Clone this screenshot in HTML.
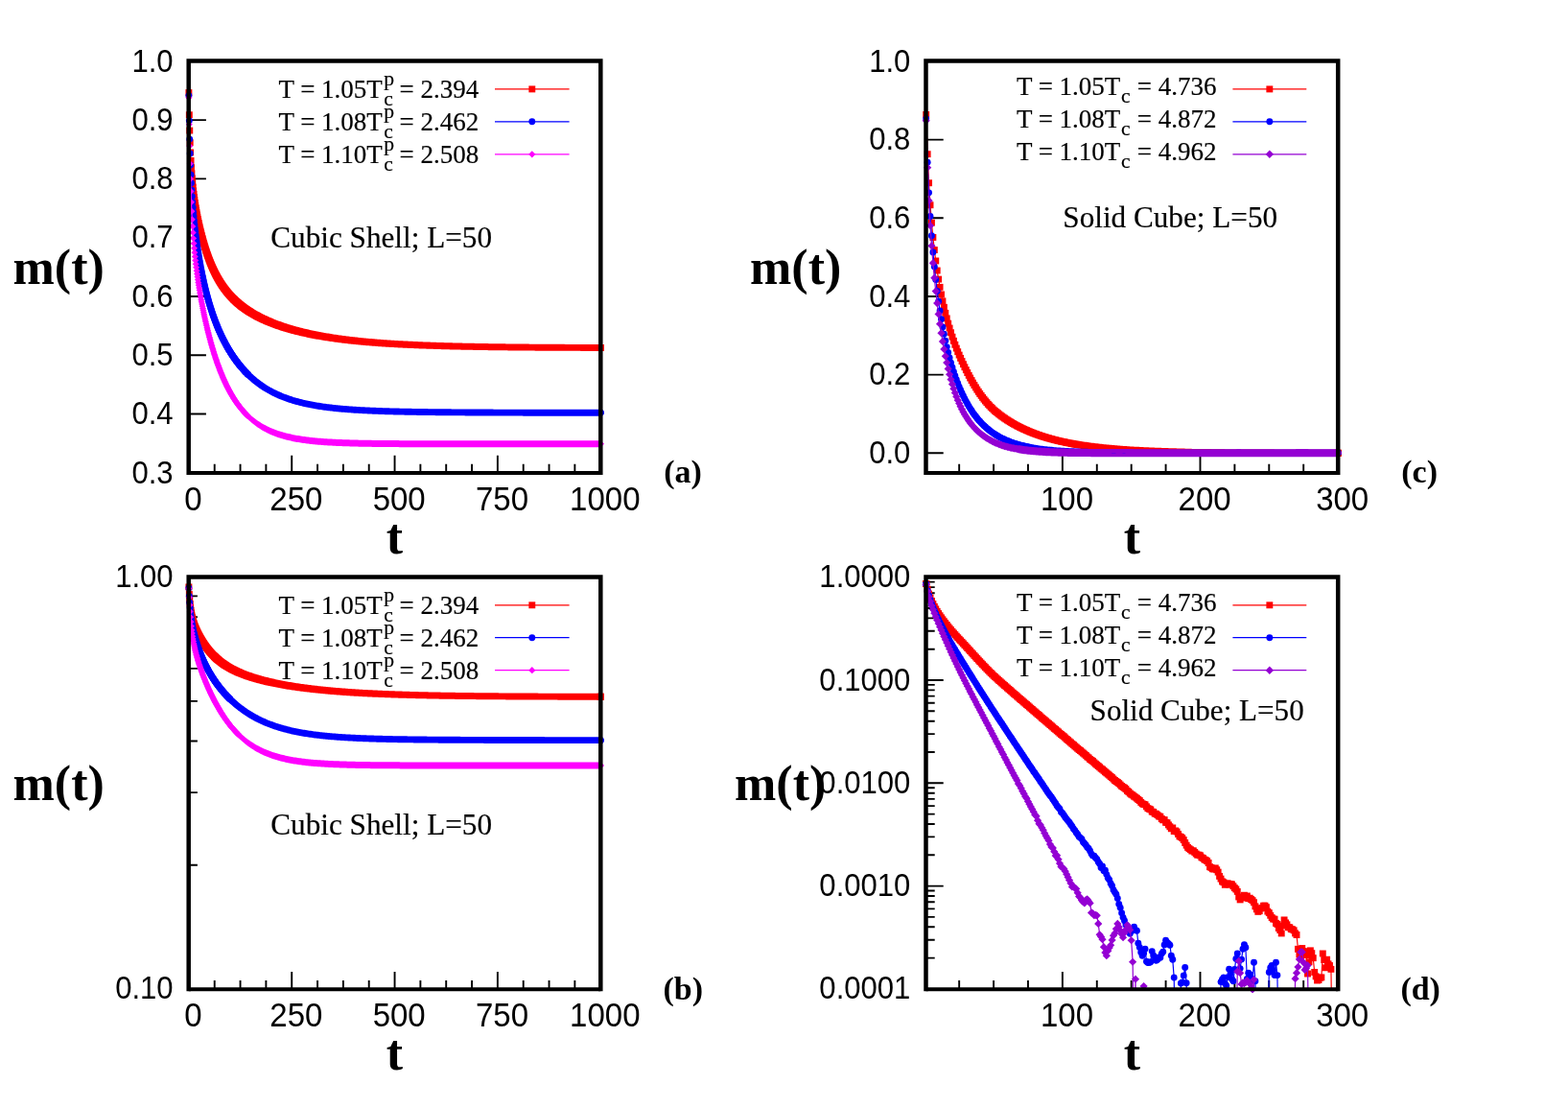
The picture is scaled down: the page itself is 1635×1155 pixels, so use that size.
<!DOCTYPE html>
<html lang="en"><head><meta charset="utf-8"><title>m(t) relaxation: Cubic Shell and Solid Cube, L=50</title>
<style>html,body{margin:0;padding:0;background:#fff}svg{display:block}text{fill:#000}.s{stroke:#000;stroke-width:0.18px}.n{stroke:#000;stroke-width:0.2px}</style></head><body>
<svg width="1635" height="1155" viewBox="0 0 1635 1155" role="img" aria-label="Magnetisation m(t) versus time t for a cubic shell and a solid cube, L=50">
<rect width="1635" height="1155" fill="#fff"/>
<defs>
<clipPath id="clipa"><rect x="192.4" y="59.4" width="438.3" height="437.8"/></clipPath>
<clipPath id="lclipa"><rect x="196.9" y="63.9" width="429.3" height="428.8"/></clipPath>
<clipPath id="clipb"><rect x="192.4" y="597.2" width="438.3" height="438.2"/></clipPath>
<clipPath id="lclipb"><rect x="196.9" y="601.7" width="429.3" height="429.2"/></clipPath>
<clipPath id="clipc"><rect x="961.2" y="59.4" width="438.4" height="437.8"/></clipPath>
<clipPath id="lclipc"><rect x="965.7" y="63.9" width="429.4" height="428.8"/></clipPath>
<clipPath id="clipd"><rect x="961.2" y="597.2" width="438.4" height="438.2"/></clipPath>
<clipPath id="lclipd"><rect x="965.7" y="601.7" width="429.4" height="429.2"/></clipPath>
<marker id="mk_sq_ff0000" markerUnits="userSpaceOnUse" markerWidth="10" markerHeight="10" viewBox="-5 -5 10 10" refX="0" refY="0" orient="0" overflow="visible"><rect x="-3.45" y="-3.45" width="6.9" height="6.9" fill="#ff0000"/></marker>
<marker id="mk_ci_0000ff" markerUnits="userSpaceOnUse" markerWidth="10" markerHeight="10" viewBox="-5 -5 10 10" refX="0" refY="0" orient="0" overflow="visible"><circle r="3.45" fill="#0000ff"/></marker>
<marker id="mk_di_ff00ff" markerUnits="userSpaceOnUse" markerWidth="10" markerHeight="10" viewBox="-5 -5 10 10" refX="0" refY="0" orient="0" overflow="visible"><path d="M-3.5 0L0 -3.5L3.5 0L0 3.5z" fill="#ff00ff"/></marker>
<marker id="mk_di_9400d3" markerUnits="userSpaceOnUse" markerWidth="10" markerHeight="10" viewBox="-5 -5 10 10" refX="0" refY="0" orient="0" overflow="visible"><path d="M-4.1 0L0 -4.1L4.1 0L0 4.1z" fill="#9400d3"/></marker>
</defs>
<path d="M304.23 492.7V474.7M411.55 492.7V474.7M518.88 492.7V474.7M223.73 492.7V483.7M250.56 492.7V483.7M277.39 492.7V483.7M331.06 492.7V483.7M357.89 492.7V483.7M384.72 492.7V483.7M438.38 492.7V483.7M465.21 492.7V483.7M492.04 492.7V483.7M545.71 492.7V483.7M572.54 492.7V483.7M599.37 492.7V483.7M196.9 431.44H214.9M196.9 370.19H214.9M196.9 308.93H214.9M196.9 247.67H214.9M196.9 186.41H214.9M196.9 125.16H214.9" stroke="#000" stroke-width="1.9" fill="none"/>
<g clip-path="url(#clipa)">
<path clip-path="url(#lclipa)" d="M196.9 96.59L197.33 119.73L197.76 136.07L198.19 148.73L198.62 158.95L199.05 167.41L199.48 174.56L199.91 180.69L200.33 186.04L200.76 190.76L201.19 195L201.62 198.84L202.05 202.36L202.48 205.62L202.91 208.67L203.34 211.54L203.77 214.25L204.2 216.84L204.63 219.32L205.06 221.7L205.49 223.99L205.92 226.21L206.34 228.35L206.77 230.44L207.2 232.46L207.63 234.43L208.06 236.35L208.49 238.22L208.92 240.04L209.35 241.82L209.78 243.55L210.21 245.25L210.64 246.9L211.07 248.52L211.5 250.1L211.93 251.65L212.35 253.17L212.78 254.65L213.21 256.09L213.64 257.51L214.07 258.9L214.5 260.26L214.93 261.58L215.36 262.89L215.79 264.16L216.22 265.41L216.65 266.63L217.08 267.83L217.51 269L217.94 270.15L218.37 271.28L218.79 272.38L219.22 273.46L219.65 274.52L220.08 275.56L220.51 276.58L220.94 277.58L221.37 278.56L221.8 279.52L222.23 280.47L222.66 281.39L223.09 282.3L223.52 283.2L223.95 284.07L224.38 284.93L224.8 285.77L225.23 286.6L225.66 287.42L226.09 288.22L226.52 289L226.95 289.77L227.38 290.53L227.81 291.28L228.24 292.01L228.67 292.73L229.1 293.43L229.53 294.13L229.96 294.81L230.39 295.49L230.81 296.15L231.24 296.8L231.67 297.44L232.1 298.07L232.53 298.69L232.96 299.3L233.39 299.9L233.82 300.49L234.25 301.07L234.68 301.64L235.11 302.2L235.54 302.76L235.97 303.31L236.4 303.84L236.82 304.37L237.25 304.9L237.68 305.41L238.11 305.92L238.54 306.42L238.97 306.91L239.4 307.4L239.83 307.88L240.26 308.35L240.69 308.82L241.12 309.28L241.55 309.73L241.98 310.18L242.41 310.62L242.84 311.06L243.26 311.48L243.69 311.91" fill="none" stroke="#ff0000" stroke-width="1.2" stroke-linejoin="round"/>
<path d="M196.9 96.59L197.33 119.73L197.76 136.07L198.19 148.73L198.62 158.95L199.05 167.41L199.48 174.56L199.91 180.69L200.33 186.04L200.76 190.76L201.19 195L201.62 198.84L202.05 202.36L202.48 205.62L202.91 208.67L203.34 211.54L203.77 214.25L204.2 216.84L204.63 219.32L205.06 221.7L205.49 223.99L205.92 226.21L206.34 228.35L206.77 230.44L207.2 232.46L207.63 234.43L208.06 236.35L208.49 238.22L208.92 240.04L209.35 241.82L209.78 243.55L210.21 245.25L210.64 246.9L211.07 248.52L211.5 250.1L211.93 251.65L212.35 253.17L212.78 254.65L213.21 256.09L213.64 257.51L214.07 258.9L214.5 260.26L214.93 261.58L215.36 262.89L215.79 264.16L216.22 265.41L216.65 266.63L217.08 267.83L217.51 269L217.94 270.15L218.37 271.28L218.79 272.38L219.22 273.46L219.65 274.52L220.08 275.56L220.51 276.58L220.94 277.58L221.37 278.56L221.8 279.52L222.23 280.47L222.66 281.39L223.09 282.3L223.52 283.2L223.95 284.07L224.38 284.93L224.8 285.77L225.23 286.6L225.66 287.42L226.09 288.22L226.52 289L226.95 289.77L227.38 290.53L227.81 291.28L228.24 292.01L228.67 292.73L229.1 293.43L229.53 294.13L229.96 294.81L230.39 295.49L230.81 296.15L231.24 296.8L231.67 297.44L232.1 298.07L232.53 298.69L232.96 299.3L233.39 299.9L233.82 300.49L234.25 301.07L234.68 301.64L235.11 302.2L235.54 302.76L235.97 303.31L236.4 303.84L236.82 304.37L237.25 304.9L237.68 305.41L238.11 305.92L238.54 306.42L238.97 306.91L239.4 307.4L239.83 307.88L240.26 308.35L240.69 308.82L241.12 309.28L241.55 309.73L241.98 310.18L242.41 310.62L242.84 311.06L243.26 311.48L243.69 311.91" fill="none" stroke="none" marker-start="url(#mk_sq_ff0000)" marker-mid="url(#mk_sq_ff0000)" marker-end="url(#mk_sq_ff0000)"/>
<path clip-path="url(#lclipa)" d="M626.2 362.48L626.2 362.48" fill="none" stroke="#ff0000" stroke-width="1.2" stroke-linejoin="round"/>
<path d="M626.2 362.48L626.2 362.48" fill="none" stroke="none" marker-start="url(#mk_sq_ff0000)" marker-mid="url(#mk_sq_ff0000)" marker-end="url(#mk_sq_ff0000)"/>
<path d="M247.14 308.46L248.43 309.7L249.72 310.89L251.01 312.04L252.3 313.15L253.58 314.22L254.87 315.25L256.16 316.24L257.45 317.21L258.73 318.14L260.02 319.04L261.31 319.92L262.6 320.77L263.89 321.59L265.17 322.39L266.46 323.16L267.75 323.92L269.04 324.65L270.33 325.36L271.61 326.06L272.9 326.73L274.19 327.39L275.48 328.03L276.77 328.66L278.05 329.27L279.34 329.86L280.63 330.45L281.92 331.01L283.2 331.57L284.49 332.11L285.78 332.63L287.07 333.15L288.36 333.65L289.64 334.15L290.93 334.63L292.22 335.1L293.51 335.56L294.8 336.01L296.08 336.46L297.37 336.89L298.66 337.31L299.95 337.73L301.24 338.13L302.52 338.53L303.81 338.92L305.1 339.3L306.39 339.67L307.68 340.04L308.96 340.4L310.25 340.75L311.54 341.09L312.83 341.43L314.11 341.76L315.4 342.09L316.69 342.4L317.98 342.72L319.27 343.02L320.55 343.32L321.84 343.62L323.13 343.9L324.42 344.19L325.71 344.46L326.99 344.74L328.28 345L329.57 345.26L330.86 345.52L332.15 345.77L333.43 346.02L334.72 346.26L336.01 346.5L337.3 346.73L338.58 346.96L339.87 347.19L341.16 347.41L342.45 347.62L343.74 347.83L345.02 348.04L346.31 348.25L347.6 348.45L348.89 348.64L350.18 348.84L351.46 349.03L352.75 349.21L354.04 349.39L355.33 349.57L356.62 349.75L357.9 349.92L359.19 350.09L360.48 350.26L361.77 350.42L363.05 350.58L364.34 350.74L365.63 350.89L366.92 351.04L368.21 351.19L369.49 351.34L370.78 351.48L372.07 351.62L373.36 351.76L374.65 351.89L375.93 352.03L377.22 352.16L378.51 352.28L379.8 352.41L381.09 352.53L382.37 352.65L383.66 352.77L384.95 352.89L386.24 353L387.52 353.12L388.81 353.23L390.1 353.33L391.39 353.44L392.68 353.55L393.96 353.65L395.25 353.75L396.54 353.85L397.83 353.94L399.12 354.04L400.4 354.13L401.69 354.23L402.98 354.32L404.27 354.4L405.56 354.49L406.84 354.58L408.13 354.66L409.42 354.74L410.71 354.82L411.99 354.9L413.28 354.98L414.57 355.06L415.86 355.13L417.15 355.2L418.43 355.28L419.72 355.35L421.01 355.42L422.3 355.49L423.59 355.55L424.87 355.62L426.16 355.68L427.45 355.75L428.74 355.81L430.03 355.87L431.31 355.93L432.6 355.99L433.89 356.05L435.18 356.11L436.47 356.16L437.75 356.22L439.04 356.27L440.33 356.32L441.62 356.38L442.9 356.43L444.19 356.48L445.48 356.53L446.77 356.57L448.06 356.62L449.34 356.67L450.63 356.71L451.92 356.76L453.21 356.8L454.5 356.85L455.78 356.89L457.07 356.93L458.36 356.97L459.65 357.01L460.94 357.05L462.22 357.09L463.51 357.13L464.8 357.17L466.09 357.2L467.37 357.24L468.66 357.28L469.95 357.31L471.24 357.34L472.53 357.38L473.81 357.41L475.1 357.44L476.39 357.48L477.68 357.51L478.97 357.54L480.25 357.57L481.54 357.6L482.83 357.63L484.12 357.66L485.41 357.68L486.69 357.71L487.98 357.74L489.27 357.77L490.56 357.79L491.84 357.82L493.13 357.84L494.42 357.87L495.71 357.89L497 357.92L498.28 357.94L499.57 357.96L500.86 357.98L502.15 358.01L503.44 358.03L504.72 358.05L506.01 358.07L507.3 358.09L508.59 358.11L509.88 358.13L511.16 358.15L512.45 358.17L513.74 358.19L515.03 358.21L516.31 358.23L517.6 358.24L518.89 358.26L520.18 358.28L521.47 358.3L522.75 358.31L524.04 358.33L525.33 358.35L526.62 358.36L527.91 358.38L529.19 358.39L530.48 358.41L531.77 358.42L533.06 358.44L534.35 358.45L535.63 358.47L536.92 358.48L538.21 358.49L539.5 358.51L540.78 358.52L542.07 358.53L543.36 358.54L544.65 358.56L545.94 358.57L547.22 358.58L548.51 358.59L549.8 358.6L551.09 358.62L552.38 358.63L553.66 358.64L554.95 358.65L556.24 358.66L557.53 358.67L558.82 358.68L560.1 358.69L561.39 358.7L562.68 358.71L563.97 358.72L565.26 358.73L566.54 358.74L567.83 358.75L569.12 358.75L570.41 358.76L571.69 358.77L572.98 358.78L574.27 358.79L575.56 358.8L576.85 358.8L578.13 358.81L579.42 358.82L580.71 358.83L582 358.83L583.29 358.84L584.57 358.85L585.86 358.86L587.15 358.86L588.44 358.87L589.73 358.88L591.01 358.88L592.3 358.89L593.59 358.9L594.88 358.9L596.16 358.91L597.45 358.91L598.74 358.92L600.03 358.93L601.32 358.93L602.6 358.94L603.89 358.94L605.18 358.95L606.47 358.95L607.76 358.96L609.04 358.96L610.33 358.97L611.62 358.97L612.91 358.98L614.2 358.98L615.48 358.99L616.77 358.99L618.06 359L619.35 359L620.63 359.01L621.92 359.01L623.21 359.01L624.5 359.02L625.79 359.02L627.07 359.03L628.36 359.03L629.65 359.03L629.65 365.93L622.75 365.93L621.46 365.93L620.17 365.93L618.89 365.92L617.6 365.92L616.31 365.91L615.02 365.91L613.73 365.91L612.45 365.9L611.16 365.9L609.87 365.89L608.58 365.89L607.3 365.88L606.01 365.88L604.72 365.87L603.43 365.87L602.14 365.86L600.86 365.86L599.57 365.85L598.28 365.85L596.99 365.84L595.7 365.84L594.42 365.83L593.13 365.83L591.84 365.82L590.55 365.81L589.26 365.81L587.98 365.8L586.69 365.8L585.4 365.79L584.11 365.78L582.83 365.78L581.54 365.77L580.25 365.76L578.96 365.76L577.67 365.75L576.39 365.74L575.1 365.73L573.81 365.73L572.52 365.72L571.23 365.71L569.95 365.7L568.66 365.7L567.37 365.69L566.08 365.68L564.79 365.67L563.51 365.66L562.22 365.65L560.93 365.65L559.64 365.64L558.36 365.63L557.07 365.62L555.78 365.61L554.49 365.6L553.2 365.59L551.92 365.58L550.63 365.57L549.34 365.56L548.05 365.55L546.76 365.54L545.48 365.53L544.19 365.52L542.9 365.5L541.61 365.49L540.32 365.48L539.04 365.47L537.75 365.46L536.46 365.44L535.17 365.43L533.88 365.42L532.6 365.41L531.31 365.39L530.02 365.38L528.73 365.37L527.45 365.35L526.16 365.34L524.87 365.32L523.58 365.31L522.29 365.29L521.01 365.28L519.72 365.26L518.43 365.25L517.14 365.23L515.85 365.21L514.57 365.2L513.28 365.18L511.99 365.16L510.7 365.14L509.41 365.13L508.13 365.11L506.84 365.09L505.55 365.07L504.26 365.05L502.98 365.03L501.69 365.01L500.4 364.99L499.11 364.97L497.82 364.95L496.54 364.93L495.25 364.91L493.96 364.88L492.67 364.86L491.38 364.84L490.1 364.82L488.81 364.79L487.52 364.77L486.23 364.74L484.94 364.72L483.66 364.69L482.37 364.67L481.08 364.64L479.79 364.61L478.51 364.58L477.22 364.56L475.93 364.53L474.64 364.5L473.35 364.47L472.07 364.44L470.78 364.41L469.49 364.38L468.2 364.34L466.91 364.31L465.63 364.28L464.34 364.24L463.05 364.21L461.76 364.18L460.47 364.14L459.19 364.1L457.9 364.07L456.61 364.03L455.32 363.99L454.04 363.95L452.75 363.91L451.46 363.87L450.17 363.83L448.88 363.79L447.6 363.75L446.31 363.7L445.02 363.66L443.73 363.61L442.44 363.57L441.16 363.52L439.87 363.47L438.58 363.43L437.29 363.38L436 363.33L434.72 363.28L433.43 363.22L432.14 363.17L430.85 363.12L429.57 363.06L428.28 363.01L426.99 362.95L425.7 362.89L424.41 362.83L423.13 362.77L421.84 362.71L420.55 362.65L419.26 362.58L417.97 362.52L416.69 362.45L415.4 362.39L414.11 362.32L412.82 362.25L411.53 362.18L410.25 362.1L408.96 362.03L407.67 361.96L406.38 361.88L405.09 361.8L403.81 361.72L402.52 361.64L401.23 361.56L399.94 361.48L398.66 361.39L397.37 361.3L396.08 361.22L394.79 361.13L393.5 361.03L392.22 360.94L390.93 360.84L389.64 360.75L388.35 360.65L387.06 360.55L385.78 360.45L384.49 360.34L383.2 360.23L381.91 360.13L380.62 360.02L379.34 359.9L378.05 359.79L376.76 359.67L375.47 359.55L374.19 359.43L372.9 359.31L371.61 359.18L370.32 359.06L369.03 358.93L367.75 358.79L366.46 358.66L365.17 358.52L363.88 358.38L362.59 358.24L361.31 358.09L360.02 357.94L358.73 357.79L357.44 357.64L356.15 357.48L354.87 357.32L353.58 357.16L352.29 356.99L351 356.82L349.72 356.65L348.43 356.47L347.14 356.29L345.85 356.11L344.56 355.93L343.28 355.74L341.99 355.54L340.7 355.35L339.41 355.15L338.12 354.94L336.84 354.73L335.55 354.52L334.26 354.31L332.97 354.09L331.68 353.86L330.4 353.63L329.11 353.4L327.82 353.16L326.53 352.92L325.25 352.67L323.96 352.42L322.67 352.16L321.38 351.9L320.09 351.64L318.81 351.36L317.52 351.09L316.23 350.8L314.94 350.52L313.65 350.22L312.37 349.92L311.08 349.62L309.79 349.3L308.5 348.99L307.21 348.66L305.93 348.33L304.64 347.99L303.35 347.65L302.06 347.3L300.78 346.94L299.49 346.57L298.2 346.2L296.91 345.82L295.62 345.43L294.34 345.03L293.05 344.63L291.76 344.21L290.47 343.79L289.18 343.36L287.9 342.91L286.61 342.46L285.32 342L284.03 341.53L282.74 341.05L281.46 340.55L280.17 340.05L278.88 339.53L277.59 339.01L276.3 338.47L275.02 337.91L273.73 337.35L272.44 336.76L271.15 336.17L269.87 335.56L268.58 334.93L267.29 334.29L266 333.63L264.71 332.96L263.43 332.26L262.14 331.55L260.85 330.82L259.56 330.06L258.27 329.29L256.99 328.49L255.7 327.67L254.41 326.82L253.12 325.94L251.83 325.04L250.55 324.11L249.26 323.14L247.97 322.15L246.68 321.12L245.4 320.05L244.11 318.94L242.82 317.79L241.53 316.6L240.24 315.36L240.24 308.46Z" fill="#ff0000"/>
</g>
<g clip-path="url(#clipa)">
<path clip-path="url(#lclipa)" d="M196.9 99.79L197.33 125.85L197.76 145.12L198.19 160.06L198.62 172.12L199.05 182.15L199.48 190.72L199.91 198.19L200.33 204.81L200.76 210.76L201.19 216.17L201.62 221.15L202.05 225.76L202.48 230.07L202.91 234.13L203.34 237.96L203.77 241.61L204.2 245.09L204.63 248.42L205.06 251.62L205.49 254.71L205.92 257.68L206.34 260.55L206.77 263.33L207.2 266.03L207.63 268.64L208.06 271.18L208.49 273.65L208.92 276.05L209.35 278.39L209.78 280.67L210.21 282.89L210.64 285.05L211.07 287.16L211.5 289.22L211.93 291.23L212.35 293.19L212.78 295.11L213.21 296.99L213.64 298.82L214.07 300.62L214.5 302.37L214.93 304.09L215.36 305.77L215.79 307.42L216.22 309.03L216.65 310.62L217.08 312.17L217.51 313.69L217.94 315.18L218.37 316.64L218.79 318.08L219.22 319.48L219.65 320.87L220.08 322.23L220.51 323.56L220.94 324.87L221.37 326.16L221.8 327.42L222.23 328.67L222.66 329.89L223.09 331.1L223.52 332.28L223.95 333.44L224.38 334.59L224.8 335.72L225.23 336.83L225.66 337.92L226.09 339L226.52 340.06L226.95 341.1L227.38 342.13L227.81 343.14L228.24 344.14L228.67 345.13L229.1 346.1L229.53 347.05L229.96 348L230.39 348.93L230.81 349.84L231.24 350.75L231.67 351.64L232.1 352.52L232.53 353.39L232.96 354.25L233.39 355.09L233.82 355.93L234.25 356.75L234.68 357.56L235.11 358.36L235.54 359.15L235.97 359.94L236.4 360.71L236.82 361.47L237.25 362.22L237.68 362.97L238.11 363.7L238.54 364.43L238.97 365.14L239.4 365.85L239.83 366.55L240.26 367.24L240.69 367.92L241.12 368.59L241.55 369.26L241.98 369.92L242.41 370.57L242.84 371.21L243.26 371.84L243.69 372.47L244.12 373.09L244.55 373.7L244.98 374.31L245.41 374.91L245.84 375.5L246.27 376.08L246.7 376.66L247.13 377.23L247.56 377.8L247.99 378.36L248.42 378.91L248.85 379.45L249.27 379.99L249.7 380.53L250.13 381.05L250.56 381.57L250.99 382.09L251.42 382.6L251.85 383.1L252.28 383.6L252.71 384.1L253.14 384.58L253.57 385.07L254 385.54L254.43 386.01L254.86 386.48L255.28 386.94L255.71 387.4L256.14 387.85L256.57 388.29L257 388.73L257.43 389.17L257.86 389.6L258.29 390.03L258.72 390.45" fill="none" stroke="#0000ff" stroke-width="1.2" stroke-linejoin="round"/>
<path d="M196.9 99.79L197.33 125.85L197.76 145.12L198.19 160.06L198.62 172.12L199.05 182.15L199.48 190.72L199.91 198.19L200.33 204.81L200.76 210.76L201.19 216.17L201.62 221.15L202.05 225.76L202.48 230.07L202.91 234.13L203.34 237.96L203.77 241.61L204.2 245.09L204.63 248.42L205.06 251.62L205.49 254.71L205.92 257.68L206.34 260.55L206.77 263.33L207.2 266.03L207.63 268.64L208.06 271.18L208.49 273.65L208.92 276.05L209.35 278.39L209.78 280.67L210.21 282.89L210.64 285.05L211.07 287.16L211.5 289.22L211.93 291.23L212.35 293.19L212.78 295.11L213.21 296.99L213.64 298.82L214.07 300.62L214.5 302.37L214.93 304.09L215.36 305.77L215.79 307.42L216.22 309.03L216.65 310.62L217.08 312.17L217.51 313.69L217.94 315.18L218.37 316.64L218.79 318.08L219.22 319.48L219.65 320.87L220.08 322.23L220.51 323.56L220.94 324.87L221.37 326.16L221.8 327.42L222.23 328.67L222.66 329.89L223.09 331.1L223.52 332.28L223.95 333.44L224.38 334.59L224.8 335.72L225.23 336.83L225.66 337.92L226.09 339L226.52 340.06L226.95 341.1L227.38 342.13L227.81 343.14L228.24 344.14L228.67 345.13L229.1 346.1L229.53 347.05L229.96 348L230.39 348.93L230.81 349.84L231.24 350.75L231.67 351.64L232.1 352.52L232.53 353.39L232.96 354.25L233.39 355.09L233.82 355.93L234.25 356.75L234.68 357.56L235.11 358.36L235.54 359.15L235.97 359.94L236.4 360.71L236.82 361.47L237.25 362.22L237.68 362.97L238.11 363.7L238.54 364.43L238.97 365.14L239.4 365.85L239.83 366.55L240.26 367.24L240.69 367.92L241.12 368.59L241.55 369.26L241.98 369.92L242.41 370.57L242.84 371.21L243.26 371.84L243.69 372.47L244.12 373.09L244.55 373.7L244.98 374.31L245.41 374.91L245.84 375.5L246.27 376.08L246.7 376.66L247.13 377.23L247.56 377.8L247.99 378.36L248.42 378.91L248.85 379.45L249.27 379.99L249.7 380.53L250.13 381.05L250.56 381.57L250.99 382.09L251.42 382.6L251.85 383.1L252.28 383.6L252.71 384.1L253.14 384.58L253.57 385.07L254 385.54L254.43 386.01L254.86 386.48L255.28 386.94L255.71 387.4L256.14 387.85L256.57 388.29L257 388.73L257.43 389.17L257.86 389.6L258.29 390.03L258.72 390.45" fill="none" stroke="none" marker-start="url(#mk_ci_0000ff)" marker-mid="url(#mk_ci_0000ff)" marker-end="url(#mk_ci_0000ff)"/>
<path clip-path="url(#lclipa)" d="M626.2 430.32L626.2 430.32" fill="none" stroke="#0000ff" stroke-width="1.2" stroke-linejoin="round"/>
<path d="M626.2 430.32L626.2 430.32" fill="none" stroke="none" marker-start="url(#mk_ci_0000ff)" marker-mid="url(#mk_ci_0000ff)" marker-end="url(#mk_ci_0000ff)"/>
<path d="M258.72 390.45L260.01 391.69L261.3 392.89L262.58 394.05L263.87 395.17L265.16 396.25L266.45 397.31L267.73 398.32L269.02 399.31L270.31 400.26L271.6 401.18L272.89 402.08L274.17 402.94L275.46 403.78L276.75 404.59L278.04 405.38L279.33 406.14L280.61 406.88L281.9 407.59L283.19 408.28L284.48 408.95L285.77 409.6L287.05 410.22L288.34 410.83L289.63 411.42L290.92 411.99L292.2 412.54L293.49 413.08L294.78 413.59L296.07 414.1L297.36 414.58L298.64 415.05L299.93 415.51L301.22 415.95L302.51 416.38L303.8 416.79L305.08 417.2L306.37 417.58L307.66 417.96L308.95 418.33L310.24 418.68L311.52 419.02L312.81 419.36L314.1 419.68L315.39 419.99L316.67 420.29L317.96 420.59L319.25 420.87L320.54 421.14L321.83 421.41L323.11 421.67L324.4 421.92L325.69 422.16L326.98 422.4L328.27 422.63L329.55 422.85L330.84 423.06L332.13 423.27L333.42 423.47L334.71 423.66L335.99 423.85L337.28 424.04L338.57 424.21L339.86 424.39L341.14 424.55L342.43 424.72L343.72 424.87L345.01 425.03L346.3 425.17L347.58 425.32L348.87 425.46L350.16 425.59L351.45 425.72L352.74 425.85L354.02 425.97L355.31 426.09L356.6 426.21L357.89 426.32L359.18 426.43L360.46 426.53L361.75 426.63L363.04 426.73L364.33 426.83L365.61 426.92L366.9 427.01L368.19 427.1L369.48 427.19L370.77 427.27L372.05 427.35L373.34 427.43L374.63 427.51L375.92 427.58L377.21 427.65L378.49 427.72L379.78 427.79L381.07 427.85L382.36 427.92L383.65 427.98L384.93 428.04L386.22 428.1L387.51 428.15L388.8 428.21L390.09 428.26L391.37 428.31L392.66 428.36L393.95 428.41L395.24 428.46L396.52 428.51L397.81 428.55L399.1 428.59L400.39 428.64L401.68 428.68L402.96 428.72L404.25 428.76L405.54 428.79L406.83 428.83L408.12 428.87L409.4 428.9L410.69 428.94L411.98 428.97L413.27 429L414.56 429.03L415.84 429.06L417.13 429.09L418.42 429.12L419.71 429.15L420.99 429.17L422.28 429.2L423.57 429.23L424.86 429.25L426.15 429.28L427.43 429.3L428.72 429.32L430.01 429.35L431.3 429.37L432.59 429.39L433.87 429.41L435.16 429.43L436.45 429.45L437.74 429.47L439.03 429.49L440.31 429.51L441.6 429.52L442.89 429.54L444.18 429.56L445.46 429.57L446.75 429.59L448.04 429.61L449.33 429.62L450.62 429.64L451.9 429.65L453.19 429.67L454.48 429.68L455.77 429.69L457.06 429.71L458.34 429.72L459.63 429.73L460.92 429.74L462.21 429.76L463.5 429.77L464.78 429.78L466.07 429.79L467.36 429.8L468.65 429.81L469.93 429.82L471.22 429.83L472.51 429.84L473.8 429.85L475.09 429.86L476.37 429.87L477.66 429.88L478.95 429.89L480.24 429.9L481.53 429.91L482.81 429.91L484.1 429.92L485.39 429.93L486.68 429.94L487.97 429.95L489.25 429.95L490.54 429.96L491.83 429.97L493.12 429.98L494.4 429.98L495.69 429.99L496.98 430L498.27 430L499.56 430.01L500.84 430.02L502.13 430.02L503.42 430.03L504.71 430.03L506 430.04L507.28 430.05L508.57 430.05L509.86 430.06L511.15 430.06L512.44 430.07L513.72 430.07L515.01 430.08L516.3 430.08L517.59 430.09L518.88 430.09L520.16 430.1L521.45 430.1L522.74 430.11L524.03 430.11L525.31 430.12L526.6 430.12L527.89 430.12L529.18 430.13L530.47 430.13L531.75 430.14L533.04 430.14L534.33 430.14L535.62 430.15L536.91 430.15L538.19 430.16L539.48 430.16L540.77 430.16L542.06 430.17L543.35 430.17L544.63 430.17L545.92 430.18L547.21 430.18L548.5 430.18L549.78 430.19L551.07 430.19L552.36 430.19L553.65 430.2L554.94 430.2L556.22 430.2L557.51 430.21L558.8 430.21L560.09 430.21L561.38 430.22L562.66 430.22L563.95 430.22L565.24 430.22L566.53 430.23L567.82 430.23L569.1 430.23L570.39 430.24L571.68 430.24L572.97 430.24L574.25 430.24L575.54 430.25L576.83 430.25L578.12 430.25L579.41 430.25L580.69 430.26L581.98 430.26L583.27 430.26L584.56 430.26L585.85 430.26L587.13 430.27L588.42 430.27L589.71 430.27L591 430.27L592.29 430.28L593.57 430.28L594.86 430.28L596.15 430.28L597.44 430.28L598.72 430.29L600.01 430.29L601.3 430.29L602.59 430.29L603.88 430.29L605.16 430.3L606.45 430.3L607.74 430.3L609.03 430.3L610.32 430.3L611.6 430.31L612.89 430.31L614.18 430.31L615.47 430.31L616.76 430.31L618.04 430.31L619.33 430.32L620.62 430.32L621.91 430.32L623.19 430.32L624.48 430.32L625.77 430.32L626.2 430.32" fill="none" stroke="#0000ff" stroke-width="6.9" stroke-linecap="round" stroke-linejoin="round"/>
</g>
<g clip-path="url(#clipa)">
<path clip-path="url(#lclipa)" d="M196.9 101.63L197.33 129.68L197.76 152.26L198.19 170.87L198.62 186.4L199.05 199.5L199.48 210.66L199.91 220.27L200.33 228.65L200.76 236.02L201.19 242.58L201.62 248.48L202.05 253.84L202.48 258.75L202.91 263.29L203.34 267.52L203.77 271.49L204.2 275.23L204.63 278.79L205.06 282.17L205.49 285.41L205.92 288.52L206.34 291.52L206.77 294.41L207.2 297.21L207.63 299.93L208.06 302.57L208.49 305.13L208.92 307.64L209.35 310.08L209.78 312.46L210.21 314.79L210.64 317.06L211.07 319.29L211.5 321.48L211.93 323.61L212.35 325.71L212.78 327.77L213.21 329.78L213.64 331.76L214.07 333.71L214.5 335.62L214.93 337.5L215.36 339.34L215.79 341.15L216.22 342.94L216.65 344.69L217.08 346.41L217.51 348.11L217.94 349.78L218.37 351.42L218.79 353.03L219.22 354.62L219.65 356.19L220.08 357.73L220.51 359.25L220.94 360.74L221.37 362.21L221.8 363.66L222.23 365.09L222.66 366.49L223.09 367.88L223.52 369.24L223.95 370.59L224.38 371.91L224.8 373.21L225.23 374.5L225.66 375.76L226.09 377.01L226.52 378.23L226.95 379.44L227.38 380.64L227.81 381.81L228.24 382.97L228.67 384.11L229.1 385.23L229.53 386.34L229.96 387.43L230.39 388.51L230.81 389.57L231.24 390.61L231.67 391.64L232.1 392.66L232.53 393.66L232.96 394.64L233.39 395.61L233.82 396.57L234.25 397.51L234.68 398.44L235.11 399.36L235.54 400.26L235.97 401.15L236.4 402.03L236.82 402.89L237.25 403.74L237.68 404.58L238.11 405.41L238.54 406.23L238.97 407.03L239.4 407.82L239.83 408.6L240.26 409.37L240.69 410.13L241.12 410.88L241.55 411.61L241.98 412.34L242.41 413.06L242.84 413.76L243.26 414.46L243.69 415.14L244.12 415.82L244.55 416.49L244.98 417.14L245.41 417.79L245.84 418.43L246.27 419.06L246.7 419.68L247.13 420.29L247.56 420.89L247.99 421.48L248.42 422.07L248.85 422.64L249.27 423.21L249.7 423.77L250.13 424.32L250.56 424.87L250.99 425.41L251.42 425.93L251.85 426.46L252.28 426.97L252.71 427.48L253.14 427.97L253.57 428.47L254 428.95L254.43 429.43L254.86 429.9L255.28 430.37L255.71 430.82L256.14 431.28L256.57 431.72L257 432.16L257.43 432.59L257.86 433.02L258.29 433.44" fill="none" stroke="#ff00ff" stroke-width="1.2" stroke-linejoin="round"/>
<path d="M196.9 101.63L197.33 129.68L197.76 152.26L198.19 170.87L198.62 186.4L199.05 199.5L199.48 210.66L199.91 220.27L200.33 228.65L200.76 236.02L201.19 242.58L201.62 248.48L202.05 253.84L202.48 258.75L202.91 263.29L203.34 267.52L203.77 271.49L204.2 275.23L204.63 278.79L205.06 282.17L205.49 285.41L205.92 288.52L206.34 291.52L206.77 294.41L207.2 297.21L207.63 299.93L208.06 302.57L208.49 305.13L208.92 307.64L209.35 310.08L209.78 312.46L210.21 314.79L210.64 317.06L211.07 319.29L211.5 321.48L211.93 323.61L212.35 325.71L212.78 327.77L213.21 329.78L213.64 331.76L214.07 333.71L214.5 335.62L214.93 337.5L215.36 339.34L215.79 341.15L216.22 342.94L216.65 344.69L217.08 346.41L217.51 348.11L217.94 349.78L218.37 351.42L218.79 353.03L219.22 354.62L219.65 356.19L220.08 357.73L220.51 359.25L220.94 360.74L221.37 362.21L221.8 363.66L222.23 365.09L222.66 366.49L223.09 367.88L223.52 369.24L223.95 370.59L224.38 371.91L224.8 373.21L225.23 374.5L225.66 375.76L226.09 377.01L226.52 378.23L226.95 379.44L227.38 380.64L227.81 381.81L228.24 382.97L228.67 384.11L229.1 385.23L229.53 386.34L229.96 387.43L230.39 388.51L230.81 389.57L231.24 390.61L231.67 391.64L232.1 392.66L232.53 393.66L232.96 394.64L233.39 395.61L233.82 396.57L234.25 397.51L234.68 398.44L235.11 399.36L235.54 400.26L235.97 401.15L236.4 402.03L236.82 402.89L237.25 403.74L237.68 404.58L238.11 405.41L238.54 406.23L238.97 407.03L239.4 407.82L239.83 408.6L240.26 409.37L240.69 410.13L241.12 410.88L241.55 411.61L241.98 412.34L242.41 413.06L242.84 413.76L243.26 414.46L243.69 415.14L244.12 415.82L244.55 416.49L244.98 417.14L245.41 417.79L245.84 418.43L246.27 419.06L246.7 419.68L247.13 420.29L247.56 420.89L247.99 421.48L248.42 422.07L248.85 422.64L249.27 423.21L249.7 423.77L250.13 424.32L250.56 424.87L250.99 425.41L251.42 425.93L251.85 426.46L252.28 426.97L252.71 427.48L253.14 427.97L253.57 428.47L254 428.95L254.43 429.43L254.86 429.9L255.28 430.37L255.71 430.82L256.14 431.28L256.57 431.72L257 432.16L257.43 432.59L257.86 433.02L258.29 433.44" fill="none" stroke="none" marker-start="url(#mk_di_ff00ff)" marker-mid="url(#mk_di_ff00ff)" marker-end="url(#mk_di_ff00ff)"/>
<path clip-path="url(#lclipa)" d="M626.2 462.81L626.2 462.81" fill="none" stroke="#ff00ff" stroke-width="1.2" stroke-linejoin="round"/>
<path d="M626.2 462.81L626.2 462.81" fill="none" stroke="none" marker-start="url(#mk_di_ff00ff)" marker-mid="url(#mk_di_ff00ff)" marker-end="url(#mk_di_ff00ff)"/>
<path d="M258.29 429.94L259.58 431.16L260.87 432.34L262.15 433.46L263.44 434.54L264.73 435.57L266.02 436.56L267.31 437.5L268.59 438.41L269.88 439.28L271.17 440.11L272.46 440.91L273.74 441.67L275.03 442.4L276.32 443.1L277.61 443.78L278.9 444.42L280.18 445.04L281.47 445.63L282.76 446.19L284.05 446.74L285.34 447.26L286.62 447.75L287.91 448.23L289.2 448.69L290.49 449.13L291.78 449.55L293.06 449.95L294.35 450.34L295.64 450.71L296.93 451.06L298.21 451.4L299.5 451.73L300.79 452.04L302.08 452.34L303.37 452.62L304.65 452.9L305.94 453.16L307.23 453.41L308.52 453.66L309.81 453.89L311.09 454.11L312.38 454.32L313.67 454.53L314.96 454.72L316.25 454.91L317.53 455.09L318.82 455.26L320.11 455.43L321.4 455.59L322.68 455.74L323.97 455.89L325.26 456.03L326.55 456.16L327.84 456.29L329.12 456.41L330.41 456.53L331.7 456.64L332.99 456.75L334.28 456.86L335.56 456.96L336.85 457.05L338.14 457.14L339.43 457.23L340.72 457.32L342 457.4L343.29 457.48L344.58 457.55L345.87 457.62L347.16 457.69L348.44 457.76L349.73 457.82L351.02 457.88L352.31 457.94L353.59 457.99L354.88 458.05L356.17 458.1L357.46 458.15L358.75 458.19L360.03 458.24L361.32 458.28L362.61 458.32L363.9 458.36L365.19 458.4L366.47 458.44L367.76 458.47L369.05 458.51L370.34 458.54L371.63 458.57L372.91 458.6L374.2 458.63L375.49 458.66L376.78 458.68L378.06 458.71L379.35 458.73L380.64 458.75L381.93 458.78L383.22 458.8L384.5 458.82L385.79 458.84L387.08 458.86L388.37 458.88L389.66 458.89L390.94 458.91L392.23 458.93L393.52 458.94L394.81 458.96L396.1 458.97L397.38 458.98L398.67 459L399.96 459.01L401.25 459.02L402.53 459.03L403.82 459.04L405.11 459.05L406.4 459.06L407.69 459.07L408.97 459.08L410.26 459.09L411.55 459.1L412.84 459.11L414.13 459.12L415.41 459.12L416.7 459.13L417.99 459.14L419.28 459.15L420.57 459.15L421.85 459.16L423.14 459.16L424.43 459.17L425.72 459.18L427 459.18L428.29 459.19L429.58 459.19L430.87 459.2L432.16 459.2L433.44 459.2L434.73 459.21L436.02 459.21L437.31 459.22L438.6 459.22L439.88 459.22L441.17 459.23L442.46 459.23L443.75 459.23L445.04 459.24L446.32 459.24L447.61 459.24L448.9 459.24L450.19 459.25L451.47 459.25L452.76 459.25L454.05 459.25L455.34 459.26L456.63 459.26L457.91 459.26L459.2 459.26L460.49 459.26L461.78 459.26L463.07 459.27L464.35 459.27L465.64 459.27L466.93 459.27L468.22 459.27L469.51 459.27L470.79 459.27L472.08 459.28L473.37 459.28L474.66 459.28L475.95 459.28L477.23 459.28L478.52 459.28L479.81 459.28L481.1 459.28L482.38 459.28L483.67 459.29L484.96 459.29L486.25 459.29L487.54 459.29L488.82 459.29L490.11 459.29L491.4 459.29L492.69 459.29L493.98 459.29L495.26 459.29L496.55 459.29L497.84 459.29L499.13 459.29L500.42 459.29L501.7 459.29L502.99 459.3L504.28 459.3L505.57 459.3L506.85 459.3L508.14 459.3L509.43 459.3L510.72 459.3L512.01 459.3L513.29 459.3L514.58 459.3L515.87 459.3L517.16 459.3L518.45 459.3L519.73 459.3L521.02 459.3L522.31 459.3L523.6 459.3L524.89 459.3L526.17 459.3L527.46 459.3L528.75 459.3L530.04 459.3L531.32 459.3L532.61 459.3L533.9 459.3L535.19 459.3L536.48 459.3L537.76 459.3L539.05 459.3L540.34 459.3L541.63 459.3L542.92 459.3L544.2 459.3L545.49 459.3L546.78 459.3L548.07 459.3L549.36 459.3L550.64 459.3L551.93 459.3L553.22 459.3L554.51 459.3L555.79 459.3L557.08 459.3L558.37 459.3L559.66 459.3L560.95 459.3L562.23 459.3L563.52 459.3L564.81 459.3L566.1 459.3L567.39 459.3L568.67 459.31L569.96 459.31L571.25 459.31L572.54 459.31L573.83 459.31L575.11 459.31L576.4 459.31L577.69 459.31L578.98 459.31L580.26 459.31L581.55 459.31L582.84 459.31L584.13 459.31L585.42 459.31L586.7 459.31L587.99 459.31L589.28 459.31L590.57 459.31L591.86 459.31L593.14 459.31L594.43 459.31L595.72 459.31L597.01 459.31L598.3 459.31L599.58 459.31L600.87 459.31L602.16 459.31L603.45 459.31L604.74 459.31L606.02 459.31L607.31 459.31L608.6 459.31L609.89 459.31L611.17 459.31L612.46 459.31L613.75 459.31L615.04 459.31L616.33 459.31L617.61 459.31L618.9 459.31L620.19 459.31L621.48 459.31L622.77 459.31L624.05 459.31L625.34 459.31L626.2 459.31L626.2 466.31L625.34 466.31L624.05 466.31L622.77 466.31L621.48 466.31L620.19 466.31L618.9 466.31L617.61 466.31L616.33 466.31L615.04 466.31L613.75 466.31L612.46 466.31L611.17 466.31L609.89 466.31L608.6 466.31L607.31 466.31L606.02 466.31L604.74 466.31L603.45 466.31L602.16 466.31L600.87 466.31L599.58 466.31L598.3 466.31L597.01 466.31L595.72 466.31L594.43 466.31L593.14 466.31L591.86 466.31L590.57 466.31L589.28 466.31L587.99 466.31L586.7 466.31L585.42 466.31L584.13 466.31L582.84 466.31L581.55 466.31L580.26 466.31L578.98 466.31L577.69 466.31L576.4 466.31L575.11 466.31L573.83 466.31L572.54 466.31L571.25 466.31L569.96 466.31L568.67 466.31L567.39 466.3L566.1 466.3L564.81 466.3L563.52 466.3L562.23 466.3L560.95 466.3L559.66 466.3L558.37 466.3L557.08 466.3L555.79 466.3L554.51 466.3L553.22 466.3L551.93 466.3L550.64 466.3L549.36 466.3L548.07 466.3L546.78 466.3L545.49 466.3L544.2 466.3L542.92 466.3L541.63 466.3L540.34 466.3L539.05 466.3L537.76 466.3L536.48 466.3L535.19 466.3L533.9 466.3L532.61 466.3L531.32 466.3L530.04 466.3L528.75 466.3L527.46 466.3L526.17 466.3L524.89 466.3L523.6 466.3L522.31 466.3L521.02 466.3L519.73 466.3L518.45 466.3L517.16 466.3L515.87 466.3L514.58 466.3L513.29 466.3L512.01 466.3L510.72 466.3L509.43 466.3L508.14 466.3L506.85 466.3L505.57 466.3L504.28 466.3L502.99 466.3L501.7 466.29L500.42 466.29L499.13 466.29L497.84 466.29L496.55 466.29L495.26 466.29L493.98 466.29L492.69 466.29L491.4 466.29L490.11 466.29L488.82 466.29L487.54 466.29L486.25 466.29L484.96 466.29L483.67 466.29L482.38 466.28L481.1 466.28L479.81 466.28L478.52 466.28L477.23 466.28L475.95 466.28L474.66 466.28L473.37 466.28L472.08 466.28L470.79 466.27L469.51 466.27L468.22 466.27L466.93 466.27L465.64 466.27L464.35 466.27L463.07 466.27L461.78 466.26L460.49 466.26L459.2 466.26L457.91 466.26L456.63 466.26L455.34 466.26L454.05 466.25L452.76 466.25L451.47 466.25L450.19 466.25L448.9 466.24L447.61 466.24L446.32 466.24L445.04 466.24L443.75 466.23L442.46 466.23L441.17 466.23L439.88 466.22L438.6 466.22L437.31 466.22L436.02 466.21L434.73 466.21L433.44 466.2L432.16 466.2L430.87 466.2L429.58 466.19L428.29 466.19L427 466.18L425.72 466.18L424.43 466.17L423.14 466.16L421.85 466.16L420.57 466.15L419.28 466.15L417.99 466.14L416.7 466.13L415.41 466.12L414.13 466.12L412.84 466.11L411.55 466.1L410.26 466.09L408.97 466.08L407.69 466.07L406.4 466.06L405.11 466.05L403.82 466.04L402.53 466.03L401.25 466.02L399.96 466.01L398.67 466L397.38 465.98L396.1 465.97L394.81 465.96L393.52 465.94L392.23 465.93L390.94 465.91L389.66 465.89L388.37 465.88L387.08 465.86L385.79 465.84L384.5 465.82L383.22 465.8L381.93 465.78L380.64 465.75L379.35 465.73L378.06 465.71L376.78 465.68L375.49 465.66L374.2 465.63L372.91 465.6L371.63 465.57L370.34 465.54L369.05 465.51L367.76 465.47L366.47 465.44L365.19 465.4L363.9 465.36L362.61 465.32L361.32 465.28L360.03 465.24L358.75 465.19L357.46 465.15L356.17 465.1L354.88 465.05L353.59 464.99L352.31 464.94L351.02 464.88L349.73 464.82L348.44 464.76L347.16 464.69L345.87 464.62L344.58 464.55L343.29 464.48L342 464.4L340.72 464.32L339.43 464.23L338.14 464.14L336.85 464.05L335.56 463.96L334.28 463.86L332.99 463.75L331.7 463.64L330.41 463.53L329.12 463.41L327.84 463.29L326.55 463.16L325.26 463.03L323.97 462.89L322.68 462.74L321.4 462.59L320.11 462.43L318.82 462.26L317.53 462.09L316.25 461.91L314.96 461.72L313.67 461.53L312.38 461.32L311.09 461.11L309.81 460.89L308.52 460.66L307.23 460.41L305.94 460.16L304.65 459.9L303.37 459.62L302.08 459.34L300.79 459.04L299.5 458.73L298.21 458.4L296.93 458.06L295.64 457.71L294.35 457.34L293.06 456.95L291.78 456.55L290.49 456.13L289.2 455.69L287.91 455.23L286.62 454.75L285.34 454.26L284.05 453.74L282.76 453.19L281.47 452.63L280.18 452.04L278.9 451.42L277.61 450.78L276.32 450.1L275.03 449.4L273.74 448.67L272.46 447.91L271.17 447.11L269.88 446.28L268.59 445.41L267.31 444.5L266.02 443.56L264.73 442.57L263.44 441.54L262.15 440.46L260.87 439.34L259.58 438.16L258.29 436.94ZM261.79 433.44L263.08 434.66L264.37 435.84L265.65 436.96L266.94 438.04L268.23 439.07L269.52 440.06L270.81 441L272.09 441.91L273.38 442.78L274.67 443.61L275.96 444.41L277.24 445.17L278.53 445.9L279.82 446.6L281.11 447.28L282.4 447.92L283.68 448.54L284.97 449.13L286.26 449.69L287.55 450.24L288.84 450.76L290.12 451.25L291.41 451.73L292.7 452.19L293.99 452.63L295.28 453.05L296.56 453.45L297.85 453.84L299.14 454.21L300.43 454.56L301.71 454.9L303 455.23L304.29 455.54L305.58 455.84L306.87 456.12L308.15 456.4L309.44 456.66L310.73 456.91L312.02 457.16L313.31 457.39L314.59 457.61L315.88 457.82L317.17 458.03L318.46 458.22L319.75 458.41L321.03 458.59L322.32 458.76L323.61 458.93L324.9 459.09L326.18 459.24L327.47 459.39L328.76 459.53L330.05 459.66L331.34 459.79L332.62 459.91L333.91 460.03L335.2 460.14L336.49 460.25L337.78 460.36L339.06 460.46L340.35 460.55L341.64 460.64L342.93 460.73L344.22 460.82L345.5 460.9L346.79 460.98L348.08 461.05L349.37 461.12L350.66 461.19L351.94 461.26L353.23 461.32L354.52 461.38L355.81 461.44L357.09 461.49L358.38 461.55L359.67 461.6L360.96 461.65L362.25 461.69L363.53 461.74L364.82 461.78L366.11 461.82L367.4 461.86L368.69 461.9L369.97 461.94L371.26 461.97L372.55 462.01L373.84 462.04L375.13 462.07L376.41 462.1L377.7 462.13L378.99 462.16L380.28 462.18L381.56 462.21L382.85 462.23L384.14 462.25L385.43 462.28L386.72 462.3L388 462.32L389.29 462.34L390.58 462.36L391.87 462.38L393.16 462.39L394.44 462.41L395.73 462.43L397.02 462.44L398.31 462.46L399.6 462.47L400.88 462.48L402.17 462.5L403.46 462.51L404.75 462.52L406.03 462.53L407.32 462.54L408.61 462.55L409.9 462.56L411.19 462.57L412.47 462.58L413.76 462.59L415.05 462.6L416.34 462.61L417.63 462.62L418.91 462.62L420.2 462.63L421.49 462.64L422.78 462.65L424.07 462.65L425.35 462.66L426.64 462.66L427.93 462.67L429.22 462.68L430.5 462.68L431.79 462.69L433.08 462.69L434.37 462.7L435.66 462.7L436.94 462.7L438.23 462.71L439.52 462.71L440.81 462.72L442.1 462.72L443.38 462.72L444.67 462.73L445.96 462.73L447.25 462.73L448.54 462.74L449.82 462.74L451.11 462.74L452.4 462.74L453.69 462.75L454.97 462.75L456.26 462.75L457.55 462.75L458.84 462.76L460.13 462.76L461.41 462.76L462.7 462.76L463.99 462.76L465.28 462.76L466.57 462.77L467.85 462.77L469.14 462.77L470.43 462.77L471.72 462.77L473.01 462.77L474.29 462.77L475.58 462.78L476.87 462.78L478.16 462.78L479.45 462.78L480.73 462.78L482.02 462.78L483.31 462.78L484.6 462.78L485.88 462.78L487.17 462.79L488.46 462.79L489.75 462.79L491.04 462.79L492.32 462.79L493.61 462.79L494.9 462.79L496.19 462.79L497.48 462.79L498.76 462.79L500.05 462.79L501.34 462.79L502.63 462.79L503.92 462.79L505.2 462.79L506.49 462.8L507.78 462.8L509.07 462.8L510.35 462.8L511.64 462.8L512.93 462.8L514.22 462.8L515.51 462.8L516.79 462.8L518.08 462.8L519.37 462.8L520.66 462.8L521.95 462.8L523.23 462.8L524.52 462.8L525.81 462.8L527.1 462.8L528.39 462.8L529.67 462.8L530.96 462.8L532.25 462.8L533.54 462.8L534.82 462.8L536.11 462.8L537.4 462.8L538.69 462.8L539.98 462.8L541.26 462.8L542.55 462.8L543.84 462.8L545.13 462.8L546.42 462.8L547.7 462.8L548.99 462.8L550.28 462.8L551.57 462.8L552.86 462.8L554.14 462.8L555.43 462.8L556.72 462.8L558.01 462.8L559.29 462.8L560.58 462.8L561.87 462.8L563.16 462.8L564.45 462.8L565.73 462.8L567.02 462.8L568.31 462.8L569.6 462.8L570.89 462.8L572.17 462.81L573.46 462.81L574.75 462.81L576.04 462.81L577.33 462.81L578.61 462.81L579.9 462.81L581.19 462.81L582.48 462.81L583.76 462.81L585.05 462.81L586.34 462.81L587.63 462.81L588.92 462.81L590.2 462.81L591.49 462.81L592.78 462.81L594.07 462.81L595.36 462.81L596.64 462.81L597.93 462.81L599.22 462.81L600.51 462.81L601.8 462.81L603.08 462.81L604.37 462.81L605.66 462.81L606.95 462.81L608.24 462.81L609.52 462.81L610.81 462.81L612.1 462.81L613.39 462.81L614.67 462.81L615.96 462.81L617.25 462.81L618.54 462.81L619.83 462.81L621.11 462.81L622.4 462.81L623.69 462.81L624.98 462.81L626.27 462.81L627.55 462.81L628.84 462.81L629.7 462.81L622.7 462.81L621.84 462.81L620.55 462.81L619.27 462.81L617.98 462.81L616.69 462.81L615.4 462.81L614.11 462.81L612.83 462.81L611.54 462.81L610.25 462.81L608.96 462.81L607.67 462.81L606.39 462.81L605.1 462.81L603.81 462.81L602.52 462.81L601.24 462.81L599.95 462.81L598.66 462.81L597.37 462.81L596.08 462.81L594.8 462.81L593.51 462.81L592.22 462.81L590.93 462.81L589.64 462.81L588.36 462.81L587.07 462.81L585.78 462.81L584.49 462.81L583.2 462.81L581.92 462.81L580.63 462.81L579.34 462.81L578.05 462.81L576.76 462.81L575.48 462.81L574.19 462.81L572.9 462.81L571.61 462.81L570.33 462.81L569.04 462.81L567.75 462.81L566.46 462.81L565.17 462.81L563.89 462.8L562.6 462.8L561.31 462.8L560.02 462.8L558.73 462.8L557.45 462.8L556.16 462.8L554.87 462.8L553.58 462.8L552.29 462.8L551.01 462.8L549.72 462.8L548.43 462.8L547.14 462.8L545.86 462.8L544.57 462.8L543.28 462.8L541.99 462.8L540.7 462.8L539.42 462.8L538.13 462.8L536.84 462.8L535.55 462.8L534.26 462.8L532.98 462.8L531.69 462.8L530.4 462.8L529.11 462.8L527.82 462.8L526.54 462.8L525.25 462.8L523.96 462.8L522.67 462.8L521.39 462.8L520.1 462.8L518.81 462.8L517.52 462.8L516.23 462.8L514.95 462.8L513.66 462.8L512.37 462.8L511.08 462.8L509.79 462.8L508.51 462.8L507.22 462.8L505.93 462.8L504.64 462.8L503.35 462.8L502.07 462.8L500.78 462.8L499.49 462.8L498.2 462.79L496.92 462.79L495.63 462.79L494.34 462.79L493.05 462.79L491.76 462.79L490.48 462.79L489.19 462.79L487.9 462.79L486.61 462.79L485.32 462.79L484.04 462.79L482.75 462.79L481.46 462.79L480.17 462.79L478.88 462.78L477.6 462.78L476.31 462.78L475.02 462.78L473.73 462.78L472.45 462.78L471.16 462.78L469.87 462.78L468.58 462.78L467.29 462.77L466.01 462.77L464.72 462.77L463.43 462.77L462.14 462.77L460.85 462.77L459.57 462.77L458.28 462.76L456.99 462.76L455.7 462.76L454.41 462.76L453.13 462.76L451.84 462.76L450.55 462.75L449.26 462.75L447.97 462.75L446.69 462.75L445.4 462.74L444.11 462.74L442.82 462.74L441.54 462.74L440.25 462.73L438.96 462.73L437.67 462.73L436.38 462.72L435.1 462.72L433.81 462.72L432.52 462.71L431.23 462.71L429.94 462.7L428.66 462.7L427.37 462.7L426.08 462.69L424.79 462.69L423.5 462.68L422.22 462.68L420.93 462.67L419.64 462.66L418.35 462.66L417.07 462.65L415.78 462.65L414.49 462.64L413.2 462.63L411.91 462.62L410.63 462.62L409.34 462.61L408.05 462.6L406.76 462.59L405.47 462.58L404.19 462.57L402.9 462.56L401.61 462.55L400.32 462.54L399.03 462.53L397.75 462.52L396.46 462.51L395.17 462.5L393.88 462.48L392.6 462.47L391.31 462.46L390.02 462.44L388.73 462.43L387.44 462.41L386.16 462.39L384.87 462.38L383.58 462.36L382.29 462.34L381 462.32L379.72 462.3L378.43 462.28L377.14 462.25L375.85 462.23L374.56 462.21L373.28 462.18L371.99 462.16L370.7 462.13L369.41 462.1L368.13 462.07L366.84 462.04L365.55 462.01L364.26 461.97L362.97 461.94L361.69 461.9L360.4 461.86L359.11 461.82L357.82 461.78L356.53 461.74L355.25 461.69L353.96 461.65L352.67 461.6L351.38 461.55L350.09 461.49L348.81 461.44L347.52 461.38L346.23 461.32L344.94 461.26L343.66 461.19L342.37 461.12L341.08 461.05L339.79 460.98L338.5 460.9L337.22 460.82L335.93 460.73L334.64 460.64L333.35 460.55L332.06 460.46L330.78 460.36L329.49 460.25L328.2 460.14L326.91 460.03L325.62 459.91L324.34 459.79L323.05 459.66L321.76 459.53L320.47 459.39L319.18 459.24L317.9 459.09L316.61 458.93L315.32 458.76L314.03 458.59L312.75 458.41L311.46 458.22L310.17 458.03L308.88 457.82L307.59 457.61L306.31 457.39L305.02 457.16L303.73 456.91L302.44 456.66L301.15 456.4L299.87 456.12L298.58 455.84L297.29 455.54L296 455.23L294.71 454.9L293.43 454.56L292.14 454.21L290.85 453.84L289.56 453.45L288.28 453.05L286.99 452.63L285.7 452.19L284.41 451.73L283.12 451.25L281.84 450.76L280.55 450.24L279.26 449.69L277.97 449.13L276.68 448.54L275.4 447.92L274.11 447.28L272.82 446.6L271.53 445.9L270.24 445.17L268.96 444.41L267.67 443.61L266.38 442.78L265.09 441.91L263.81 441L262.52 440.06L261.23 439.07L259.94 438.04L258.65 436.96L257.37 435.84L256.08 434.66L254.79 433.44ZM254.79 433.44L258.29 429.94L261.79 433.44L258.29 436.94ZM622.7 462.81L626.2 459.31L629.7 462.81L626.2 466.31Z" fill="#ff00ff" fill-rule="nonzero"/>
</g>
<path d="M196.7 61.35V494.95M626.3 61.35V494.95M196.7 63.6H626.3" fill="none" stroke="#000" stroke-width="4.5"/>
<path d="M196.7 493H626.3" fill="none" stroke="#000" stroke-width="3.9"/>
<text transform="translate(180.6 503.5) scale(0.928 1)" text-anchor="end" font-family="'Liberation Sans', sans-serif" font-size="33.5">0.3</text>
<text transform="translate(180.6 442.24) scale(0.928 1)" text-anchor="end" font-family="'Liberation Sans', sans-serif" font-size="33.5">0.4</text>
<text transform="translate(180.6 380.99) scale(0.928 1)" text-anchor="end" font-family="'Liberation Sans', sans-serif" font-size="33.5">0.5</text>
<text transform="translate(180.6 319.73) scale(0.928 1)" text-anchor="end" font-family="'Liberation Sans', sans-serif" font-size="33.5">0.6</text>
<text transform="translate(180.6 258.47) scale(0.928 1)" text-anchor="end" font-family="'Liberation Sans', sans-serif" font-size="33.5">0.7</text>
<text transform="translate(180.6 197.21) scale(0.928 1)" text-anchor="end" font-family="'Liberation Sans', sans-serif" font-size="33.5">0.8</text>
<text transform="translate(180.6 135.96) scale(0.928 1)" text-anchor="end" font-family="'Liberation Sans', sans-serif" font-size="33.5">0.9</text>
<text transform="translate(180.6 74.7) scale(0.928 1)" text-anchor="end" font-family="'Liberation Sans', sans-serif" font-size="33.5">1.0</text>
<text transform="translate(201.5 532.4) scale(0.917 1)" text-anchor="middle" font-family="'Liberation Sans', sans-serif" font-size="36.0">0</text>
<text transform="translate(308.83 532.4) scale(0.917 1)" text-anchor="middle" font-family="'Liberation Sans', sans-serif" font-size="36.0">250</text>
<text transform="translate(416.15 532.4) scale(0.917 1)" text-anchor="middle" font-family="'Liberation Sans', sans-serif" font-size="36.0">500</text>
<text transform="translate(523.48 532.4) scale(0.917 1)" text-anchor="middle" font-family="'Liberation Sans', sans-serif" font-size="36.0">750</text>
<text transform="translate(630.8 532.4) scale(0.917 1)" text-anchor="middle" font-family="'Liberation Sans', sans-serif" font-size="36.0">1000</text>
<path d="M304.23 1030.9V1012.9M411.55 1030.9V1012.9M518.88 1030.9V1012.9M223.73 1030.9V1021.9M250.56 1030.9V1021.9M277.39 1030.9V1021.9M331.06 1030.9V1021.9M357.89 1030.9V1021.9M384.72 1030.9V1021.9M438.38 1030.9V1021.9M465.21 1030.9V1021.9M492.04 1030.9V1021.9M545.71 1030.9V1021.9M572.54 1030.9V1021.9M599.37 1030.9V1021.9M196.9 901.7H205.9M196.9 826.12H205.9M196.9 772.5H205.9M196.9 730.9H205.9M196.9 696.92H205.9M196.9 668.18H205.9M196.9 643.29H205.9M196.9 621.34H205.9" stroke="#000" stroke-width="1.9" fill="none"/>
<g clip-path="url(#clipb)">
<path clip-path="url(#lclipb)" d="M196.9 611.92L197.33 619.51L197.76 625.07L198.19 629.48L198.62 633.13L199.05 636.2L199.48 638.84L199.91 641.13L200.33 643.15L200.76 644.96L201.19 646.59L201.62 648.08L202.05 649.46L202.48 650.75L202.91 651.96L203.34 653.1L203.77 654.2L204.2 655.24L204.63 656.25L205.06 657.22L205.49 658.16L205.92 659.08L206.34 659.97L206.77 660.84L207.2 661.69L207.63 662.51L208.06 663.32L208.49 664.12L208.92 664.89L209.35 665.66L209.78 666.4L210.21 667.13L210.64 667.85L211.07 668.55L211.5 669.24L211.93 669.92L212.35 670.59L212.78 671.24L213.21 671.88L213.64 672.51L214.07 673.13L214.5 673.74L214.93 674.33L215.36 674.92L215.79 675.49L216.22 676.06L216.65 676.61L217.08 677.16L217.51 677.69L217.94 678.22L218.37 678.74L218.79 679.25L219.22 679.75L219.65 680.24L220.08 680.72L220.51 681.19L220.94 681.66L221.37 682.12L221.8 682.57L222.23 683.02L222.66 683.45L223.09 683.88L223.52 684.3" fill="none" stroke="#ff0000" stroke-width="1.2" stroke-linejoin="round"/>
<path d="M196.9 611.92L197.33 619.51L197.76 625.07L198.19 629.48L198.62 633.13L199.05 636.2L199.48 638.84L199.91 641.13L200.33 643.15L200.76 644.96L201.19 646.59L201.62 648.08L202.05 649.46L202.48 650.75L202.91 651.96L203.34 653.1L203.77 654.2L204.2 655.24L204.63 656.25L205.06 657.22L205.49 658.16L205.92 659.08L206.34 659.97L206.77 660.84L207.2 661.69L207.63 662.51L208.06 663.32L208.49 664.12L208.92 664.89L209.35 665.66L209.78 666.4L210.21 667.13L210.64 667.85L211.07 668.55L211.5 669.24L211.93 669.92L212.35 670.59L212.78 671.24L213.21 671.88L213.64 672.51L214.07 673.13L214.5 673.74L214.93 674.33L215.36 674.92L215.79 675.49L216.22 676.06L216.65 676.61L217.08 677.16L217.51 677.69L217.94 678.22L218.37 678.74L218.79 679.25L219.22 679.75L219.65 680.24L220.08 680.72L220.51 681.19L220.94 681.66L221.37 682.12L221.8 682.57L222.23 683.02L222.66 683.45L223.09 683.88L223.52 684.3" fill="none" stroke="none" marker-start="url(#mk_sq_ff0000)" marker-mid="url(#mk_sq_ff0000)" marker-end="url(#mk_sq_ff0000)"/>
<path clip-path="url(#lclipb)" d="M626.2 726.27L626.2 726.27" fill="none" stroke="#ff0000" stroke-width="1.2" stroke-linejoin="round"/>
<path d="M626.2 726.27L626.2 726.27" fill="none" stroke="none" marker-start="url(#mk_sq_ff0000)" marker-mid="url(#mk_sq_ff0000)" marker-end="url(#mk_sq_ff0000)"/>
<path d="M226.97 680.85L228.25 682.08L229.54 683.25L230.83 684.36L232.12 685.43L233.41 686.44L234.69 687.41L235.98 688.34L237.27 689.23L238.56 690.09L239.85 690.91L241.13 691.69L242.42 692.45L243.71 693.18L245 693.88L246.29 694.55L247.57 695.2L248.86 695.83L250.15 696.43L251.44 697.02L252.72 697.58L254.01 698.13L255.3 698.66L256.59 699.18L257.88 699.68L259.16 700.16L260.45 700.63L261.74 701.09L263.03 701.53L264.32 701.96L265.6 702.39L266.89 702.79L268.18 703.19L269.47 703.58L270.76 703.96L272.04 704.33L273.33 704.69L274.62 705.04L275.91 705.39L277.19 705.72L278.48 706.05L279.77 706.37L281.06 706.68L282.35 706.99L283.63 707.29L284.92 707.58L286.21 707.87L287.5 708.15L288.79 708.43L290.07 708.69L291.36 708.96L292.65 709.22L293.94 709.47L295.23 709.72L296.51 709.96L297.8 710.2L299.09 710.43L300.38 710.66L301.66 710.88L302.95 711.1L304.24 711.32L305.53 711.53L306.82 711.74L308.1 711.94L309.39 712.14L310.68 712.34L311.97 712.53L313.26 712.72L314.54 712.9L315.83 713.08L317.12 713.26L318.41 713.44L319.7 713.61L320.98 713.78L322.27 713.94L323.56 714.1L324.85 714.26L326.13 714.42L327.42 714.57L328.71 714.72L330 714.87L331.29 715.02L332.57 715.16L333.86 715.3L335.15 715.44L336.44 715.57L337.73 715.7L339.01 715.83L340.3 715.96L341.59 716.09L342.88 716.21L344.17 716.33L345.45 716.45L346.74 716.56L348.03 716.68L349.32 716.79L350.61 716.9L351.89 717.01L353.18 717.12L354.47 717.22L355.76 717.32L357.04 717.42L358.33 717.52L359.62 717.62L360.91 717.72L362.2 717.81L363.48 717.9L364.77 717.99L366.06 718.08L367.35 718.17L368.64 718.25L369.92 718.34L371.21 718.42L372.5 718.5L373.79 718.58L375.08 718.66L376.36 718.73L377.65 718.81L378.94 718.88L380.23 718.96L381.51 719.03L382.8 719.1L384.09 719.17L385.38 719.23L386.67 719.3L387.95 719.36L389.24 719.43L390.53 719.49L391.82 719.55L393.11 719.61L394.39 719.67L395.68 719.73L396.97 719.79L398.26 719.84L399.55 719.9L400.83 719.95L402.12 720.01L403.41 720.06L404.7 720.11L405.98 720.16L407.27 720.21L408.56 720.26L409.85 720.31L411.14 720.35L412.42 720.4L413.71 720.45L415 720.49L416.29 720.53L417.58 720.58L418.86 720.62L420.15 720.66L421.44 720.7L422.73 720.74L424.02 720.78L425.3 720.82L426.59 720.86L427.88 720.89L429.17 720.93L430.45 720.97L431.74 721L433.03 721.04L434.32 721.07L435.61 721.1L436.89 721.14L438.18 721.17L439.47 721.2L440.76 721.23L442.05 721.26L443.33 721.29L444.62 721.32L445.91 721.35L447.2 721.38L448.49 721.41L449.77 721.43L451.06 721.46L452.35 721.49L453.64 721.51L454.92 721.54L456.21 721.56L457.5 721.59L458.79 721.61L460.08 721.63L461.36 721.66L462.65 721.68L463.94 721.7L465.23 721.73L466.52 721.75L467.8 721.77L469.09 721.79L470.38 721.81L471.67 721.83L472.96 721.85L474.24 721.87L475.53 721.89L476.82 721.91L478.11 721.92L479.4 721.94L480.68 721.96L481.97 721.98L483.26 722L484.55 722.01L485.83 722.03L487.12 722.04L488.41 722.06L489.7 722.08L490.99 722.09L492.27 722.11L493.56 722.12L494.85 722.14L496.14 722.15L497.43 722.16L498.71 722.18L500 722.19L501.29 722.21L502.58 722.22L503.87 722.23L505.15 722.24L506.44 722.26L507.73 722.27L509.02 722.28L510.3 722.29L511.59 722.3L512.88 722.32L514.17 722.33L515.46 722.34L516.74 722.35L518.03 722.36L519.32 722.37L520.61 722.38L521.9 722.39L523.18 722.4L524.47 722.41L525.76 722.42L527.05 722.43L528.34 722.44L529.62 722.45L530.91 722.45L532.2 722.46L533.49 722.47L534.77 722.48L536.06 722.49L537.35 722.5L538.64 722.5L539.93 722.51L541.21 722.52L542.5 722.53L543.79 722.53L545.08 722.54L546.37 722.55L547.65 722.56L548.94 722.56L550.23 722.57L551.52 722.58L552.81 722.58L554.09 722.59L555.38 722.6L556.67 722.6L557.96 722.61L559.24 722.61L560.53 722.62L561.82 722.63L563.11 722.63L564.4 722.64L565.68 722.64L566.97 722.65L568.26 722.65L569.55 722.66L570.84 722.66L572.12 722.67L573.41 722.67L574.7 722.68L575.99 722.68L577.28 722.69L578.56 722.69L579.85 722.7L581.14 722.7L582.43 722.71L583.71 722.71L585 722.71L586.29 722.72L587.58 722.72L588.87 722.73L590.15 722.73L591.44 722.73L592.73 722.74L594.02 722.74L595.31 722.75L596.59 722.75L597.88 722.75L599.17 722.76L600.46 722.76L601.75 722.76L603.03 722.77L604.32 722.77L605.61 722.77L606.9 722.78L608.19 722.78L609.47 722.78L610.76 722.79L612.05 722.79L613.34 722.79L614.62 722.79L615.91 722.8L617.2 722.8L618.49 722.8L619.78 722.8L621.06 722.81L622.35 722.81L623.64 722.81L624.93 722.81L626.22 722.82L627.5 722.82L628.79 722.82L629.65 722.82L629.65 729.72L622.75 729.72L621.89 729.72L620.6 729.72L619.32 729.72L618.03 729.71L616.74 729.71L615.45 729.71L614.16 729.71L612.88 729.7L611.59 729.7L610.3 729.7L609.01 729.7L607.72 729.69L606.44 729.69L605.15 729.69L603.86 729.69L602.57 729.68L601.28 729.68L600 729.68L598.71 729.67L597.42 729.67L596.13 729.67L594.85 729.66L593.56 729.66L592.27 729.66L590.98 729.65L589.69 729.65L588.41 729.65L587.12 729.64L585.83 729.64L584.54 729.63L583.25 729.63L581.97 729.63L580.68 729.62L579.39 729.62L578.1 729.61L576.81 729.61L575.53 729.61L574.24 729.6L572.95 729.6L571.66 729.59L570.38 729.59L569.09 729.58L567.8 729.58L566.51 729.57L565.22 729.57L563.94 729.56L562.65 729.56L561.36 729.55L560.07 729.55L558.78 729.54L557.5 729.54L556.21 729.53L554.92 729.53L553.63 729.52L552.34 729.51L551.06 729.51L549.77 729.5L548.48 729.5L547.19 729.49L545.91 729.48L544.62 729.48L543.33 729.47L542.04 729.46L540.75 729.46L539.47 729.45L538.18 729.44L536.89 729.43L535.6 729.43L534.31 729.42L533.03 729.41L531.74 729.4L530.45 729.4L529.16 729.39L527.87 729.38L526.59 729.37L525.3 729.36L524.01 729.35L522.72 729.35L521.44 729.34L520.15 729.33L518.86 729.32L517.57 729.31L516.28 729.3L515 729.29L513.71 729.28L512.42 729.27L511.13 729.26L509.84 729.25L508.56 729.24L507.27 729.23L505.98 729.22L504.69 729.2L503.4 729.19L502.12 729.18L500.83 729.17L499.54 729.16L498.25 729.14L496.97 729.13L495.68 729.12L494.39 729.11L493.1 729.09L491.81 729.08L490.53 729.06L489.24 729.05L487.95 729.04L486.66 729.02L485.37 729.01L484.09 728.99L482.8 728.98L481.51 728.96L480.22 728.94L478.93 728.93L477.65 728.91L476.36 728.9L475.07 728.88L473.78 728.86L472.5 728.84L471.21 728.82L469.92 728.81L468.63 728.79L467.34 728.77L466.06 728.75L464.77 728.73L463.48 728.71L462.19 728.69L460.9 728.67L459.62 728.65L458.33 728.63L457.04 728.6L455.75 728.58L454.46 728.56L453.18 728.53L451.89 728.51L450.6 728.49L449.31 728.46L448.02 728.44L446.74 728.41L445.45 728.39L444.16 728.36L442.87 728.33L441.59 728.31L440.3 728.28L439.01 728.25L437.72 728.22L436.43 728.19L435.15 728.16L433.86 728.13L432.57 728.1L431.28 728.07L429.99 728.04L428.71 728L427.42 727.97L426.13 727.94L424.84 727.9L423.55 727.87L422.27 727.83L420.98 727.79L419.69 727.76L418.4 727.72L417.12 727.68L415.83 727.64L414.54 727.6L413.25 727.56L411.96 727.52L410.68 727.48L409.39 727.43L408.1 727.39L406.81 727.35L405.52 727.3L404.24 727.25L402.95 727.21L401.66 727.16L400.37 727.11L399.08 727.06L397.8 727.01L396.51 726.96L395.22 726.91L393.93 726.85L392.65 726.8L391.36 726.74L390.07 726.69L388.78 726.63L387.49 726.57L386.21 726.51L384.92 726.45L383.63 726.39L382.34 726.33L381.05 726.26L379.77 726.2L378.48 726.13L377.19 726.07L375.9 726L374.61 725.93L373.33 725.86L372.04 725.78L370.75 725.71L369.46 725.63L368.18 725.56L366.89 725.48L365.6 725.4L364.31 725.32L363.02 725.24L361.74 725.15L360.45 725.07L359.16 724.98L357.87 724.89L356.58 724.8L355.3 724.71L354.01 724.62L352.72 724.52L351.43 724.42L350.14 724.32L348.86 724.22L347.57 724.12L346.28 724.02L344.99 723.91L343.71 723.8L342.42 723.69L341.13 723.58L339.84 723.46L338.55 723.35L337.27 723.23L335.98 723.11L334.69 722.99L333.4 722.86L332.11 722.73L330.83 722.6L329.54 722.47L328.25 722.34L326.96 722.2L325.67 722.06L324.39 721.92L323.1 721.77L321.81 721.62L320.52 721.47L319.23 721.32L317.95 721.16L316.66 721L315.37 720.84L314.08 720.68L312.8 720.51L311.51 720.34L310.22 720.16L308.93 719.98L307.64 719.8L306.36 719.62L305.07 719.43L303.78 719.24L302.49 719.04L301.2 718.84L299.92 718.64L298.63 718.43L297.34 718.22L296.05 718L294.76 717.78L293.48 717.56L292.19 717.33L290.9 717.1L289.61 716.86L288.33 716.62L287.04 716.37L285.75 716.12L284.46 715.86L283.17 715.59L281.89 715.33L280.6 715.05L279.31 714.77L278.02 714.48L276.73 714.19L275.45 713.89L274.16 713.58L272.87 713.27L271.58 712.95L270.29 712.62L269.01 712.29L267.72 711.94L266.43 711.59L265.14 711.23L263.86 710.86L262.57 710.48L261.28 710.09L259.99 709.69L258.7 709.29L257.42 708.86L256.13 708.43L254.84 707.99L253.55 707.53L252.26 707.06L250.98 706.58L249.69 706.08L248.4 705.56L247.11 705.03L245.82 704.48L244.54 703.92L243.25 703.33L241.96 702.73L240.67 702.1L239.39 701.45L238.1 700.78L236.81 700.08L235.52 699.35L234.23 698.59L232.95 697.81L231.66 696.99L230.37 696.13L229.08 695.24L227.79 694.31L226.51 693.34L225.22 692.33L223.93 691.26L222.64 690.15L221.35 688.98L220.07 687.75L220.07 680.85Z" fill="#ff0000"/>
</g>
<g clip-path="url(#clipb)">
<path clip-path="url(#lclipb)" d="M196.9 612.96L197.33 621.57L197.76 628.21L198.19 633.53L198.62 637.93L199.05 641.68L199.48 644.94L199.91 647.83L200.33 650.43L200.76 652.79L201.19 654.97L201.62 657L202.05 658.9L202.48 660.69L202.91 662.39L203.34 664.01L203.77 665.57L204.2 667.07L204.63 668.51L205.06 669.91L205.49 671.27L205.92 672.59L206.34 673.87L206.77 675.12L207.2 676.34L207.63 677.53L208.06 678.7L208.49 679.83L208.92 680.95L209.35 682.04L209.78 683.11L210.21 684.16L210.64 685.18L211.07 686.19L211.5 687.18L211.93 688.15L212.35 689.1L212.78 690.04L213.21 690.96L213.64 691.86L214.07 692.75L214.5 693.62L214.93 694.48L215.36 695.32L215.79 696.15L216.22 696.97L216.65 697.77L217.08 698.57L217.51 699.35L217.94 700.11L218.37 700.87L218.79 701.61L219.22 702.35L219.65 703.07L220.08 703.79L220.51 704.49L220.94 705.18L221.37 705.87L221.8 706.54L222.23 707.21L222.66 707.86L223.09 708.51L223.52 709.15L223.95 709.78L224.38 710.41L224.8 711.02L225.23 711.63L225.66 712.23L226.09 712.83L226.52 713.41L226.95 713.99L227.38 714.57L227.81 715.13L228.24 715.69L228.67 716.24L229.1 716.79L229.53 717.33L229.96 717.87L230.39 718.39L230.81 718.92L231.24 719.43L231.67 719.94L232.1 720.45L232.53 720.95L232.96 721.45L233.39 721.93L233.82 722.42L234.25 722.9L234.68 723.37L235.11 723.84L235.54 724.31L235.97 724.77L236.4 725.22L236.82 725.67L237.25 726.12L237.68 726.56L238.11 727L238.54 727.43L238.97 727.86L239.4 728.28L239.83 728.7" fill="none" stroke="#0000ff" stroke-width="1.2" stroke-linejoin="round"/>
<path d="M196.9 612.96L197.33 621.57L197.76 628.21L198.19 633.53L198.62 637.93L199.05 641.68L199.48 644.94L199.91 647.83L200.33 650.43L200.76 652.79L201.19 654.97L201.62 657L202.05 658.9L202.48 660.69L202.91 662.39L203.34 664.01L203.77 665.57L204.2 667.07L204.63 668.51L205.06 669.91L205.49 671.27L205.92 672.59L206.34 673.87L206.77 675.12L207.2 676.34L207.63 677.53L208.06 678.7L208.49 679.83L208.92 680.95L209.35 682.04L209.78 683.11L210.21 684.16L210.64 685.18L211.07 686.19L211.5 687.18L211.93 688.15L212.35 689.1L212.78 690.04L213.21 690.96L213.64 691.86L214.07 692.75L214.5 693.62L214.93 694.48L215.36 695.32L215.79 696.15L216.22 696.97L216.65 697.77L217.08 698.57L217.51 699.35L217.94 700.11L218.37 700.87L218.79 701.61L219.22 702.35L219.65 703.07L220.08 703.79L220.51 704.49L220.94 705.18L221.37 705.87L221.8 706.54L222.23 707.21L222.66 707.86L223.09 708.51L223.52 709.15L223.95 709.78L224.38 710.41L224.8 711.02L225.23 711.63L225.66 712.23L226.09 712.83L226.52 713.41L226.95 713.99L227.38 714.57L227.81 715.13L228.24 715.69L228.67 716.24L229.1 716.79L229.53 717.33L229.96 717.87L230.39 718.39L230.81 718.92L231.24 719.43L231.67 719.94L232.1 720.45L232.53 720.95L232.96 721.45L233.39 721.93L233.82 722.42L234.25 722.9L234.68 723.37L235.11 723.84L235.54 724.31L235.97 724.77L236.4 725.22L236.82 725.67L237.25 726.12L237.68 726.56L238.11 727L238.54 727.43L238.97 727.86L239.4 728.28L239.83 728.7" fill="none" stroke="none" marker-start="url(#mk_ci_0000ff)" marker-mid="url(#mk_ci_0000ff)" marker-end="url(#mk_ci_0000ff)"/>
<path clip-path="url(#lclipb)" d="M626.2 771.65L626.2 771.65" fill="none" stroke="#0000ff" stroke-width="1.2" stroke-linejoin="round"/>
<path d="M626.2 771.65L626.2 771.65" fill="none" stroke="none" marker-start="url(#mk_ci_0000ff)" marker-mid="url(#mk_ci_0000ff)" marker-end="url(#mk_ci_0000ff)"/>
<path d="M239.83 728.7L241.12 729.94L242.41 731.13L243.69 732.3L244.98 733.43L246.27 734.53L247.56 735.59L248.85 736.63L250.13 737.64L251.42 738.61L252.71 739.57L254 740.49L255.28 741.39L256.57 742.26L257.86 743.11L259.15 743.93L260.44 744.73L261.72 745.51L263.01 746.27L264.3 747L265.59 747.72L266.88 748.41L268.16 749.09L269.45 749.74L270.74 750.38L272.03 751L273.32 751.6L274.6 752.18L275.89 752.75L277.18 753.3L278.47 753.83L279.75 754.35L281.04 754.85L282.33 755.34L283.62 755.82L284.91 756.28L286.19 756.72L287.48 757.16L288.77 757.58L290.06 757.99L291.35 758.39L292.63 758.77L293.92 759.15L295.21 759.51L296.5 759.86L297.79 760.2L299.07 760.54L300.36 760.86L301.65 761.17L302.94 761.48L304.23 761.77L305.51 762.06L306.8 762.33L308.09 762.6L309.38 762.86L310.66 763.12L311.95 763.36L313.24 763.6L314.53 763.83L315.82 764.05L317.1 764.27L318.39 764.48L319.68 764.69L320.97 764.89L322.26 765.08L323.54 765.27L324.83 765.45L326.12 765.62L327.41 765.8L328.7 765.96L329.98 766.12L331.27 766.28L332.56 766.43L333.85 766.58L335.13 766.72L336.42 766.86L337.71 766.99L339 767.12L340.29 767.25L341.57 767.37L342.86 767.49L344.15 767.6L345.44 767.71L346.73 767.82L348.01 767.93L349.3 768.03L350.59 768.13L351.88 768.22L353.17 768.32L354.45 768.41L355.74 768.5L357.03 768.58L358.32 768.66L359.6 768.74L360.89 768.82L362.18 768.9L363.47 768.97L364.76 769.04L366.04 769.11L367.33 769.18L368.62 769.24L369.91 769.31L371.2 769.37L372.48 769.43L373.77 769.49L375.06 769.54L376.35 769.6L377.64 769.65L378.92 769.7L380.21 769.75L381.5 769.8L382.79 769.85L384.07 769.89L385.36 769.94L386.65 769.98L387.94 770.02L389.23 770.06L390.51 770.1L391.8 770.14L393.09 770.18L394.38 770.22L395.67 770.25L396.95 770.29L398.24 770.32L399.53 770.35L400.82 770.38L402.11 770.41L403.39 770.44L404.68 770.47L405.97 770.5L407.26 770.53L408.54 770.56L409.83 770.58L411.12 770.61L412.41 770.63L413.7 770.65L414.98 770.68L416.27 770.7L417.56 770.72L418.85 770.74L420.14 770.76L421.42 770.79L422.71 770.8L424 770.82L425.29 770.84L426.58 770.86L427.86 770.88L429.15 770.9L430.44 770.91L431.73 770.93L433.02 770.95L434.3 770.96L435.59 770.98L436.88 770.99L438.17 771L439.45 771.02L440.74 771.03L442.03 771.05L443.32 771.06L444.61 771.07L445.89 771.08L447.18 771.1L448.47 771.11L449.76 771.12L451.05 771.13L452.33 771.14L453.62 771.15L454.91 771.16L456.2 771.17L457.49 771.18L458.77 771.19L460.06 771.2L461.35 771.21L462.64 771.22L463.92 771.23L465.21 771.24L466.5 771.25L467.79 771.25L469.08 771.26L470.36 771.27L471.65 771.28L472.94 771.28L474.23 771.29L475.52 771.3L476.8 771.31L478.09 771.31L479.38 771.32L480.67 771.33L481.96 771.33L483.24 771.34L484.53 771.35L485.82 771.35L487.11 771.36L488.39 771.36L489.68 771.37L490.97 771.37L492.26 771.38L493.55 771.39L494.83 771.39L496.12 771.4L497.41 771.4L498.7 771.41L499.99 771.41L501.27 771.41L502.56 771.42L503.85 771.42L505.14 771.43L506.43 771.43L507.71 771.44L509 771.44L510.29 771.45L511.58 771.45L512.86 771.45L514.15 771.46L515.44 771.46L516.73 771.47L518.02 771.47L519.3 771.47L520.59 771.48L521.88 771.48L523.17 771.48L524.46 771.49L525.74 771.49L527.03 771.49L528.32 771.5L529.61 771.5L530.9 771.5L532.18 771.51L533.47 771.51L534.76 771.51L536.05 771.51L537.33 771.52L538.62 771.52L539.91 771.52L541.2 771.53L542.49 771.53L543.77 771.53L545.06 771.53L546.35 771.54L547.64 771.54L548.93 771.54L550.21 771.54L551.5 771.55L552.79 771.55L554.08 771.55L555.37 771.55L556.65 771.56L557.94 771.56L559.23 771.56L560.52 771.56L561.81 771.57L563.09 771.57L564.38 771.57L565.67 771.57L566.96 771.57L568.24 771.58L569.53 771.58L570.82 771.58L572.11 771.58L573.4 771.58L574.68 771.59L575.97 771.59L577.26 771.59L578.55 771.59L579.84 771.59L581.12 771.6L582.41 771.6L583.7 771.6L584.99 771.6L586.28 771.6L587.56 771.6L588.85 771.61L590.14 771.61L591.43 771.61L592.71 771.61L594 771.61L595.29 771.61L596.58 771.62L597.87 771.62L599.15 771.62L600.44 771.62L601.73 771.62L603.02 771.62L604.31 771.62L605.59 771.63L606.88 771.63L608.17 771.63L609.46 771.63L610.75 771.63L612.03 771.63L613.32 771.63L614.61 771.64L615.9 771.64L617.18 771.64L618.47 771.64L619.76 771.64L621.05 771.64L622.34 771.64L623.62 771.64L624.91 771.65L626.2 771.65" fill="none" stroke="#0000ff" stroke-width="6.9" stroke-linecap="round" stroke-linejoin="round"/>
</g>
<g clip-path="url(#clipb)">
<path clip-path="url(#lclipb)" d="M196.9 613.55L197.33 622.87L197.76 630.74L198.19 637.47L198.62 643.29L199.05 648.34L199.48 652.75L199.91 656.64L200.33 660.09L200.76 663.19L201.19 665.98L201.62 668.54L202.05 670.88L202.48 673.06L202.91 675.1L203.34 677.02L203.77 678.84L204.2 680.57L204.63 682.23L205.06 683.82L205.49 685.36L205.92 686.84L206.34 688.29L206.77 689.7L207.2 691.07L207.63 692.41L208.06 693.72L208.49 695L208.92 696.26L209.35 697.5L209.78 698.72L210.21 699.91L210.64 701.09L211.07 702.25L211.5 703.39L211.93 704.52L212.35 705.63L212.78 706.72L213.21 707.81L213.64 708.87L214.07 709.93L214.5 710.97L214.93 712L215.36 713.02L215.79 714.02L216.22 715.01L216.65 716L217.08 716.97L217.51 717.93L217.94 718.88L218.37 719.82L218.79 720.75L219.22 721.66L219.65 722.57L220.08 723.47L220.51 724.36L220.94 725.24L221.37 726.11L221.8 726.97L222.23 727.83L222.66 728.67L223.09 729.5L223.52 730.33L223.95 731.15L224.38 731.95L224.8 732.75L225.23 733.54L225.66 734.33L226.09 735.1L226.52 735.87L226.95 736.62L227.38 737.37L227.81 738.12L228.24 738.85L228.67 739.57L229.1 740.29L229.53 741L229.96 741.7L230.39 742.4L230.81 743.09L231.24 743.77L231.67 744.44L232.1 745.1L232.53 745.76L232.96 746.41L233.39 747.06L233.82 747.69L234.25 748.32L234.68 748.94L235.11 749.56L235.54 750.17L235.97 750.77L236.4 751.36L236.82 751.95L237.25 752.53L237.68 753.11L238.11 753.67L238.54 754.24L238.97 754.79L239.4 755.34L239.83 755.88L240.26 756.42L240.69 756.95L241.12 757.47L241.55 757.99L241.98 758.5L242.41 759.01L242.84 759.51L243.26 760L243.69 760.49L244.12 760.97L244.55 761.45L244.98 761.92L245.41 762.39L245.84 762.85L246.27 763.3L246.7 763.75L247.13 764.2L247.56 764.64L247.99 765.07L248.42 765.5L248.85 765.92" fill="none" stroke="#ff00ff" stroke-width="1.2" stroke-linejoin="round"/>
<path d="M196.9 613.55L197.33 622.87L197.76 630.74L198.19 637.47L198.62 643.29L199.05 648.34L199.48 652.75L199.91 656.64L200.33 660.09L200.76 663.19L201.19 665.98L201.62 668.54L202.05 670.88L202.48 673.06L202.91 675.1L203.34 677.02L203.77 678.84L204.2 680.57L204.63 682.23L205.06 683.82L205.49 685.36L205.92 686.84L206.34 688.29L206.77 689.7L207.2 691.07L207.63 692.41L208.06 693.72L208.49 695L208.92 696.26L209.35 697.5L209.78 698.72L210.21 699.91L210.64 701.09L211.07 702.25L211.5 703.39L211.93 704.52L212.35 705.63L212.78 706.72L213.21 707.81L213.64 708.87L214.07 709.93L214.5 710.97L214.93 712L215.36 713.02L215.79 714.02L216.22 715.01L216.65 716L217.08 716.97L217.51 717.93L217.94 718.88L218.37 719.82L218.79 720.75L219.22 721.66L219.65 722.57L220.08 723.47L220.51 724.36L220.94 725.24L221.37 726.11L221.8 726.97L222.23 727.83L222.66 728.67L223.09 729.5L223.52 730.33L223.95 731.15L224.38 731.95L224.8 732.75L225.23 733.54L225.66 734.33L226.09 735.1L226.52 735.87L226.95 736.62L227.38 737.37L227.81 738.12L228.24 738.85L228.67 739.57L229.1 740.29L229.53 741L229.96 741.7L230.39 742.4L230.81 743.09L231.24 743.77L231.67 744.44L232.1 745.1L232.53 745.76L232.96 746.41L233.39 747.06L233.82 747.69L234.25 748.32L234.68 748.94L235.11 749.56L235.54 750.17L235.97 750.77L236.4 751.36L236.82 751.95L237.25 752.53L237.68 753.11L238.11 753.67L238.54 754.24L238.97 754.79L239.4 755.34L239.83 755.88L240.26 756.42L240.69 756.95L241.12 757.47L241.55 757.99L241.98 758.5L242.41 759.01L242.84 759.51L243.26 760L243.69 760.49L244.12 760.97L244.55 761.45L244.98 761.92L245.41 762.39L245.84 762.85L246.27 763.3L246.7 763.75L247.13 764.2L247.56 764.64L247.99 765.07L248.42 765.5L248.85 765.92" fill="none" stroke="none" marker-start="url(#mk_di_ff00ff)" marker-mid="url(#mk_di_ff00ff)" marker-end="url(#mk_di_ff00ff)"/>
<path clip-path="url(#lclipb)" d="M626.2 798.03L626.2 798.03" fill="none" stroke="#ff00ff" stroke-width="1.2" stroke-linejoin="round"/>
<path d="M626.2 798.03L626.2 798.03" fill="none" stroke="none" marker-start="url(#mk_di_ff00ff)" marker-mid="url(#mk_di_ff00ff)" marker-end="url(#mk_di_ff00ff)"/>
<path d="M248.85 762.42L250.13 763.66L251.42 764.85L252.71 766L254 767.11L255.28 768.18L256.57 769.21L257.86 770.2L259.15 771.15L260.44 772.07L261.72 772.95L263.01 773.8L264.3 774.62L265.59 775.41L266.88 776.17L268.16 776.9L269.45 777.6L270.74 778.27L272.03 778.92L273.32 779.54L274.6 780.14L275.89 780.71L277.18 781.27L278.47 781.8L279.75 782.31L281.04 782.8L282.33 783.27L283.62 783.72L284.91 784.16L286.19 784.57L287.48 784.98L288.77 785.36L290.06 785.73L291.35 786.09L292.63 786.43L293.92 786.75L295.21 787.07L296.5 787.37L297.79 787.66L299.07 787.94L300.36 788.2L301.65 788.46L302.94 788.71L304.23 788.94L305.51 789.17L306.8 789.38L308.09 789.59L309.38 789.79L310.66 789.98L311.95 790.17L313.24 790.35L314.53 790.52L315.82 790.68L317.1 790.83L318.39 790.98L319.68 791.13L320.97 791.27L322.26 791.4L323.54 791.52L324.83 791.65L326.12 791.76L327.41 791.88L328.7 791.98L329.98 792.09L331.27 792.19L332.56 792.28L333.85 792.37L335.13 792.46L336.42 792.54L337.71 792.62L339 792.7L340.29 792.77L341.57 792.85L342.86 792.91L344.15 792.98L345.44 793.04L346.73 793.1L348.01 793.16L349.3 793.21L350.59 793.27L351.88 793.32L353.17 793.37L354.45 793.41L355.74 793.46L357.03 793.5L358.32 793.54L359.6 793.58L360.89 793.62L362.18 793.66L363.47 793.69L364.76 793.73L366.04 793.76L367.33 793.79L368.62 793.82L369.91 793.85L371.2 793.88L372.48 793.9L373.77 793.93L375.06 793.95L376.35 793.97L377.64 794L378.92 794.02L380.21 794.04L381.5 794.06L382.79 794.08L384.07 794.1L385.36 794.11L386.65 794.13L387.94 794.15L389.23 794.16L390.51 794.18L391.8 794.19L393.09 794.2L394.38 794.22L395.67 794.23L396.95 794.24L398.24 794.25L399.53 794.26L400.82 794.27L402.11 794.28L403.39 794.29L404.68 794.3L405.97 794.31L407.26 794.32L408.54 794.33L409.83 794.34L411.12 794.34L412.41 794.35L413.7 794.36L414.98 794.37L416.27 794.37L417.56 794.38L418.85 794.38L420.14 794.39L421.42 794.4L422.71 794.4L424 794.41L425.29 794.41L426.58 794.41L427.86 794.42L429.15 794.42L430.44 794.43L431.73 794.43L433.02 794.44L434.3 794.44L435.59 794.44L436.88 794.45L438.17 794.45L439.45 794.45L440.74 794.46L442.03 794.46L443.32 794.46L444.61 794.46L445.89 794.47L447.18 794.47L448.47 794.47L449.76 794.47L451.05 794.47L452.33 794.48L453.62 794.48L454.91 794.48L456.2 794.48L457.49 794.48L458.77 794.49L460.06 794.49L461.35 794.49L462.64 794.49L463.92 794.49L465.21 794.49L466.5 794.49L467.79 794.5L469.08 794.5L470.36 794.5L471.65 794.5L472.94 794.5L474.23 794.5L475.52 794.5L476.8 794.5L478.09 794.5L479.38 794.51L480.67 794.51L481.96 794.51L483.24 794.51L484.53 794.51L485.82 794.51L487.11 794.51L488.39 794.51L489.68 794.51L490.97 794.51L492.26 794.51L493.55 794.51L494.83 794.51L496.12 794.51L497.41 794.51L498.7 794.51L499.99 794.52L501.27 794.52L502.56 794.52L503.85 794.52L505.14 794.52L506.43 794.52L507.71 794.52L509 794.52L510.29 794.52L511.58 794.52L512.86 794.52L514.15 794.52L515.44 794.52L516.73 794.52L518.02 794.52L519.3 794.52L520.59 794.52L521.88 794.52L523.17 794.52L524.46 794.52L525.74 794.52L527.03 794.52L528.32 794.52L529.61 794.52L530.9 794.52L532.18 794.52L533.47 794.52L534.76 794.52L536.05 794.52L537.33 794.52L538.62 794.52L539.91 794.52L541.2 794.52L542.49 794.52L543.77 794.52L545.06 794.52L546.35 794.52L547.64 794.52L548.93 794.52L550.21 794.52L551.5 794.52L552.79 794.52L554.08 794.52L555.37 794.52L556.65 794.52L557.94 794.52L559.23 794.52L560.52 794.52L561.81 794.52L563.09 794.52L564.38 794.52L565.67 794.52L566.96 794.52L568.24 794.52L569.53 794.52L570.82 794.52L572.11 794.53L573.4 794.53L574.68 794.53L575.97 794.53L577.26 794.53L578.55 794.53L579.84 794.53L581.12 794.53L582.41 794.53L583.7 794.53L584.99 794.53L586.28 794.53L587.56 794.53L588.85 794.53L590.14 794.53L591.43 794.53L592.71 794.53L594 794.53L595.29 794.53L596.58 794.53L597.87 794.53L599.15 794.53L600.44 794.53L601.73 794.53L603.02 794.53L604.31 794.53L605.59 794.53L606.88 794.53L608.17 794.53L609.46 794.53L610.75 794.53L612.03 794.53L613.32 794.53L614.61 794.53L615.9 794.53L617.18 794.53L618.47 794.53L619.76 794.53L621.05 794.53L622.34 794.53L623.62 794.53L624.91 794.53L626.2 794.53L626.2 801.53L624.91 801.53L623.62 801.53L622.34 801.53L621.05 801.53L619.76 801.53L618.47 801.53L617.18 801.53L615.9 801.53L614.61 801.53L613.32 801.53L612.03 801.53L610.75 801.53L609.46 801.53L608.17 801.53L606.88 801.53L605.59 801.53L604.31 801.53L603.02 801.53L601.73 801.53L600.44 801.53L599.15 801.53L597.87 801.53L596.58 801.53L595.29 801.53L594 801.53L592.71 801.53L591.43 801.53L590.14 801.53L588.85 801.53L587.56 801.53L586.28 801.53L584.99 801.53L583.7 801.53L582.41 801.53L581.12 801.53L579.84 801.53L578.55 801.53L577.26 801.53L575.97 801.53L574.68 801.53L573.4 801.53L572.11 801.53L570.82 801.52L569.53 801.52L568.24 801.52L566.96 801.52L565.67 801.52L564.38 801.52L563.09 801.52L561.81 801.52L560.52 801.52L559.23 801.52L557.94 801.52L556.65 801.52L555.37 801.52L554.08 801.52L552.79 801.52L551.5 801.52L550.21 801.52L548.93 801.52L547.64 801.52L546.35 801.52L545.06 801.52L543.77 801.52L542.49 801.52L541.2 801.52L539.91 801.52L538.62 801.52L537.33 801.52L536.05 801.52L534.76 801.52L533.47 801.52L532.18 801.52L530.9 801.52L529.61 801.52L528.32 801.52L527.03 801.52L525.74 801.52L524.46 801.52L523.17 801.52L521.88 801.52L520.59 801.52L519.3 801.52L518.02 801.52L516.73 801.52L515.44 801.52L514.15 801.52L512.86 801.52L511.58 801.52L510.29 801.52L509 801.52L507.71 801.52L506.43 801.52L505.14 801.52L503.85 801.52L502.56 801.52L501.27 801.52L499.99 801.52L498.7 801.51L497.41 801.51L496.12 801.51L494.83 801.51L493.55 801.51L492.26 801.51L490.97 801.51L489.68 801.51L488.39 801.51L487.11 801.51L485.82 801.51L484.53 801.51L483.24 801.51L481.96 801.51L480.67 801.51L479.38 801.51L478.09 801.5L476.8 801.5L475.52 801.5L474.23 801.5L472.94 801.5L471.65 801.5L470.36 801.5L469.08 801.5L467.79 801.5L466.5 801.49L465.21 801.49L463.92 801.49L462.64 801.49L461.35 801.49L460.06 801.49L458.77 801.49L457.49 801.48L456.2 801.48L454.91 801.48L453.62 801.48L452.33 801.48L451.05 801.47L449.76 801.47L448.47 801.47L447.18 801.47L445.89 801.47L444.61 801.46L443.32 801.46L442.03 801.46L440.74 801.46L439.45 801.45L438.17 801.45L436.88 801.45L435.59 801.44L434.3 801.44L433.02 801.44L431.73 801.43L430.44 801.43L429.15 801.42L427.86 801.42L426.58 801.41L425.29 801.41L424 801.41L422.71 801.4L421.42 801.4L420.14 801.39L418.85 801.38L417.56 801.38L416.27 801.37L414.98 801.37L413.7 801.36L412.41 801.35L411.12 801.34L409.83 801.34L408.54 801.33L407.26 801.32L405.97 801.31L404.68 801.3L403.39 801.29L402.11 801.28L400.82 801.27L399.53 801.26L398.24 801.25L396.95 801.24L395.67 801.23L394.38 801.22L393.09 801.2L391.8 801.19L390.51 801.18L389.23 801.16L387.94 801.15L386.65 801.13L385.36 801.11L384.07 801.1L382.79 801.08L381.5 801.06L380.21 801.04L378.92 801.02L377.64 801L376.35 800.97L375.06 800.95L373.77 800.93L372.48 800.9L371.2 800.88L369.91 800.85L368.62 800.82L367.33 800.79L366.04 800.76L364.76 800.73L363.47 800.69L362.18 800.66L360.89 800.62L359.6 800.58L358.32 800.54L357.03 800.5L355.74 800.46L354.45 800.41L353.17 800.37L351.88 800.32L350.59 800.27L349.3 800.21L348.01 800.16L346.73 800.1L345.44 800.04L344.15 799.98L342.86 799.91L341.57 799.85L340.29 799.77L339 799.7L337.71 799.62L336.42 799.54L335.13 799.46L333.85 799.37L332.56 799.28L331.27 799.19L329.98 799.09L328.7 798.98L327.41 798.88L326.12 798.76L324.83 798.65L323.54 798.52L322.26 798.4L320.97 798.27L319.68 798.13L318.39 797.98L317.1 797.83L315.82 797.68L314.53 797.52L313.24 797.35L311.95 797.17L310.66 796.98L309.38 796.79L308.09 796.59L306.8 796.38L305.51 796.17L304.23 795.94L302.94 795.71L301.65 795.46L300.36 795.2L299.07 794.94L297.79 794.66L296.5 794.37L295.21 794.07L293.92 793.75L292.63 793.43L291.35 793.09L290.06 792.73L288.77 792.36L287.48 791.98L286.19 791.57L284.91 791.16L283.62 790.72L282.33 790.27L281.04 789.8L279.75 789.31L278.47 788.8L277.18 788.27L275.89 787.71L274.6 787.14L273.32 786.54L272.03 785.92L270.74 785.27L269.45 784.6L268.16 783.9L266.88 783.17L265.59 782.41L264.3 781.62L263.01 780.8L261.72 779.95L260.44 779.07L259.15 778.15L257.86 777.2L256.57 776.21L255.28 775.18L254 774.11L252.71 773L251.42 771.85L250.13 770.66L248.85 769.42ZM252.35 765.92L253.63 767.16L254.92 768.35L256.21 769.5L257.5 770.61L258.78 771.68L260.07 772.71L261.36 773.7L262.65 774.65L263.94 775.57L265.22 776.45L266.51 777.3L267.8 778.12L269.09 778.91L270.38 779.67L271.66 780.4L272.95 781.1L274.24 781.77L275.53 782.42L276.82 783.04L278.1 783.64L279.39 784.21L280.68 784.77L281.97 785.3L283.25 785.81L284.54 786.3L285.83 786.77L287.12 787.22L288.41 787.66L289.69 788.07L290.98 788.48L292.27 788.86L293.56 789.23L294.85 789.59L296.13 789.93L297.42 790.25L298.71 790.57L300 790.87L301.29 791.16L302.57 791.44L303.86 791.7L305.15 791.96L306.44 792.21L307.73 792.44L309.01 792.67L310.3 792.88L311.59 793.09L312.88 793.29L314.16 793.48L315.45 793.67L316.74 793.85L318.03 794.02L319.32 794.18L320.6 794.33L321.89 794.48L323.18 794.63L324.47 794.77L325.76 794.9L327.04 795.02L328.33 795.15L329.62 795.26L330.91 795.38L332.2 795.48L333.48 795.59L334.77 795.69L336.06 795.78L337.35 795.87L338.63 795.96L339.92 796.04L341.21 796.12L342.5 796.2L343.79 796.27L345.07 796.35L346.36 796.41L347.65 796.48L348.94 796.54L350.23 796.6L351.51 796.66L352.8 796.71L354.09 796.77L355.38 796.82L356.67 796.87L357.95 796.91L359.24 796.96L360.53 797L361.82 797.04L363.1 797.08L364.39 797.12L365.68 797.16L366.97 797.19L368.26 797.23L369.54 797.26L370.83 797.29L372.12 797.32L373.41 797.35L374.7 797.38L375.98 797.4L377.27 797.43L378.56 797.45L379.85 797.47L381.14 797.5L382.42 797.52L383.71 797.54L385 797.56L386.29 797.58L387.57 797.6L388.86 797.61L390.15 797.63L391.44 797.65L392.73 797.66L394.01 797.68L395.3 797.69L396.59 797.7L397.88 797.72L399.17 797.73L400.45 797.74L401.74 797.75L403.03 797.76L404.32 797.77L405.61 797.78L406.89 797.79L408.18 797.8L409.47 797.81L410.76 797.82L412.04 797.83L413.33 797.84L414.62 797.84L415.91 797.85L417.2 797.86L418.48 797.87L419.77 797.87L421.06 797.88L422.35 797.88L423.64 797.89L424.92 797.9L426.21 797.9L427.5 797.91L428.79 797.91L430.08 797.91L431.36 797.92L432.65 797.92L433.94 797.93L435.23 797.93L436.52 797.94L437.8 797.94L439.09 797.94L440.38 797.95L441.67 797.95L442.95 797.95L444.24 797.96L445.53 797.96L446.82 797.96L448.11 797.96L449.39 797.97L450.68 797.97L451.97 797.97L453.26 797.97L454.55 797.97L455.83 797.98L457.12 797.98L458.41 797.98L459.7 797.98L460.99 797.98L462.27 797.99L463.56 797.99L464.85 797.99L466.14 797.99L467.42 797.99L468.71 797.99L470 797.99L471.29 798L472.58 798L473.86 798L475.15 798L476.44 798L477.73 798L479.02 798L480.3 798L481.59 798L482.88 798.01L484.17 798.01L485.46 798.01L486.74 798.01L488.03 798.01L489.32 798.01L490.61 798.01L491.89 798.01L493.18 798.01L494.47 798.01L495.76 798.01L497.05 798.01L498.33 798.01L499.62 798.01L500.91 798.01L502.2 798.01L503.49 798.02L504.77 798.02L506.06 798.02L507.35 798.02L508.64 798.02L509.93 798.02L511.21 798.02L512.5 798.02L513.79 798.02L515.08 798.02L516.36 798.02L517.65 798.02L518.94 798.02L520.23 798.02L521.52 798.02L522.8 798.02L524.09 798.02L525.38 798.02L526.67 798.02L527.96 798.02L529.24 798.02L530.53 798.02L531.82 798.02L533.11 798.02L534.4 798.02L535.68 798.02L536.97 798.02L538.26 798.02L539.55 798.02L540.83 798.02L542.12 798.02L543.41 798.02L544.7 798.02L545.99 798.02L547.27 798.02L548.56 798.02L549.85 798.02L551.14 798.02L552.43 798.02L553.71 798.02L555 798.02L556.29 798.02L557.58 798.02L558.87 798.02L560.15 798.02L561.44 798.02L562.73 798.02L564.02 798.02L565.31 798.02L566.59 798.02L567.88 798.02L569.17 798.02L570.46 798.02L571.74 798.02L573.03 798.02L574.32 798.02L575.61 798.03L576.9 798.03L578.18 798.03L579.47 798.03L580.76 798.03L582.05 798.03L583.34 798.03L584.62 798.03L585.91 798.03L587.2 798.03L588.49 798.03L589.78 798.03L591.06 798.03L592.35 798.03L593.64 798.03L594.93 798.03L596.21 798.03L597.5 798.03L598.79 798.03L600.08 798.03L601.37 798.03L602.65 798.03L603.94 798.03L605.23 798.03L606.52 798.03L607.81 798.03L609.09 798.03L610.38 798.03L611.67 798.03L612.96 798.03L614.25 798.03L615.53 798.03L616.82 798.03L618.11 798.03L619.4 798.03L620.68 798.03L621.97 798.03L623.26 798.03L624.55 798.03L625.84 798.03L627.12 798.03L628.41 798.03L629.7 798.03L622.7 798.03L621.41 798.03L620.12 798.03L618.84 798.03L617.55 798.03L616.26 798.03L614.97 798.03L613.68 798.03L612.4 798.03L611.11 798.03L609.82 798.03L608.53 798.03L607.25 798.03L605.96 798.03L604.67 798.03L603.38 798.03L602.09 798.03L600.81 798.03L599.52 798.03L598.23 798.03L596.94 798.03L595.65 798.03L594.37 798.03L593.08 798.03L591.79 798.03L590.5 798.03L589.21 798.03L587.93 798.03L586.64 798.03L585.35 798.03L584.06 798.03L582.78 798.03L581.49 798.03L580.2 798.03L578.91 798.03L577.62 798.03L576.34 798.03L575.05 798.03L573.76 798.03L572.47 798.03L571.18 798.03L569.9 798.03L568.61 798.03L567.32 798.02L566.03 798.02L564.74 798.02L563.46 798.02L562.17 798.02L560.88 798.02L559.59 798.02L558.31 798.02L557.02 798.02L555.73 798.02L554.44 798.02L553.15 798.02L551.87 798.02L550.58 798.02L549.29 798.02L548 798.02L546.71 798.02L545.43 798.02L544.14 798.02L542.85 798.02L541.56 798.02L540.27 798.02L538.99 798.02L537.7 798.02L536.41 798.02L535.12 798.02L533.83 798.02L532.55 798.02L531.26 798.02L529.97 798.02L528.68 798.02L527.4 798.02L526.11 798.02L524.82 798.02L523.53 798.02L522.24 798.02L520.96 798.02L519.67 798.02L518.38 798.02L517.09 798.02L515.8 798.02L514.52 798.02L513.23 798.02L511.94 798.02L510.65 798.02L509.36 798.02L508.08 798.02L506.79 798.02L505.5 798.02L504.21 798.02L502.93 798.02L501.64 798.02L500.35 798.02L499.06 798.02L497.77 798.02L496.49 798.02L495.2 798.01L493.91 798.01L492.62 798.01L491.33 798.01L490.05 798.01L488.76 798.01L487.47 798.01L486.18 798.01L484.89 798.01L483.61 798.01L482.32 798.01L481.03 798.01L479.74 798.01L478.46 798.01L477.17 798.01L475.88 798.01L474.59 798L473.3 798L472.02 798L470.73 798L469.44 798L468.15 798L466.86 798L465.58 798L464.29 798L463 797.99L461.71 797.99L460.42 797.99L459.14 797.99L457.85 797.99L456.56 797.99L455.27 797.99L453.99 797.98L452.7 797.98L451.41 797.98L450.12 797.98L448.83 797.98L447.55 797.97L446.26 797.97L444.97 797.97L443.68 797.97L442.39 797.97L441.11 797.96L439.82 797.96L438.53 797.96L437.24 797.96L435.95 797.95L434.67 797.95L433.38 797.95L432.09 797.94L430.8 797.94L429.52 797.94L428.23 797.93L426.94 797.93L425.65 797.92L424.36 797.92L423.08 797.91L421.79 797.91L420.5 797.91L419.21 797.9L417.92 797.9L416.64 797.89L415.35 797.88L414.06 797.88L412.77 797.87L411.48 797.87L410.2 797.86L408.91 797.85L407.62 797.84L406.33 797.84L405.04 797.83L403.76 797.82L402.47 797.81L401.18 797.8L399.89 797.79L398.61 797.78L397.32 797.77L396.03 797.76L394.74 797.75L393.45 797.74L392.17 797.73L390.88 797.72L389.59 797.7L388.3 797.69L387.01 797.68L385.73 797.66L384.44 797.65L383.15 797.63L381.86 797.61L380.57 797.6L379.29 797.58L378 797.56L376.71 797.54L375.42 797.52L374.14 797.5L372.85 797.47L371.56 797.45L370.27 797.43L368.98 797.4L367.7 797.38L366.41 797.35L365.12 797.32L363.83 797.29L362.54 797.26L361.26 797.23L359.97 797.19L358.68 797.16L357.39 797.12L356.1 797.08L354.82 797.04L353.53 797L352.24 796.96L350.95 796.91L349.67 796.87L348.38 796.82L347.09 796.77L345.8 796.71L344.51 796.66L343.23 796.6L341.94 796.54L340.65 796.48L339.36 796.41L338.07 796.35L336.79 796.27L335.5 796.2L334.21 796.12L332.92 796.04L331.63 795.96L330.35 795.87L329.06 795.78L327.77 795.69L326.48 795.59L325.2 795.48L323.91 795.38L322.62 795.26L321.33 795.15L320.04 795.02L318.76 794.9L317.47 794.77L316.18 794.63L314.89 794.48L313.6 794.33L312.32 794.18L311.03 794.02L309.74 793.85L308.45 793.67L307.16 793.48L305.88 793.29L304.59 793.09L303.3 792.88L302.01 792.67L300.73 792.44L299.44 792.21L298.15 791.96L296.86 791.7L295.57 791.44L294.29 791.16L293 790.87L291.71 790.57L290.42 790.25L289.13 789.93L287.85 789.59L286.56 789.23L285.27 788.86L283.98 788.48L282.69 788.07L281.41 787.66L280.12 787.22L278.83 786.77L277.54 786.3L276.25 785.81L274.97 785.3L273.68 784.77L272.39 784.21L271.1 783.64L269.82 783.04L268.53 782.42L267.24 781.77L265.95 781.1L264.66 780.4L263.38 779.67L262.09 778.91L260.8 778.12L259.51 777.3L258.22 776.45L256.94 775.57L255.65 774.65L254.36 773.7L253.07 772.71L251.78 771.68L250.5 770.61L249.21 769.5L247.92 768.35L246.63 767.16L245.35 765.92ZM245.35 765.92L248.85 762.42L252.35 765.92L248.85 769.42ZM622.7 798.03L626.2 794.53L629.7 798.03L626.2 801.53Z" fill="#ff00ff" fill-rule="nonzero"/>
</g>
<path d="M196.7 599.15V1033.15M626.3 599.15V1033.15M196.7 601.4H626.3" fill="none" stroke="#000" stroke-width="4.5"/>
<path d="M196.7 1031.2H626.3" fill="none" stroke="#000" stroke-width="3.9"/>
<text transform="translate(180.6 611.5) scale(0.928 1)" text-anchor="end" font-family="'Liberation Sans', sans-serif" font-size="33.5">1.00</text>
<text transform="translate(180.6 1040.7) scale(0.928 1)" text-anchor="end" font-family="'Liberation Sans', sans-serif" font-size="33.5">0.10</text>
<text transform="translate(201.5 1070.1) scale(0.917 1)" text-anchor="middle" font-family="'Liberation Sans', sans-serif" font-size="36.0">0</text>
<text transform="translate(308.83 1070.1) scale(0.917 1)" text-anchor="middle" font-family="'Liberation Sans', sans-serif" font-size="36.0">250</text>
<text transform="translate(416.15 1070.1) scale(0.917 1)" text-anchor="middle" font-family="'Liberation Sans', sans-serif" font-size="36.0">500</text>
<text transform="translate(523.48 1070.1) scale(0.917 1)" text-anchor="middle" font-family="'Liberation Sans', sans-serif" font-size="36.0">750</text>
<text transform="translate(630.8 1070.1) scale(0.917 1)" text-anchor="middle" font-family="'Liberation Sans', sans-serif" font-size="36.0">1000</text>
<path d="M1107.88 492.7V474.7M1251.49 492.7V474.7M1000.17 492.7V483.7M1036.07 492.7V483.7M1071.97 492.7V483.7M1143.78 492.7V483.7M1179.68 492.7V483.7M1215.58 492.7V483.7M1287.39 492.7V483.7M1323.29 492.7V483.7M1359.2 492.7V483.7M965.7 472.28H983.7M965.7 390.6H983.7M965.7 308.93H983.7M965.7 227.25H983.7M965.7 145.58H983.7" stroke="#000" stroke-width="1.9" fill="none"/>
<g clip-path="url(#clipc)">
<path clip-path="url(#lclipc)" d="M965.7 119.41L967.14 160.68L968.57 190.73L970.01 213.75L971.44 232.19L972.88 247.46L974.32 260.55L975.75 271.95L977.19 282.02L978.63 291.1L980.06 299.33L981.5 306.91L982.93 313.84L984.37 320.29L985.81 326.31L987.24 331.88L988.68 337.14L990.11 342.04L991.55 346.75L992.99 351.16L994.42 355.31L995.86 359.3L997.29 363.05L998.73 366.66L1000.17 370.07L1001.6 373.36L1003.04 376.57L1004.48 379.71L1005.91 382.77L1007.35 385.68L1008.78 388.55L1010.22 391.31L1011.66 394L1013.09 396.58L1014.53 399.12L1015.96 401.54L1017.4 403.87L1018.84 406.16L1020.27 408.31L1021.71 410.41L1023.14 412.36L1024.58 414.34L1026.02 416.17L1027.45 417.95L1028.89 419.66L1030.33 421.31L1031.76 422.81L1033.2 424.32L1034.63 425.71L1036.07 427.1L1037.51 428.36L1038.94 429.54L1040.38 430.7L1041.81 431.88L1043.25 432.97L1044.69 434.01L1046.12 435.02L1047.56 436.03L1048.99 437L1050.43 437.96L1051.87 438.85L1053.3 439.72L1054.74 440.62L1056.18 441.48L1057.61 442.28L1059.05 443.04L1060.48 443.86L1061.92 444.57L1063.36 445.32L1064.79 446.01L1066.23 446.7L1067.66 447.37L1069.1 447.99L1070.54 448.65L1071.97 449.25L1073.41 449.88L1074.85 450.47L1076.28 451.03L1077.72 451.65L1079.15 452.14L1080.59 452.66L1082.03 453.2L1083.46 453.67L1084.9 454.18L1086.33 454.69L1087.77 455.11L1089.21 455.57L1090.64 456L1092.08 456.42L1093.51 456.81L1094.95 457.24L1096.39 457.63L1097.82 458.01L1099.26 458.42L1100.7 458.73L1102.13 459.13L1103.57 459.44L1105 459.81L1106.44 460.13L1107.88 460.44L1109.31 460.7L1110.75 461.02L1112.18 461.34" fill="none" stroke="#ff0000" stroke-width="1.2" stroke-linejoin="round"/>
<path d="M965.7 119.41L967.14 160.68L968.57 190.73L970.01 213.75L971.44 232.19L972.88 247.46L974.32 260.55L975.75 271.95L977.19 282.02L978.63 291.1L980.06 299.33L981.5 306.91L982.93 313.84L984.37 320.29L985.81 326.31L987.24 331.88L988.68 337.14L990.11 342.04L991.55 346.75L992.99 351.16L994.42 355.31L995.86 359.3L997.29 363.05L998.73 366.66L1000.17 370.07L1001.6 373.36L1003.04 376.57L1004.48 379.71L1005.91 382.77L1007.35 385.68L1008.78 388.55L1010.22 391.31L1011.66 394L1013.09 396.58L1014.53 399.12L1015.96 401.54L1017.4 403.87L1018.84 406.16L1020.27 408.31L1021.71 410.41L1023.14 412.36L1024.58 414.34L1026.02 416.17L1027.45 417.95L1028.89 419.66L1030.33 421.31L1031.76 422.81L1033.2 424.32L1034.63 425.71L1036.07 427.1L1037.51 428.36L1038.94 429.54L1040.38 430.7L1041.81 431.88L1043.25 432.97L1044.69 434.01L1046.12 435.02L1047.56 436.03L1048.99 437L1050.43 437.96L1051.87 438.85L1053.3 439.72L1054.74 440.62L1056.18 441.48L1057.61 442.28L1059.05 443.04L1060.48 443.86L1061.92 444.57L1063.36 445.32L1064.79 446.01L1066.23 446.7L1067.66 447.37L1069.1 447.99L1070.54 448.65L1071.97 449.25L1073.41 449.88L1074.85 450.47L1076.28 451.03L1077.72 451.65L1079.15 452.14L1080.59 452.66L1082.03 453.2L1083.46 453.67L1084.9 454.18L1086.33 454.69L1087.77 455.11L1089.21 455.57L1090.64 456L1092.08 456.42L1093.51 456.81L1094.95 457.24L1096.39 457.63L1097.82 458.01L1099.26 458.42L1100.7 458.73L1102.13 459.13L1103.57 459.44L1105 459.81L1106.44 460.13L1107.88 460.44L1109.31 460.7L1110.75 461.02L1112.18 461.34" fill="none" stroke="none" marker-start="url(#mk_sq_ff0000)" marker-mid="url(#mk_sq_ff0000)" marker-end="url(#mk_sq_ff0000)"/>
<path clip-path="url(#lclipc)" d="M1395.1 472.27L1395.1 472.27" fill="none" stroke="#ff0000" stroke-width="1.2" stroke-linejoin="round"/>
<path d="M1395.1 472.27L1395.1 472.27" fill="none" stroke="none" marker-start="url(#mk_sq_ff0000)" marker-mid="url(#mk_sq_ff0000)" marker-end="url(#mk_sq_ff0000)"/>
<path d="M1115.63 457.89L1117.07 458.17L1118.51 458.47L1119.94 458.72L1121.38 458.99L1122.81 459.22L1124.25 459.51L1125.69 459.73L1127.12 459.98L1128.56 460.21L1130 460.4L1131.43 460.63L1132.87 460.84L1134.3 461.03L1135.74 461.24L1137.18 461.48L1138.61 461.64L1140.05 461.87L1141.48 462.02L1142.92 462.15L1144.36 462.37L1145.79 462.54L1147.23 462.69L1148.67 462.86L1150.1 463.01L1151.54 463.18L1152.97 463.29L1154.41 463.43L1155.85 463.6L1157.28 463.72L1158.72 463.85L1160.15 463.97L1161.59 464.1L1163.03 464.22L1164.46 464.36L1165.9 464.49L1167.33 464.59L1168.77 464.67L1170.21 464.78L1171.64 464.9L1173.08 465.01L1174.52 465.09L1175.95 465.16L1177.39 465.26L1178.82 465.39L1180.26 465.47L1181.7 465.58L1183.13 465.66L1184.57 465.72L1186 465.8L1187.44 465.86L1188.88 465.93L1190.31 466.01L1191.75 466.07L1193.18 466.18L1194.62 466.26L1196.06 466.29L1197.49 466.31L1198.93 466.42L1200.37 466.51L1201.8 466.54L1203.24 466.57L1204.67 466.68L1206.11 466.69L1207.55 466.77L1208.98 466.78L1210.42 466.83L1211.85 466.89L1213.29 466.9L1214.73 466.99L1216.16 467.04L1217.6 467.04L1219.03 467.14L1220.47 467.15L1221.91 467.23L1223.34 467.29L1224.78 467.36L1226.22 467.33L1227.65 467.44L1229.09 467.42L1230.52 467.46L1231.96 467.53L1233.4 467.59L1234.83 467.61L1236.27 467.64L1237.7 467.69L1239.14 467.76L1240.58 467.82L1242.01 467.86L1243.45 467.89L1244.89 467.91L1246.32 467.94L1247.76 467.93L1249.19 467.96L1250.63 467.99L1252.07 468.01L1253.5 468.01L1254.94 468.02L1256.37 468.06L1257.81 468.07L1259.25 468.09L1260.68 468.1L1262.12 468.12L1263.55 468.15L1264.99 468.2L1266.43 468.21L1267.86 468.23L1269.3 468.24L1270.74 468.22L1272.17 468.24L1273.61 468.27L1275.04 468.32L1276.48 468.35L1277.92 468.38L1279.35 468.39L1280.79 468.41L1282.22 468.4L1283.66 468.4L1285.1 468.41L1286.53 468.4L1287.97 468.41L1289.4 468.42L1290.84 468.44L1292.28 468.45L1293.71 468.47L1295.15 468.51L1296.59 468.53L1298.02 468.52L1299.46 468.52L1300.89 468.5L1302.33 468.51L1303.77 468.5L1305.2 468.52L1306.64 468.52L1308.07 468.53L1309.51 468.54L1310.95 468.55L1312.38 468.57L1313.82 468.59L1315.26 468.6L1316.69 468.6L1318.13 468.58L1319.56 468.58L1321 468.57L1322.44 468.57L1323.87 468.58L1325.31 468.6L1326.74 468.61L1328.18 468.62L1329.62 468.63L1331.05 468.64L1332.49 468.64L1333.92 468.65L1335.36 468.66L1336.8 468.67L1338.23 468.68L1339.67 468.69L1341.11 468.66L1342.54 468.64L1343.98 468.65L1345.41 468.66L1346.85 468.67L1348.29 468.67L1349.72 468.68L1351.16 468.68L1352.59 468.68L1354.03 468.69L1355.47 468.69L1356.9 468.73L1358.34 468.74L1359.77 468.75L1361.21 468.73L1362.65 468.74L1364.08 468.74L1365.52 468.74L1366.96 468.77L1368.39 468.76L1369.83 468.73L1371.26 468.74L1372.7 468.75L1374.14 468.77L1375.57 468.78L1377.01 468.78L1378.44 468.78L1379.88 468.78L1381.32 468.78L1382.75 468.74L1384.19 468.75L1385.62 468.77L1387.06 468.75L1388.5 468.76L1389.93 468.76L1391.37 468.77L1392.81 468.82L1394.24 468.82L1395.68 468.82L1397.11 468.82L1398.55 468.82L1398.55 475.72L1391.65 475.72L1390.21 475.72L1388.78 475.72L1387.34 475.72L1385.91 475.72L1384.47 475.67L1383.03 475.66L1381.6 475.66L1380.16 475.65L1378.72 475.67L1377.29 475.65L1375.85 475.64L1374.42 475.68L1372.98 475.68L1371.54 475.68L1370.11 475.68L1368.67 475.68L1367.24 475.67L1365.8 475.65L1364.36 475.64L1362.93 475.63L1361.49 475.66L1360.06 475.67L1358.62 475.64L1357.18 475.64L1355.75 475.64L1354.31 475.63L1352.87 475.65L1351.44 475.64L1350 475.63L1348.57 475.59L1347.13 475.59L1345.69 475.58L1344.26 475.58L1342.82 475.58L1341.39 475.57L1339.95 475.57L1338.51 475.56L1337.08 475.55L1335.64 475.54L1334.21 475.56L1332.77 475.59L1331.33 475.58L1329.9 475.57L1328.46 475.56L1327.02 475.55L1325.59 475.54L1324.15 475.54L1322.72 475.53L1321.28 475.52L1319.84 475.51L1318.41 475.5L1316.97 475.48L1315.54 475.47L1314.1 475.47L1312.66 475.48L1311.23 475.48L1309.79 475.5L1308.36 475.5L1306.92 475.49L1305.48 475.47L1304.05 475.45L1302.61 475.44L1301.17 475.43L1299.74 475.42L1298.3 475.42L1296.87 475.4L1295.43 475.41L1293.99 475.4L1292.56 475.42L1291.12 475.42L1289.69 475.43L1288.25 475.41L1286.81 475.37L1285.38 475.35L1283.94 475.34L1282.5 475.32L1281.07 475.31L1279.63 475.3L1278.2 475.31L1276.76 475.3L1275.32 475.3L1273.89 475.31L1272.45 475.29L1271.02 475.28L1269.58 475.25L1268.14 475.22L1266.71 475.17L1265.27 475.14L1263.84 475.12L1262.4 475.14L1260.96 475.13L1259.53 475.11L1258.09 475.1L1256.65 475.05L1255.22 475.02L1253.78 475L1252.35 474.99L1250.91 474.97L1249.47 474.96L1248.04 474.92L1246.6 474.91L1245.17 474.91L1243.73 474.89L1242.29 474.86L1240.86 474.83L1239.42 474.84L1237.99 474.81L1236.55 474.79L1235.11 474.76L1233.68 474.72L1232.24 474.66L1230.8 474.59L1229.37 474.54L1227.93 474.51L1226.5 474.49L1225.06 474.43L1223.62 474.36L1222.19 474.32L1220.75 474.34L1219.32 474.23L1217.88 474.26L1216.44 474.19L1215.01 474.13L1213.57 474.05L1212.13 474.04L1210.7 473.94L1209.26 473.94L1207.83 473.89L1206.39 473.8L1204.95 473.79L1203.52 473.73L1202.08 473.68L1200.65 473.67L1199.21 473.59L1197.77 473.58L1196.34 473.47L1194.9 473.44L1193.47 473.41L1192.03 473.32L1190.59 473.21L1189.16 473.19L1187.72 473.16L1186.28 473.08L1184.85 472.97L1183.41 472.91L1181.98 472.83L1180.54 472.76L1179.1 472.7L1177.67 472.62L1176.23 472.56L1174.8 472.48L1173.36 472.37L1171.92 472.29L1170.49 472.16L1169.05 472.06L1167.62 471.99L1166.18 471.91L1164.74 471.8L1163.31 471.68L1161.87 471.57L1160.43 471.49L1159 471.39L1157.56 471.26L1156.13 471.12L1154.69 471L1153.25 470.87L1151.82 470.75L1150.38 470.62L1148.95 470.5L1147.51 470.33L1146.07 470.19L1144.64 470.08L1143.2 469.91L1141.77 469.76L1140.33 469.59L1138.89 469.44L1137.46 469.27L1136.02 469.05L1134.58 468.92L1133.15 468.77L1131.71 468.54L1130.28 468.38L1128.84 468.14L1127.4 467.93L1125.97 467.74L1124.53 467.53L1123.1 467.3L1121.66 467.11L1120.22 466.88L1118.79 466.63L1117.35 466.41L1115.91 466.12L1114.48 465.89L1113.04 465.62L1111.61 465.37L1110.17 465.07L1108.73 464.79L1108.73 457.89Z" fill="#ff0000"/>
</g>
<g clip-path="url(#clipc)">
<path clip-path="url(#lclipc)" d="M965.7 123.63L967.14 169.22L968.57 200.87L970.01 225.42L971.44 245.66L972.88 263.01L974.32 278.09L975.75 291.46L977.19 303.41L978.63 314.15L980.06 323.89L981.5 332.75L982.93 340.88L984.37 348.32L985.81 355.21L987.24 361.62L988.68 367.46L990.11 372.99L991.55 378.13L992.99 382.92L994.42 387.43L995.86 391.69L997.29 395.72L998.73 399.49L1000.17 403.11L1001.6 406.45L1003.04 409.71L1004.48 412.74L1005.91 415.63L1007.35 418.37L1008.78 420.98L1010.22 423.44L1011.66 425.86L1013.09 428.03L1014.53 430.15L1015.96 432.17L1017.4 434.06L1018.84 435.92L1020.27 437.63L1021.71 439.31L1023.14 440.83L1024.58 442.35L1026.02 443.76L1027.45 445.04L1028.89 446.34L1030.33 447.57L1031.76 448.72L1033.2 449.84L1034.63 450.87L1036.07 451.84L1037.51 452.82L1038.94 453.68L1040.38 454.56L1041.81 455.34L1043.25 456.14L1044.69 456.83L1046.12 457.54L1047.56 458.24L1048.99 458.9L1050.43 459.49L1051.87 460.06L1053.3 460.63L1054.74 461.14L1056.18 461.64L1057.61 462.13L1059.05 462.6L1060.48 463.02L1061.92 463.45L1063.36 463.83L1064.79 464.23L1066.23 464.56L1067.66 464.94L1069.1 465.28L1070.54 465.58L1071.97 465.89" fill="none" stroke="#0000ff" stroke-width="1.2" stroke-linejoin="round"/>
<path d="M965.7 123.63L967.14 169.22L968.57 200.87L970.01 225.42L971.44 245.66L972.88 263.01L974.32 278.09L975.75 291.46L977.19 303.41L978.63 314.15L980.06 323.89L981.5 332.75L982.93 340.88L984.37 348.32L985.81 355.21L987.24 361.62L988.68 367.46L990.11 372.99L991.55 378.13L992.99 382.92L994.42 387.43L995.86 391.69L997.29 395.72L998.73 399.49L1000.17 403.11L1001.6 406.45L1003.04 409.71L1004.48 412.74L1005.91 415.63L1007.35 418.37L1008.78 420.98L1010.22 423.44L1011.66 425.86L1013.09 428.03L1014.53 430.15L1015.96 432.17L1017.4 434.06L1018.84 435.92L1020.27 437.63L1021.71 439.31L1023.14 440.83L1024.58 442.35L1026.02 443.76L1027.45 445.04L1028.89 446.34L1030.33 447.57L1031.76 448.72L1033.2 449.84L1034.63 450.87L1036.07 451.84L1037.51 452.82L1038.94 453.68L1040.38 454.56L1041.81 455.34L1043.25 456.14L1044.69 456.83L1046.12 457.54L1047.56 458.24L1048.99 458.9L1050.43 459.49L1051.87 460.06L1053.3 460.63L1054.74 461.14L1056.18 461.64L1057.61 462.13L1059.05 462.6L1060.48 463.02L1061.92 463.45L1063.36 463.83L1064.79 464.23L1066.23 464.56L1067.66 464.94L1069.1 465.28L1070.54 465.58L1071.97 465.89" fill="none" stroke="none" marker-start="url(#mk_ci_0000ff)" marker-mid="url(#mk_ci_0000ff)" marker-end="url(#mk_ci_0000ff)"/>
<path clip-path="url(#lclipc)" d="M1395.1 472.27L1395.1 472.27" fill="none" stroke="#0000ff" stroke-width="1.2" stroke-linejoin="round"/>
<path d="M1395.1 472.27L1395.1 472.27" fill="none" stroke="none" marker-start="url(#mk_ci_0000ff)" marker-mid="url(#mk_ci_0000ff)" marker-end="url(#mk_ci_0000ff)"/>
<path d="M1071.97 465.89L1073.41 466.18L1074.85 466.45L1076.28 466.69L1077.72 466.99L1079.15 467.19L1080.59 467.42L1082.03 467.64L1083.46 467.83L1084.9 468.06L1086.33 468.22L1087.77 468.41L1089.21 468.58L1090.64 468.75L1092.08 468.9L1093.51 469.06L1094.95 469.18L1096.39 469.29L1097.82 469.44L1099.26 469.57L1100.7 469.69L1102.13 469.82L1103.57 469.91L1105 469.99L1106.44 470.14L1107.88 470.2L1109.31 470.29L1110.75 470.39L1112.18 470.46L1113.62 470.52L1115.06 470.58L1116.49 470.67L1117.93 470.73L1119.36 470.81L1120.8 470.86L1122.24 470.93L1123.67 470.98L1125.11 471.05L1126.55 471.08L1127.98 471.12L1129.42 471.19L1130.85 471.22L1132.29 471.26L1133.73 471.31L1135.16 471.33L1136.6 471.38L1138.03 471.44L1139.47 471.47L1140.91 471.48L1142.34 471.51L1143.78 471.54L1145.22 471.58L1146.65 471.61L1148.09 471.67L1149.52 471.64L1150.96 471.71L1152.4 471.7L1153.83 471.75L1155.27 471.79L1156.7 471.81L1158.14 471.85L1159.58 471.87L1161.01 471.91L1162.45 471.93L1163.88 471.94L1165.32 471.97L1166.76 472.01L1168.19 472.03L1169.63 472.06L1171.07 472.08L1172.5 472.09L1173.94 472.11L1175.37 472.11L1176.81 472.13L1178.25 472.14L1179.68 472.13L1181.12 472.13L1182.55 472.12L1183.99 472.13L1185.43 472.13L1186.86 472.17L1188.3 472.18L1189.73 472.19L1191.17 472.19L1192.61 472.19L1194.04 472.18L1195.48 472.21L1196.92 472.21L1198.35 472.21L1199.79 472.21L1201.22 472.19L1202.66 472.19L1204.1 472.2L1205.53 472.2L1206.97 472.2L1208.4 472.2L1209.84 472.2L1211.28 472.19L1212.71 472.19L1214.15 472.17L1215.58 472.16L1217.02 472.17L1218.46 472.17L1219.89 472.17L1221.33 472.19L1222.77 472.2L1224.2 472.23L1225.64 472.27L1227.07 472.27L1228.51 472.27L1229.95 472.27L1231.38 472.23L1232.82 472.23L1234.25 472.23L1235.69 472.21L1237.13 472.23L1238.56 472.27L1240 472.27L1241.44 472.27L1242.87 472.27L1244.31 472.27L1245.74 472.27L1247.18 472.27L1248.62 472.27L1250.05 472.27L1251.49 472.27L1252.92 472.27L1254.36 472.27L1255.8 472.27L1257.23 472.27L1258.67 472.27L1260.1 472.27L1261.54 472.27L1262.98 472.27L1264.41 472.27L1265.85 472.27L1267.29 472.27L1268.72 472.27L1270.16 472.27L1271.59 472.27L1273.03 472.23L1274.47 472.23L1275.9 472.23L1277.34 472.23L1278.77 472.24L1280.21 472.23L1281.65 472.22L1283.08 472.22L1284.52 472.23L1285.95 472.23L1287.39 472.22L1288.83 472.2L1290.26 472.19L1291.7 472.2L1293.14 472.22L1294.57 472.2L1296.01 472.18L1297.44 472.17L1298.88 472.18L1300.32 472.23L1301.75 472.22L1303.19 472.22L1304.62 472.23L1306.06 472.23L1307.5 472.21L1308.93 472.23L1310.37 472.27L1311.81 472.27L1313.24 472.27L1314.68 472.27L1316.11 472.27L1317.55 472.27L1318.99 472.27L1320.42 472.27L1321.86 472.27L1323.29 472.22L1324.73 472.22L1326.17 472.21L1327.6 472.22L1329.04 472.23L1330.47 472.21L1331.91 472.23L1333.35 472.27L1334.78 472.27L1336.22 472.27L1337.66 472.27L1339.09 472.27L1340.53 472.27L1341.96 472.27L1343.4 472.27L1344.84 472.27L1346.27 472.27L1347.71 472.27L1349.14 472.27L1350.58 472.27L1352.02 472.27L1353.45 472.27L1354.89 472.27L1356.32 472.27L1357.76 472.27L1359.2 472.27L1360.63 472.27L1362.07 472.27L1363.51 472.27L1364.94 472.27L1366.38 472.27L1367.81 472.27L1369.25 472.27L1370.69 472.27L1372.12 472.27L1373.56 472.27L1374.99 472.27L1376.43 472.27L1377.87 472.27L1379.3 472.27L1380.74 472.27L1382.17 472.27L1383.61 472.27L1385.05 472.27L1386.48 472.27L1387.92 472.27L1389.36 472.27L1390.79 472.27L1392.23 472.27L1393.66 472.27L1395.1 472.27" fill="none" stroke="#0000ff" stroke-width="6.9" stroke-linecap="round" stroke-linejoin="round"/>
</g>
<g clip-path="url(#clipc)">
<path clip-path="url(#lclipc)" d="M965.7 125.87L967.14 174.7L968.57 209.13L970.01 235.21L971.44 256.33L972.88 274.17L974.32 289.71L975.75 303.59L977.19 316.07L978.63 327.39L980.06 337.72L981.5 347.22L982.93 355.91L984.37 363.93L985.81 371.3L987.24 378.11L988.68 384.41L990.11 390.23L991.55 395.62L992.99 400.6L994.42 405.22L995.86 409.5L997.29 413.45L998.73 417.14L1000.17 420.53L1001.6 423.69L1003.04 426.63L1004.48 429.4L1005.91 431.95L1007.35 434.36L1008.78 436.57L1010.22 438.69L1011.66 440.63L1013.09 442.42L1014.53 444.2L1015.96 445.76L1017.4 447.28L1018.84 448.72L1020.27 450.05L1021.71 451.31L1023.14 452.49L1024.58 453.63L1026.02 454.69L1027.45 455.68L1028.89 456.63L1030.33 457.5L1031.76 458.35L1033.2 459.12L1034.63 459.91L1036.07 460.61L1037.51 461.28L1038.94 461.93L1040.38 462.46L1041.81 463.09L1043.25 463.59L1044.69 464.09L1046.12 464.53L1047.56 465.03L1048.99 465.39L1050.43 465.81L1051.87 466.17L1053.3 466.53L1054.74 466.84L1056.18 467.17L1057.61 467.45L1059.05 467.71L1060.48 467.95L1061.92 468.26" fill="none" stroke="#9400d3" stroke-width="1.2" stroke-linejoin="round"/>
<path d="M965.7 125.87L967.14 174.7L968.57 209.13L970.01 235.21L971.44 256.33L972.88 274.17L974.32 289.71L975.75 303.59L977.19 316.07L978.63 327.39L980.06 337.72L981.5 347.22L982.93 355.91L984.37 363.93L985.81 371.3L987.24 378.11L988.68 384.41L990.11 390.23L991.55 395.62L992.99 400.6L994.42 405.22L995.86 409.5L997.29 413.45L998.73 417.14L1000.17 420.53L1001.6 423.69L1003.04 426.63L1004.48 429.4L1005.91 431.95L1007.35 434.36L1008.78 436.57L1010.22 438.69L1011.66 440.63L1013.09 442.42L1014.53 444.2L1015.96 445.76L1017.4 447.28L1018.84 448.72L1020.27 450.05L1021.71 451.31L1023.14 452.49L1024.58 453.63L1026.02 454.69L1027.45 455.68L1028.89 456.63L1030.33 457.5L1031.76 458.35L1033.2 459.12L1034.63 459.91L1036.07 460.61L1037.51 461.28L1038.94 461.93L1040.38 462.46L1041.81 463.09L1043.25 463.59L1044.69 464.09L1046.12 464.53L1047.56 465.03L1048.99 465.39L1050.43 465.81L1051.87 466.17L1053.3 466.53L1054.74 466.84L1056.18 467.17L1057.61 467.45L1059.05 467.71L1060.48 467.95L1061.92 468.26" fill="none" stroke="none" marker-start="url(#mk_di_9400d3)" marker-mid="url(#mk_di_9400d3)" marker-end="url(#mk_di_9400d3)"/>
<path clip-path="url(#lclipc)" d="M1395.1 472.27L1395.1 472.27" fill="none" stroke="#9400d3" stroke-width="1.2" stroke-linejoin="round"/>
<path d="M1395.1 472.27L1395.1 472.27" fill="none" stroke="none" marker-start="url(#mk_di_9400d3)" marker-mid="url(#mk_di_9400d3)" marker-end="url(#mk_di_9400d3)"/>
<path d="M1061.92 464.16L1063.36 464.32L1064.79 464.55L1066.23 464.78L1067.66 464.96L1069.1 465.15L1070.54 465.29L1071.97 465.47L1073.41 465.63L1074.85 465.77L1076.28 465.91L1077.72 466.03L1079.15 466.17L1080.59 466.23L1082.03 466.41L1083.46 466.54L1084.9 466.58L1086.33 466.67L1087.77 466.75L1089.21 466.85L1090.64 466.93L1092.08 466.99L1093.51 467.05L1094.95 467.14L1096.39 467.2L1097.82 467.22L1099.26 467.3L1100.7 467.38L1102.13 467.37L1103.57 467.44L1105 467.5L1106.44 467.55L1107.88 467.56L1109.31 467.58L1110.75 467.61L1112.18 467.65L1113.62 467.68L1115.06 467.72L1116.49 467.75L1117.93 467.78L1119.36 467.78L1120.8 467.79L1122.24 467.8L1123.67 467.83L1125.11 467.86L1126.55 467.87L1127.98 467.89L1129.42 467.89L1130.85 467.9L1132.29 467.88L1133.73 467.88L1135.16 467.89L1136.6 467.9L1138.03 467.96L1139.47 467.96L1140.91 467.97L1142.34 467.97L1143.78 467.97L1145.22 468.01L1146.65 468.04L1148.09 468.05L1149.52 468.06L1150.96 468.08L1152.4 468.09L1153.83 468.09L1155.27 468.09L1156.7 468.08L1158.14 468.07L1159.58 468.06L1161.01 468.05L1162.45 468.04L1163.88 468.02L1165.32 468.01L1166.76 468.02L1168.19 468.03L1169.63 468.04L1171.07 468.05L1172.5 468.04L1173.94 468.03L1175.37 468.01L1176.81 468.02L1178.25 468.03L1179.68 468.06L1181.12 468.11L1182.55 468.17L1183.99 468.13L1185.43 468.17L1186.86 468.17L1188.3 468.17L1189.73 468.17L1191.17 468.17L1192.61 468.14L1194.04 468.17L1195.48 468.17L1196.92 468.17L1198.35 468.17L1199.79 468.17L1201.22 468.17L1202.66 468.17L1204.1 468.17L1205.53 468.17L1206.97 468.17L1208.4 468.17L1209.84 468.17L1211.28 468.17L1212.71 468.17L1214.15 468.17L1215.58 468.17L1217.02 468.17L1218.46 468.17L1219.89 468.17L1221.33 468.17L1222.77 468.17L1224.2 468.17L1225.64 468.17L1227.07 468.17L1228.51 468.17L1229.95 468.17L1231.38 468.17L1232.82 468.17L1234.25 468.17L1235.69 468.17L1237.13 468.17L1238.56 468.17L1240 468.17L1241.44 468.17L1242.87 468.17L1244.31 468.17L1245.74 468.17L1247.18 468.17L1248.62 468.17L1250.05 468.17L1251.49 468.17L1252.92 468.17L1254.36 468.17L1255.8 468.17L1257.23 468.17L1258.67 468.17L1260.1 468.17L1261.54 468.17L1262.98 468.17L1264.41 468.17L1265.85 468.17L1267.29 468.17L1268.72 468.17L1270.16 468.17L1271.59 468.17L1273.03 468.17L1274.47 468.17L1275.9 468.17L1277.34 468.17L1278.77 468.17L1280.21 468.17L1281.65 468.17L1283.08 468.17L1284.52 468.17L1285.95 468.17L1287.39 468.17L1288.83 468.17L1290.26 468.12L1291.7 468.1L1293.14 468.12L1294.57 468.14L1296.01 468.13L1297.44 468.13L1298.88 468.13L1300.32 468.13L1301.75 468.13L1303.19 468.14L1304.62 468.14L1306.06 468.14L1307.5 468.13L1308.93 468.17L1310.37 468.17L1311.81 468.17L1313.24 468.17L1314.68 468.17L1316.11 468.17L1317.55 468.17L1318.99 468.17L1320.42 468.17L1321.86 468.17L1323.29 468.17L1324.73 468.17L1326.17 468.17L1327.6 468.17L1329.04 468.17L1330.47 468.17L1331.91 468.17L1333.35 468.17L1334.78 468.17L1336.22 468.17L1337.66 468.17L1339.09 468.17L1340.53 468.17L1341.96 468.17L1343.4 468.17L1344.84 468.17L1346.27 468.17L1347.71 468.17L1349.14 468.17L1350.58 468.13L1352.02 468.12L1353.45 468.11L1354.89 468.1L1356.32 468.09L1357.76 468.09L1359.2 468.11L1360.63 468.12L1362.07 468.12L1363.51 468.11L1364.94 468.17L1366.38 468.17L1367.81 468.17L1369.25 468.17L1370.69 468.17L1372.12 468.17L1373.56 468.17L1374.99 468.17L1376.43 468.17L1377.87 468.17L1379.3 468.17L1380.74 468.17L1382.17 468.17L1383.61 468.17L1385.05 468.17L1386.48 468.17L1387.92 468.17L1389.36 468.17L1390.79 468.17L1392.23 468.17L1393.66 468.17L1395.1 468.17L1395.1 476.37L1393.66 476.37L1392.23 476.37L1390.79 476.37L1389.36 476.37L1387.92 476.37L1386.48 476.37L1385.05 476.37L1383.61 476.37L1382.17 476.37L1380.74 476.37L1379.3 476.37L1377.87 476.37L1376.43 476.37L1374.99 476.37L1373.56 476.37L1372.12 476.37L1370.69 476.37L1369.25 476.37L1367.81 476.37L1366.38 476.37L1364.94 476.37L1363.51 476.31L1362.07 476.32L1360.63 476.32L1359.2 476.31L1357.76 476.29L1356.32 476.29L1354.89 476.3L1353.45 476.31L1352.02 476.32L1350.58 476.33L1349.14 476.37L1347.71 476.37L1346.27 476.37L1344.84 476.37L1343.4 476.37L1341.96 476.37L1340.53 476.37L1339.09 476.37L1337.66 476.37L1336.22 476.37L1334.78 476.37L1333.35 476.37L1331.91 476.37L1330.47 476.37L1329.04 476.37L1327.6 476.37L1326.17 476.37L1324.73 476.37L1323.29 476.37L1321.86 476.37L1320.42 476.37L1318.99 476.37L1317.55 476.37L1316.11 476.37L1314.68 476.37L1313.24 476.37L1311.81 476.37L1310.37 476.37L1308.93 476.37L1307.5 476.33L1306.06 476.34L1304.62 476.34L1303.19 476.34L1301.75 476.33L1300.32 476.33L1298.88 476.33L1297.44 476.33L1296.01 476.33L1294.57 476.34L1293.14 476.32L1291.7 476.3L1290.26 476.32L1288.83 476.37L1287.39 476.37L1285.95 476.37L1284.52 476.37L1283.08 476.37L1281.65 476.37L1280.21 476.37L1278.77 476.37L1277.34 476.37L1275.9 476.37L1274.47 476.37L1273.03 476.37L1271.59 476.37L1270.16 476.37L1268.72 476.37L1267.29 476.37L1265.85 476.37L1264.41 476.37L1262.98 476.37L1261.54 476.37L1260.1 476.37L1258.67 476.37L1257.23 476.37L1255.8 476.37L1254.36 476.37L1252.92 476.37L1251.49 476.37L1250.05 476.37L1248.62 476.37L1247.18 476.37L1245.74 476.37L1244.31 476.37L1242.87 476.37L1241.44 476.37L1240 476.37L1238.56 476.37L1237.13 476.37L1235.69 476.37L1234.25 476.37L1232.82 476.37L1231.38 476.37L1229.95 476.37L1228.51 476.37L1227.07 476.37L1225.64 476.37L1224.2 476.37L1222.77 476.37L1221.33 476.37L1219.89 476.37L1218.46 476.37L1217.02 476.37L1215.58 476.37L1214.15 476.37L1212.71 476.37L1211.28 476.37L1209.84 476.37L1208.4 476.37L1206.97 476.37L1205.53 476.37L1204.1 476.37L1202.66 476.37L1201.22 476.37L1199.79 476.37L1198.35 476.37L1196.92 476.37L1195.48 476.37L1194.04 476.37L1192.61 476.34L1191.17 476.37L1189.73 476.37L1188.3 476.37L1186.86 476.37L1185.43 476.37L1183.99 476.33L1182.55 476.37L1181.12 476.31L1179.68 476.26L1178.25 476.23L1176.81 476.22L1175.37 476.21L1173.94 476.23L1172.5 476.24L1171.07 476.25L1169.63 476.24L1168.19 476.23L1166.76 476.22L1165.32 476.21L1163.88 476.22L1162.45 476.24L1161.01 476.25L1159.58 476.26L1158.14 476.27L1156.7 476.28L1155.27 476.29L1153.83 476.29L1152.4 476.29L1150.96 476.28L1149.52 476.26L1148.09 476.25L1146.65 476.24L1145.22 476.21L1143.78 476.17L1142.34 476.17L1140.91 476.17L1139.47 476.16L1138.03 476.16L1136.6 476.1L1135.16 476.09L1133.73 476.08L1132.29 476.08L1130.85 476.1L1129.42 476.09L1127.98 476.09L1126.55 476.07L1125.11 476.06L1123.67 476.03L1122.24 476L1120.8 475.99L1119.36 475.98L1117.93 475.98L1116.49 475.95L1115.06 475.92L1113.62 475.88L1112.18 475.85L1110.75 475.81L1109.31 475.78L1107.88 475.76L1106.44 475.75L1105 475.7L1103.57 475.64L1102.13 475.57L1100.7 475.58L1099.26 475.5L1097.82 475.42L1096.39 475.4L1094.95 475.34L1093.51 475.25L1092.08 475.19L1090.64 475.13L1089.21 475.05L1087.77 474.95L1086.33 474.87L1084.9 474.78L1083.46 474.74L1082.03 474.61L1080.59 474.43L1079.15 474.37L1077.72 474.23L1076.28 474.11L1074.85 473.97L1073.41 473.83L1071.97 473.67L1070.54 473.49L1069.1 473.35L1067.66 473.16L1066.23 472.98L1064.79 472.75L1063.36 472.52L1061.92 472.36ZM1066.02 468.26L1067.46 468.42L1068.89 468.65L1070.33 468.88L1071.76 469.06L1073.2 469.25L1074.64 469.39L1076.07 469.57L1077.51 469.73L1078.95 469.87L1080.38 470.01L1081.82 470.13L1083.25 470.27L1084.69 470.33L1086.13 470.51L1087.56 470.64L1089 470.68L1090.43 470.77L1091.87 470.85L1093.31 470.95L1094.74 471.03L1096.18 471.09L1097.61 471.15L1099.05 471.24L1100.49 471.3L1101.92 471.32L1103.36 471.4L1104.8 471.48L1106.23 471.47L1107.67 471.54L1109.1 471.6L1110.54 471.65L1111.98 471.66L1113.41 471.68L1114.85 471.71L1116.28 471.75L1117.72 471.78L1119.16 471.82L1120.59 471.85L1122.03 471.88L1123.46 471.88L1124.9 471.89L1126.34 471.9L1127.77 471.93L1129.21 471.96L1130.65 471.97L1132.08 471.99L1133.52 471.99L1134.95 472L1136.39 471.98L1137.83 471.98L1139.26 471.99L1140.7 472L1142.13 472.06L1143.57 472.06L1145.01 472.07L1146.44 472.07L1147.88 472.07L1149.32 472.11L1150.75 472.14L1152.19 472.15L1153.62 472.16L1155.06 472.18L1156.5 472.19L1157.93 472.19L1159.37 472.19L1160.8 472.18L1162.24 472.17L1163.68 472.16L1165.11 472.15L1166.55 472.14L1167.98 472.12L1169.42 472.11L1170.86 472.12L1172.29 472.13L1173.73 472.14L1175.17 472.15L1176.6 472.14L1178.04 472.13L1179.47 472.11L1180.91 472.12L1182.35 472.13L1183.78 472.16L1185.22 472.21L1186.65 472.27L1188.09 472.23L1189.53 472.27L1190.96 472.27L1192.4 472.27L1193.83 472.27L1195.27 472.27L1196.71 472.24L1198.14 472.27L1199.58 472.27L1201.02 472.27L1202.45 472.27L1203.89 472.27L1205.32 472.27L1206.76 472.27L1208.2 472.27L1209.63 472.27L1211.07 472.27L1212.5 472.27L1213.94 472.27L1215.38 472.27L1216.81 472.27L1218.25 472.27L1219.68 472.27L1221.12 472.27L1222.56 472.27L1223.99 472.27L1225.43 472.27L1226.87 472.27L1228.3 472.27L1229.74 472.27L1231.17 472.27L1232.61 472.27L1234.05 472.27L1235.48 472.27L1236.92 472.27L1238.35 472.27L1239.79 472.27L1241.23 472.27L1242.66 472.27L1244.1 472.27L1245.54 472.27L1246.97 472.27L1248.41 472.27L1249.84 472.27L1251.28 472.27L1252.72 472.27L1254.15 472.27L1255.59 472.27L1257.02 472.27L1258.46 472.27L1259.9 472.27L1261.33 472.27L1262.77 472.27L1264.2 472.27L1265.64 472.27L1267.08 472.27L1268.51 472.27L1269.95 472.27L1271.39 472.27L1272.82 472.27L1274.26 472.27L1275.69 472.27L1277.13 472.27L1278.57 472.27L1280 472.27L1281.44 472.27L1282.87 472.27L1284.31 472.27L1285.75 472.27L1287.18 472.27L1288.62 472.27L1290.05 472.27L1291.49 472.27L1292.93 472.27L1294.36 472.22L1295.8 472.2L1297.24 472.22L1298.67 472.24L1300.11 472.23L1301.54 472.23L1302.98 472.23L1304.42 472.23L1305.85 472.23L1307.29 472.24L1308.72 472.24L1310.16 472.24L1311.6 472.23L1313.03 472.27L1314.47 472.27L1315.91 472.27L1317.34 472.27L1318.78 472.27L1320.21 472.27L1321.65 472.27L1323.09 472.27L1324.52 472.27L1325.96 472.27L1327.39 472.27L1328.83 472.27L1330.27 472.27L1331.7 472.27L1333.14 472.27L1334.57 472.27L1336.01 472.27L1337.45 472.27L1338.88 472.27L1340.32 472.27L1341.76 472.27L1343.19 472.27L1344.63 472.27L1346.06 472.27L1347.5 472.27L1348.94 472.27L1350.37 472.27L1351.81 472.27L1353.24 472.27L1354.68 472.23L1356.12 472.22L1357.55 472.21L1358.99 472.2L1360.42 472.19L1361.86 472.19L1363.3 472.21L1364.73 472.22L1366.17 472.22L1367.61 472.21L1369.04 472.27L1370.48 472.27L1371.91 472.27L1373.35 472.27L1374.79 472.27L1376.22 472.27L1377.66 472.27L1379.09 472.27L1380.53 472.27L1381.97 472.27L1383.4 472.27L1384.84 472.27L1386.27 472.27L1387.71 472.27L1389.15 472.27L1390.58 472.27L1392.02 472.27L1393.46 472.27L1394.89 472.27L1396.33 472.27L1397.76 472.27L1399.2 472.27L1391 472.27L1389.56 472.27L1388.13 472.27L1386.69 472.27L1385.26 472.27L1383.82 472.27L1382.38 472.27L1380.95 472.27L1379.51 472.27L1378.07 472.27L1376.64 472.27L1375.2 472.27L1373.77 472.27L1372.33 472.27L1370.89 472.27L1369.46 472.27L1368.02 472.27L1366.59 472.27L1365.15 472.27L1363.71 472.27L1362.28 472.27L1360.84 472.27L1359.41 472.21L1357.97 472.22L1356.53 472.22L1355.1 472.21L1353.66 472.19L1352.22 472.19L1350.79 472.2L1349.35 472.21L1347.92 472.22L1346.48 472.23L1345.04 472.27L1343.61 472.27L1342.17 472.27L1340.74 472.27L1339.3 472.27L1337.86 472.27L1336.43 472.27L1334.99 472.27L1333.56 472.27L1332.12 472.27L1330.68 472.27L1329.25 472.27L1327.81 472.27L1326.37 472.27L1324.94 472.27L1323.5 472.27L1322.07 472.27L1320.63 472.27L1319.19 472.27L1317.76 472.27L1316.32 472.27L1314.89 472.27L1313.45 472.27L1312.01 472.27L1310.58 472.27L1309.14 472.27L1307.71 472.27L1306.27 472.27L1304.83 472.27L1303.4 472.23L1301.96 472.24L1300.52 472.24L1299.09 472.24L1297.65 472.23L1296.22 472.23L1294.78 472.23L1293.34 472.23L1291.91 472.23L1290.47 472.24L1289.04 472.22L1287.6 472.2L1286.16 472.22L1284.73 472.27L1283.29 472.27L1281.85 472.27L1280.42 472.27L1278.98 472.27L1277.55 472.27L1276.11 472.27L1274.67 472.27L1273.24 472.27L1271.8 472.27L1270.37 472.27L1268.93 472.27L1267.49 472.27L1266.06 472.27L1264.62 472.27L1263.19 472.27L1261.75 472.27L1260.31 472.27L1258.88 472.27L1257.44 472.27L1256 472.27L1254.57 472.27L1253.13 472.27L1251.7 472.27L1250.26 472.27L1248.82 472.27L1247.39 472.27L1245.95 472.27L1244.52 472.27L1243.08 472.27L1241.64 472.27L1240.21 472.27L1238.77 472.27L1237.34 472.27L1235.9 472.27L1234.46 472.27L1233.03 472.27L1231.59 472.27L1230.15 472.27L1228.72 472.27L1227.28 472.27L1225.85 472.27L1224.41 472.27L1222.97 472.27L1221.54 472.27L1220.1 472.27L1218.67 472.27L1217.23 472.27L1215.79 472.27L1214.36 472.27L1212.92 472.27L1211.48 472.27L1210.05 472.27L1208.61 472.27L1207.18 472.27L1205.74 472.27L1204.3 472.27L1202.87 472.27L1201.43 472.27L1200 472.27L1198.56 472.27L1197.12 472.27L1195.69 472.27L1194.25 472.27L1192.82 472.27L1191.38 472.27L1189.94 472.27L1188.51 472.24L1187.07 472.27L1185.63 472.27L1184.2 472.27L1182.76 472.27L1181.33 472.27L1179.89 472.23L1178.45 472.27L1177.02 472.21L1175.58 472.16L1174.15 472.13L1172.71 472.12L1171.27 472.11L1169.84 472.13L1168.4 472.14L1166.97 472.15L1165.53 472.14L1164.09 472.13L1162.66 472.12L1161.22 472.11L1159.78 472.12L1158.35 472.14L1156.91 472.15L1155.48 472.16L1154.04 472.17L1152.6 472.18L1151.17 472.19L1149.73 472.19L1148.3 472.19L1146.86 472.18L1145.42 472.16L1143.99 472.15L1142.55 472.14L1141.12 472.11L1139.68 472.07L1138.24 472.07L1136.81 472.07L1135.37 472.06L1133.93 472.06L1132.5 472L1131.06 471.99L1129.63 471.98L1128.19 471.98L1126.75 472L1125.32 471.99L1123.88 471.99L1122.45 471.97L1121.01 471.96L1119.57 471.93L1118.14 471.9L1116.7 471.89L1115.26 471.88L1113.83 471.88L1112.39 471.85L1110.96 471.82L1109.52 471.78L1108.08 471.75L1106.65 471.71L1105.21 471.68L1103.78 471.66L1102.34 471.65L1100.9 471.6L1099.47 471.54L1098.03 471.47L1096.6 471.48L1095.16 471.4L1093.72 471.32L1092.29 471.3L1090.85 471.24L1089.41 471.15L1087.98 471.09L1086.54 471.03L1085.11 470.95L1083.67 470.85L1082.23 470.77L1080.8 470.68L1079.36 470.64L1077.93 470.51L1076.49 470.33L1075.05 470.27L1073.62 470.13L1072.18 470.01L1070.75 469.87L1069.31 469.73L1067.87 469.57L1066.44 469.39L1065 469.25L1063.56 469.06L1062.13 468.88L1060.69 468.65L1059.26 468.42L1057.82 468.26ZM1057.82 468.26L1061.92 464.16L1066.02 468.26L1061.92 472.36ZM1391 472.27L1395.1 468.17L1399.2 472.27L1395.1 476.37Z" fill="#9400d3" fill-rule="nonzero"/>
</g>
<path d="M965.5 61.35V494.95M1395.2 61.35V494.95M965.5 63.6H1395.2" fill="none" stroke="#000" stroke-width="4.5"/>
<path d="M965.5 493H1395.2" fill="none" stroke="#000" stroke-width="3.9"/>
<text transform="translate(949.4 483.08) scale(0.928 1)" text-anchor="end" font-family="'Liberation Sans', sans-serif" font-size="33.5">0.0</text>
<text transform="translate(949.4 401.4) scale(0.928 1)" text-anchor="end" font-family="'Liberation Sans', sans-serif" font-size="33.5">0.2</text>
<text transform="translate(949.4 319.73) scale(0.928 1)" text-anchor="end" font-family="'Liberation Sans', sans-serif" font-size="33.5">0.4</text>
<text transform="translate(949.4 238.05) scale(0.928 1)" text-anchor="end" font-family="'Liberation Sans', sans-serif" font-size="33.5">0.6</text>
<text transform="translate(949.4 156.38) scale(0.928 1)" text-anchor="end" font-family="'Liberation Sans', sans-serif" font-size="33.5">0.8</text>
<text transform="translate(949.4 74.7) scale(0.928 1)" text-anchor="end" font-family="'Liberation Sans', sans-serif" font-size="33.5">1.0</text>
<text transform="translate(1112.48 532.4) scale(0.917 1)" text-anchor="middle" font-family="'Liberation Sans', sans-serif" font-size="36.0">100</text>
<text transform="translate(1256.09 532.4) scale(0.917 1)" text-anchor="middle" font-family="'Liberation Sans', sans-serif" font-size="36.0">200</text>
<text transform="translate(1399.7 532.4) scale(0.917 1)" text-anchor="middle" font-family="'Liberation Sans', sans-serif" font-size="36.0">300</text>
<path d="M1107.88 1030.9V1012.9M1251.49 1030.9V1012.9M1000.17 1030.9V1021.9M1036.07 1030.9V1021.9M1071.97 1030.9V1021.9M1143.78 1030.9V1021.9M1179.68 1030.9V1021.9M1215.58 1030.9V1021.9M1287.39 1030.9V1021.9M1323.29 1030.9V1021.9M1359.2 1030.9V1021.9M965.7 709H983.7M965.7 816.3H983.7M965.7 923.6H983.7M965.7 676.7H974.7M965.7 657.8H974.7M965.7 644.4H974.7M965.7 634H974.7M965.7 625.5H974.7M965.7 618.32H974.7M965.7 612.1H974.7M965.7 606.61H974.7M965.7 784H974.7M965.7 765.1H974.7M965.7 751.7H974.7M965.7 741.3H974.7M965.7 732.8H974.7M965.7 725.62H974.7M965.7 719.4H974.7M965.7 713.91H974.7M965.7 891.3H974.7M965.7 872.4H974.7M965.7 859H974.7M965.7 848.6H974.7M965.7 840.1H974.7M965.7 832.92H974.7M965.7 826.7H974.7M965.7 821.21H974.7M965.7 998.6H974.7M965.7 979.7H974.7M965.7 966.3H974.7M965.7 955.9H974.7M965.7 947.4H974.7M965.7 940.22H974.7M965.7 934H974.7M965.7 928.51H974.7" stroke="#000" stroke-width="1.9" fill="none"/>
<g clip-path="url(#clipd)">
<path clip-path="url(#lclipd)" d="M965.7 608.51L965.7 608.51" fill="none" stroke="#ff0000" stroke-width="1.2" stroke-linejoin="round"/>
<path d="M965.7 608.51L965.7 608.51" fill="none" stroke="none" marker-start="url(#mk_sq_ff0000)" marker-mid="url(#mk_sq_ff0000)" marker-end="url(#mk_sq_ff0000)"/>
<path clip-path="url(#lclipd)" d="M965.7 608.51L967.14 614.3L968.57 619.03L970.01 623.01L971.44 626.45L972.88 629.52L974.32 632.31L975.75 634.89L977.19 637.29L978.63 639.57L980.06 641.74L981.5 643.83L982.93 645.82L984.37 647.76L985.81 649.64L987.24 651.45L988.68 653.23L990.11 654.96L991.55 656.67L992.99 658.34L994.42 659.96L995.86 661.58L997.29 663.15L998.73 664.72L1000.17 666.25L1001.6 667.77L1003.04 669.31L1004.48 670.86L1005.91 672.43L1007.35 673.97L1008.78 675.54L1010.22 677.1L1011.66 678.68L1013.09 680.24L1014.53 681.83L1015.96 683.4L1017.4 684.96L1018.84 686.54L1020.27 688.09L1021.71 689.64L1023.14 691.14L1024.58 692.7L1026.02 694.2L1027.45 695.69L1028.89 697.19L1030.33 698.67L1031.76 700.07L1033.2 701.51L1034.63 702.88L1036.07 704.29L1037.51 705.6L1038.94 706.87L1040.38 708.16L1041.81 709.5L1043.25 710.78L1044.69 712.02L1046.12 713.27L1047.56 714.55L1048.99 715.81L1050.43 717.11L1051.87 718.32L1053.3 719.56L1054.74 720.86L1056.18 722.14L1057.61 723.36L1059.05 724.56L1060.48 725.89L1061.92 727.08L1063.36 728.35L1064.79 729.56L1066.23 730.8L1067.66 732.03L1069.1 733.21L1070.54 734.49L1071.97 735.69L1073.41 736.99L1074.85 738.24L1076.28 739.44L1077.72 740.82L1079.15 741.93L1080.59 743.16L1082.03 744.47L1083.46 745.62L1084.9 746.91L1086.33 748.25L1087.77 749.37L1089.21 750.65L1090.64 751.86L1092.08 753.08L1093.51 754.23L1094.95 755.53L1096.39 756.78L1097.82 757.98L1099.26 759.37L1100.7 760.39L1102.13 761.79L1103.57 762.91L1105 764.27L1106.44 765.49L1107.88 766.68L1109.31 767.72L1110.75 769.05L1112.18 770.39L1113.62 771.6L1115.06 772.91L1116.49 774.03L1117.93 775.32L1119.36 776.42L1120.8 777.86L1122.24 778.98L1123.67 780.26L1125.11 781.48L1126.55 782.54L1127.98 783.84L1129.42 785.01L1130.85 786.16L1132.29 787.39L1133.73 788.94L1135.16 789.91L1136.6 791.45L1138.03 792.45L1139.47 793.39L1140.91 794.92L1142.34 796.17L1143.78 797.31L1145.22 798.56L1146.65 799.78L1148.09 801.14L1149.52 802.05L1150.96 803.3L1152.4 804.72L1153.83 805.84L1155.27 807L1156.7 808.14L1158.14 809.49L1159.58 810.64L1161.01 812.06L1162.45 813.46L1163.88 814.55L1165.32 815.42L1166.76 816.64L1168.19 818.05L1169.63 819.44L1171.07 820.44L1172.5 821.29L1173.94 822.58L1175.37 824.34L1176.81 825.37L1178.25 826.99L1179.68 828.11L1181.12 828.92L1182.55 830.18L1183.99 831.08L1185.43 832.18L1186.86 833.51L1188.3 834.54L1189.73 836.39L1191.17 837.81L1192.61 838.4L1194.04 838.76L1195.48 840.83L1196.92 842.64L1198.35 843.26L1199.79 843.92L1201.22 846.12L1202.66 846.41L1204.1 848.14L1205.53 848.35L1206.97 849.64L1208.4 850.95L1209.84 851.19L1211.28 853.51L1212.71 854.8L1214.15 854.61L1215.58 857.31L1217.02 857.62L1218.46 859.88L1219.89 861.73L1221.33 863.78L1222.77 862.96L1224.2 866.54L1225.64 865.95L1227.07 867.01L1228.51 869.44L1229.95 871.89L1231.38 872.46L1232.82 873.7L1234.25 875.6L1235.69 878.48L1237.13 881.16L1238.56 883.37L1240 884.66L1241.44 885.71L1242.87 887.05L1244.31 886.81L1245.74 888.41L1247.18 890L1248.62 891.2L1250.05 891.16L1251.49 891.82L1252.92 893.86L1254.36 894.43L1255.8 895.97L1257.23 896.61L1258.67 897.6L1260.1 899.48L1261.54 903.69L1262.98 904.4L1264.41 905.75L1265.85 906.01L1267.29 904.9L1268.72 906.74L1270.16 909.12L1271.59 913.38L1273.03 916.08L1274.47 918.9L1275.9 919.79L1277.34 922.32L1278.77 921.25L1280.21 920.81L1281.65 922.13L1283.08 921.54L1284.52 921.91L1285.95 923.78L1287.39 925.67L1288.83 926.99L1290.26 929.37L1291.7 934.94L1293.14 937.89L1294.57 935.76L1296.01 935.85L1297.44 933.22L1298.88 934.98L1300.32 933.98L1301.75 936.69L1303.19 936.19L1304.62 937.51L1306.06 938.67L1307.5 940.72L1308.93 944.85L1310.37 947.85L1311.81 950.36L1313.24 949.65L1314.68 946.92L1316.11 946.35L1317.55 944.2L1318.99 944.13L1320.42 945.66L1321.86 950.13L1323.29 951.59L1324.73 954.25L1326.17 956.57L1327.6 958.03L1329.04 958.15L1330.47 962.36L1331.91 963.43L1333.35 967.49L1334.78 969.48L1336.22 972.95L1337.66 965.09L1339.09 958.93L1340.53 961.93L1341.96 963.82L1343.4 966.71L1344.84 966.77L1346.27 968.59L1347.71 968.87L1349.14 969.83L1350.58 972.88L1352.02 974.5L1353.45 989.3L1354.89 995.05L1356.32 998.65L1357.76 988.52L1359.2 991.46L1360.63 992.19L1362.07 995.54L1363.51 1015.01L1364.94 1002.77L1366.38 990.86L1367.81 993.66L1369.25 998.65L1370.69 1013.45L1372.12 1017.84L1373.56 1022.02L1374.99 1021.55L1376.43 1019.2L1377.87 1018.9L1379.3 993.98L1380.74 1000.53L1382.17 1008.78L1383.61 1000.21L1385.05 1004.84L1386.48 1006.52L1387.92 1010.33L1389.36 1106.01L1390.79 1106.01L1392.23 1106.01L1393.66 1106.01L1395.1 1106.01" fill="none" stroke="#ff0000" stroke-width="1.2" stroke-linejoin="round"/>
<path d="M965.7 608.51L967.14 614.3L968.57 619.03L970.01 623.01L971.44 626.45L972.88 629.52L974.32 632.31L975.75 634.89L977.19 637.29L978.63 639.57L980.06 641.74L981.5 643.83L982.93 645.82L984.37 647.76L985.81 649.64L987.24 651.45L988.68 653.23L990.11 654.96L991.55 656.67L992.99 658.34L994.42 659.96L995.86 661.58L997.29 663.15L998.73 664.72L1000.17 666.25L1001.6 667.77L1003.04 669.31L1004.48 670.86L1005.91 672.43L1007.35 673.97L1008.78 675.54L1010.22 677.1L1011.66 678.68L1013.09 680.24L1014.53 681.83L1015.96 683.4L1017.4 684.96L1018.84 686.54L1020.27 688.09L1021.71 689.64L1023.14 691.14L1024.58 692.7L1026.02 694.2L1027.45 695.69L1028.89 697.19L1030.33 698.67L1031.76 700.07L1033.2 701.51L1034.63 702.88L1036.07 704.29L1037.51 705.6L1038.94 706.87L1040.38 708.16L1041.81 709.5L1043.25 710.78L1044.69 712.02L1046.12 713.27L1047.56 714.55L1048.99 715.81L1050.43 717.11L1051.87 718.32L1053.3 719.56L1054.74 720.86L1056.18 722.14L1057.61 723.36L1059.05 724.56L1060.48 725.89L1061.92 727.08L1063.36 728.35L1064.79 729.56L1066.23 730.8L1067.66 732.03L1069.1 733.21L1070.54 734.49L1071.97 735.69L1073.41 736.99L1074.85 738.24L1076.28 739.44L1077.72 740.82L1079.15 741.93L1080.59 743.16L1082.03 744.47L1083.46 745.62L1084.9 746.91L1086.33 748.25L1087.77 749.37L1089.21 750.65L1090.64 751.86L1092.08 753.08L1093.51 754.23L1094.95 755.53L1096.39 756.78L1097.82 757.98L1099.26 759.37L1100.7 760.39L1102.13 761.79L1103.57 762.91L1105 764.27L1106.44 765.49L1107.88 766.68L1109.31 767.72L1110.75 769.05L1112.18 770.39L1113.62 771.6L1115.06 772.91L1116.49 774.03L1117.93 775.32L1119.36 776.42L1120.8 777.86L1122.24 778.98L1123.67 780.26L1125.11 781.48L1126.55 782.54L1127.98 783.84L1129.42 785.01L1130.85 786.16L1132.29 787.39L1133.73 788.94L1135.16 789.91L1136.6 791.45L1138.03 792.45L1139.47 793.39L1140.91 794.92L1142.34 796.17L1143.78 797.31L1145.22 798.56L1146.65 799.78L1148.09 801.14L1149.52 802.05L1150.96 803.3L1152.4 804.72L1153.83 805.84L1155.27 807L1156.7 808.14L1158.14 809.49L1159.58 810.64L1161.01 812.06L1162.45 813.46L1163.88 814.55L1165.32 815.42L1166.76 816.64L1168.19 818.05L1169.63 819.44L1171.07 820.44L1172.5 821.29L1173.94 822.58L1175.37 824.34L1176.81 825.37L1178.25 826.99L1179.68 828.11L1181.12 828.92L1182.55 830.18L1183.99 831.08L1185.43 832.18L1186.86 833.51L1188.3 834.54L1189.73 836.39L1191.17 837.81L1192.61 838.4L1194.04 838.76L1195.48 840.83L1196.92 842.64L1198.35 843.26L1199.79 843.92L1201.22 846.12L1202.66 846.41L1204.1 848.14L1205.53 848.35L1206.97 849.64L1208.4 850.95L1209.84 851.19L1211.28 853.51L1212.71 854.8L1214.15 854.61L1215.58 857.31L1217.02 857.62L1218.46 859.88L1219.89 861.73L1221.33 863.78L1222.77 862.96L1224.2 866.54L1225.64 865.95L1227.07 867.01L1228.51 869.44L1229.95 871.89L1231.38 872.46L1232.82 873.7L1234.25 875.6L1235.69 878.48L1237.13 881.16L1238.56 883.37L1240 884.66L1241.44 885.71L1242.87 887.05L1244.31 886.81L1245.74 888.41L1247.18 890L1248.62 891.2L1250.05 891.16L1251.49 891.82L1252.92 893.86L1254.36 894.43L1255.8 895.97L1257.23 896.61L1258.67 897.6L1260.1 899.48L1261.54 903.69L1262.98 904.4L1264.41 905.75L1265.85 906.01L1267.29 904.9L1268.72 906.74L1270.16 909.12L1271.59 913.38L1273.03 916.08L1274.47 918.9L1275.9 919.79L1277.34 922.32L1278.77 921.25L1280.21 920.81L1281.65 922.13L1283.08 921.54L1284.52 921.91L1285.95 923.78L1287.39 925.67L1288.83 926.99L1290.26 929.37L1291.7 934.94L1293.14 937.89L1294.57 935.76L1296.01 935.85L1297.44 933.22L1298.88 934.98L1300.32 933.98L1301.75 936.69L1303.19 936.19L1304.62 937.51L1306.06 938.67L1307.5 940.72L1308.93 944.85L1310.37 947.85L1311.81 950.36L1313.24 949.65L1314.68 946.92L1316.11 946.35L1317.55 944.2L1318.99 944.13L1320.42 945.66L1321.86 950.13L1323.29 951.59L1324.73 954.25L1326.17 956.57L1327.6 958.03L1329.04 958.15L1330.47 962.36L1331.91 963.43L1333.35 967.49L1334.78 969.48L1336.22 972.95L1337.66 965.09L1339.09 958.93L1340.53 961.93L1341.96 963.82L1343.4 966.71L1344.84 966.77L1346.27 968.59L1347.71 968.87L1349.14 969.83L1350.58 972.88L1352.02 974.5L1353.45 989.3L1354.89 995.05L1356.32 998.65L1357.76 988.52L1359.2 991.46L1360.63 992.19L1362.07 995.54L1363.51 1015.01L1364.94 1002.77L1366.38 990.86L1367.81 993.66L1369.25 998.65L1370.69 1013.45L1372.12 1017.84L1373.56 1022.02L1374.99 1021.55L1376.43 1019.2L1377.87 1018.9L1379.3 993.98L1380.74 1000.53L1382.17 1008.78L1383.61 1000.21L1385.05 1004.84L1386.48 1006.52L1387.92 1010.33L1389.36 1106.01L1390.79 1106.01L1392.23 1106.01L1393.66 1106.01L1395.1 1106.01" fill="none" stroke="none" marker-start="url(#mk_sq_ff0000)" marker-mid="url(#mk_sq_ff0000)" marker-end="url(#mk_sq_ff0000)"/>
</g>
<g clip-path="url(#clipd)">
<path clip-path="url(#lclipd)" d="M965.7 609.07L965.7 609.07" fill="none" stroke="#0000ff" stroke-width="1.2" stroke-linejoin="round"/>
<path d="M965.7 609.07L965.7 609.07" fill="none" stroke="none" marker-start="url(#mk_ci_0000ff)" marker-mid="url(#mk_ci_0000ff)" marker-end="url(#mk_ci_0000ff)"/>
<path clip-path="url(#lclipd)" d="M965.7 609.07L967.14 615.6L968.57 620.74L970.01 625.16L971.44 629.14L972.88 632.85L974.32 636.34L975.75 639.66L977.19 642.85L978.63 645.91L980.06 648.87L981.5 651.75L982.93 654.54L984.37 657.26L985.81 659.92L987.24 662.55L988.68 665.07L990.11 667.6L991.55 670.08L992.99 672.51L994.42 674.92L995.86 677.32L997.29 679.71L998.73 682.07L1000.17 684.44L1001.6 686.75L1003.04 689.12L1004.48 691.43L1005.91 693.75L1007.35 696.06L1008.78 698.37L1010.22 700.66L1011.66 703.03L1013.09 705.26L1014.53 707.55L1015.96 709.84L1017.4 712.08L1018.84 714.41L1020.27 716.66L1021.71 718.97L1023.14 721.17L1024.58 723.48L1026.02 725.73L1027.45 727.86L1028.89 730.15L1030.33 732.4L1031.76 734.62L1033.2 736.9L1034.63 739.1L1036.07 741.25L1037.51 743.55L1038.94 745.64L1040.38 747.91L1041.81 750.01L1043.25 752.25L1044.69 754.29L1046.12 756.5L1047.56 758.75L1048.99 761L1050.43 763.11L1051.87 765.24L1053.3 767.46L1054.74 769.54L1056.18 771.65L1057.61 773.89L1059.05 776.08L1060.48 778.13L1061.92 780.38L1063.36 782.43L1064.79 784.69L1066.23 786.64L1067.66 788.98L1069.1 791.21L1070.54 793.22L1071.97 795.45L1073.41 797.63L1074.85 799.66L1076.28 801.68L1077.72 804.23L1079.15 806.05L1080.59 808.19L1082.03 810.31L1083.46 812.27L1084.9 814.77L1086.33 816.52L1087.77 818.81L1089.21 820.85L1090.64 823.03L1092.08 825.16L1093.51 827.32L1094.95 829.19L1096.39 830.84L1097.82 833.2L1099.26 835.33L1100.7 837.5L1102.13 839.9L1103.57 841.64L1105 843.21L1106.44 846.46L1107.88 847.76L1109.31 849.74L1110.75 852.06L1112.18 853.87L1113.62 855.6L1115.06 857.19L1116.49 859.57L1117.93 861.33L1119.36 863.94L1120.8 865.61L1122.24 867.9L1123.67 869.76L1125.11 872.14L1126.55 873.33L1127.98 874.71L1129.42 877.7L1130.85 879.31L1132.29 880.93L1133.73 883.29L1135.16 884.44L1136.6 886.9L1138.03 890.09L1139.47 891.92L1140.91 892.16L1142.34 894.16L1143.78 895.58L1145.22 898.4L1146.65 900.4L1148.09 904.53L1149.52 902.87L1150.96 907.8L1152.4 907.18L1153.83 911.6L1155.27 915.23L1156.7 917.1L1158.14 920.98L1159.58 923.5L1161.01 927.76L1162.45 930.11L1163.88 932.24L1165.32 936.44L1166.76 942.38L1168.19 946.18L1169.63 951.65L1171.07 956.36L1172.5 959.7L1173.94 964.04L1175.37 965.33L1176.81 970.52L1178.25 973.28L1179.68 970.69L1181.12 968.84L1182.55 966.31L1183.99 969.54L1185.43 970.29L1186.86 983.24L1188.3 987.4L1189.73 992.79L1191.17 996.18L1192.61 993.84L1194.04 989.21L1195.48 1002.15L1196.92 1003.54L1198.35 1003.39L1199.79 1002.7L1201.22 991.6L1202.66 995.84L1204.1 997.65L1205.53 1001.2L1206.97 1000.18L1208.4 997.95L1209.84 998.2L1211.28 994.08L1212.71 992.2L1214.15 984.93L1215.58 980.2L1217.02 982.56L1218.46 983.68L1219.89 985.2L1221.33 996.2L1222.77 1000.2L1224.2 1019L1225.64 1106.01L1227.07 1106.01L1228.51 1106.01L1229.95 1106.01L1231.38 1025L1232.82 1024L1234.25 1016.89L1235.69 1008.5L1237.13 1024.7L1238.56 1106.01L1240 1106.01L1241.44 1106.01L1242.87 1106.01L1244.31 1106.01L1245.74 1106.01L1247.18 1106.01L1248.62 1106.01L1250.05 1106.01L1251.49 1106.01L1252.92 1106.01L1254.36 1106.01L1255.8 1106.01L1257.23 1106.01L1258.67 1106.01L1260.1 1106.01L1261.54 1106.01L1262.98 1106.01L1264.41 1106.01L1265.85 1106.01L1267.29 1106.01L1268.72 1106.01L1270.16 1106.01L1271.59 1106.01L1273.03 1023.6L1274.47 1021.02L1275.9 1018.9L1277.34 1025.1L1278.77 1027.5L1280.21 1018.58L1281.65 1010.3L1283.08 1014.63L1284.52 1020.5L1285.95 1022.8L1287.39 1010.56L1288.83 999.4L1290.26 994L1291.7 1001L1293.14 1009.6L1294.57 1000.08L1296.01 989.3L1297.44 984.6L1298.88 987.7L1300.32 1020.5L1301.75 1014.2L1303.19 1015.8L1304.62 1019.1L1306.06 1022L1307.5 1003.3L1308.93 1022.8L1310.37 1106.01L1311.81 1106.01L1313.24 1106.01L1314.68 1106.01L1316.11 1106.01L1317.55 1106.01L1318.99 1106.01L1320.42 1106.01L1321.86 1106.01L1323.29 1013.4L1324.73 1008.8L1326.17 1006.4L1327.6 1011.43L1329.04 1016.6L1330.47 1003.3L1331.91 1016.6L1333.35 1106.01L1334.78 1106.01L1336.22 1106.01L1337.66 1106.01L1339.09 1106.01L1340.53 1106.01L1341.96 1106.01L1343.4 1106.01L1344.84 1106.01L1346.27 1106.01L1347.71 1106.01L1349.14 1106.01L1350.58 1106.01L1352.02 1106.01L1353.45 1106.01L1354.89 1106.01L1356.32 1106.01L1357.76 1106.01L1359.2 1106.01L1360.63 1106.01L1362.07 1106.01L1363.51 1106.01L1364.94 1106.01L1366.38 1106.01L1367.81 1106.01L1369.25 1106.01L1370.69 1106.01L1372.12 1106.01L1373.56 1106.01L1374.99 1106.01L1376.43 1106.01L1377.87 1106.01L1379.3 1106.01L1380.74 1106.01L1382.17 1106.01L1383.61 1106.01L1385.05 1106.01L1386.48 1106.01L1387.92 1106.01L1389.36 1106.01L1390.79 1106.01L1392.23 1106.01L1393.66 1106.01L1395.1 1106.01" fill="none" stroke="#0000ff" stroke-width="1.2" stroke-linejoin="round"/>
<path d="M965.7 609.07L967.14 615.6L968.57 620.74L970.01 625.16L971.44 629.14L972.88 632.85L974.32 636.34L975.75 639.66L977.19 642.85L978.63 645.91L980.06 648.87L981.5 651.75L982.93 654.54L984.37 657.26L985.81 659.92L987.24 662.55L988.68 665.07L990.11 667.6L991.55 670.08L992.99 672.51L994.42 674.92L995.86 677.32L997.29 679.71L998.73 682.07L1000.17 684.44L1001.6 686.75L1003.04 689.12L1004.48 691.43L1005.91 693.75L1007.35 696.06L1008.78 698.37L1010.22 700.66L1011.66 703.03L1013.09 705.26L1014.53 707.55L1015.96 709.84L1017.4 712.08L1018.84 714.41L1020.27 716.66L1021.71 718.97L1023.14 721.17L1024.58 723.48L1026.02 725.73L1027.45 727.86L1028.89 730.15L1030.33 732.4L1031.76 734.62L1033.2 736.9L1034.63 739.1L1036.07 741.25L1037.51 743.55L1038.94 745.64L1040.38 747.91L1041.81 750.01L1043.25 752.25L1044.69 754.29L1046.12 756.5L1047.56 758.75L1048.99 761L1050.43 763.11L1051.87 765.24L1053.3 767.46L1054.74 769.54L1056.18 771.65L1057.61 773.89L1059.05 776.08L1060.48 778.13L1061.92 780.38L1063.36 782.43L1064.79 784.69L1066.23 786.64L1067.66 788.98L1069.1 791.21L1070.54 793.22L1071.97 795.45L1073.41 797.63L1074.85 799.66L1076.28 801.68L1077.72 804.23L1079.15 806.05L1080.59 808.19L1082.03 810.31L1083.46 812.27L1084.9 814.77L1086.33 816.52L1087.77 818.81L1089.21 820.85L1090.64 823.03L1092.08 825.16L1093.51 827.32L1094.95 829.19L1096.39 830.84L1097.82 833.2L1099.26 835.33L1100.7 837.5L1102.13 839.9L1103.57 841.64L1105 843.21L1106.44 846.46L1107.88 847.76L1109.31 849.74L1110.75 852.06L1112.18 853.87L1113.62 855.6L1115.06 857.19L1116.49 859.57L1117.93 861.33L1119.36 863.94L1120.8 865.61L1122.24 867.9L1123.67 869.76L1125.11 872.14L1126.55 873.33L1127.98 874.71L1129.42 877.7L1130.85 879.31L1132.29 880.93L1133.73 883.29L1135.16 884.44L1136.6 886.9L1138.03 890.09L1139.47 891.92L1140.91 892.16L1142.34 894.16L1143.78 895.58L1145.22 898.4L1146.65 900.4L1148.09 904.53L1149.52 902.87L1150.96 907.8L1152.4 907.18L1153.83 911.6L1155.27 915.23L1156.7 917.1L1158.14 920.98L1159.58 923.5L1161.01 927.76L1162.45 930.11L1163.88 932.24L1165.32 936.44L1166.76 942.38L1168.19 946.18L1169.63 951.65L1171.07 956.36L1172.5 959.7L1173.94 964.04L1175.37 965.33L1176.81 970.52L1178.25 973.28L1179.68 970.69L1181.12 968.84L1182.55 966.31L1183.99 969.54L1185.43 970.29L1186.86 983.24L1188.3 987.4L1189.73 992.79L1191.17 996.18L1192.61 993.84L1194.04 989.21L1195.48 1002.15L1196.92 1003.54L1198.35 1003.39L1199.79 1002.7L1201.22 991.6L1202.66 995.84L1204.1 997.65L1205.53 1001.2L1206.97 1000.18L1208.4 997.95L1209.84 998.2L1211.28 994.08L1212.71 992.2L1214.15 984.93L1215.58 980.2L1217.02 982.56L1218.46 983.68L1219.89 985.2L1221.33 996.2L1222.77 1000.2L1224.2 1019L1225.64 1106.01L1227.07 1106.01L1228.51 1106.01L1229.95 1106.01L1231.38 1025L1232.82 1024L1234.25 1016.89L1235.69 1008.5L1237.13 1024.7L1238.56 1106.01L1240 1106.01L1241.44 1106.01L1242.87 1106.01L1244.31 1106.01L1245.74 1106.01L1247.18 1106.01L1248.62 1106.01L1250.05 1106.01L1251.49 1106.01L1252.92 1106.01L1254.36 1106.01L1255.8 1106.01L1257.23 1106.01L1258.67 1106.01L1260.1 1106.01L1261.54 1106.01L1262.98 1106.01L1264.41 1106.01L1265.85 1106.01L1267.29 1106.01L1268.72 1106.01L1270.16 1106.01L1271.59 1106.01L1273.03 1023.6L1274.47 1021.02L1275.9 1018.9L1277.34 1025.1L1278.77 1027.5L1280.21 1018.58L1281.65 1010.3L1283.08 1014.63L1284.52 1020.5L1285.95 1022.8L1287.39 1010.56L1288.83 999.4L1290.26 994L1291.7 1001L1293.14 1009.6L1294.57 1000.08L1296.01 989.3L1297.44 984.6L1298.88 987.7L1300.32 1020.5L1301.75 1014.2L1303.19 1015.8L1304.62 1019.1L1306.06 1022L1307.5 1003.3L1308.93 1022.8L1310.37 1106.01L1311.81 1106.01L1313.24 1106.01L1314.68 1106.01L1316.11 1106.01L1317.55 1106.01L1318.99 1106.01L1320.42 1106.01L1321.86 1106.01L1323.29 1013.4L1324.73 1008.8L1326.17 1006.4L1327.6 1011.43L1329.04 1016.6L1330.47 1003.3L1331.91 1016.6L1333.35 1106.01L1334.78 1106.01L1336.22 1106.01L1337.66 1106.01L1339.09 1106.01L1340.53 1106.01L1341.96 1106.01L1343.4 1106.01L1344.84 1106.01L1346.27 1106.01L1347.71 1106.01L1349.14 1106.01L1350.58 1106.01L1352.02 1106.01L1353.45 1106.01L1354.89 1106.01L1356.32 1106.01L1357.76 1106.01L1359.2 1106.01L1360.63 1106.01L1362.07 1106.01L1363.51 1106.01L1364.94 1106.01L1366.38 1106.01L1367.81 1106.01L1369.25 1106.01L1370.69 1106.01L1372.12 1106.01L1373.56 1106.01L1374.99 1106.01L1376.43 1106.01L1377.87 1106.01L1379.3 1106.01L1380.74 1106.01L1382.17 1106.01L1383.61 1106.01L1385.05 1106.01L1386.48 1106.01L1387.92 1106.01L1389.36 1106.01L1390.79 1106.01L1392.23 1106.01L1393.66 1106.01L1395.1 1106.01" fill="none" stroke="none" marker-start="url(#mk_ci_0000ff)" marker-mid="url(#mk_ci_0000ff)" marker-end="url(#mk_ci_0000ff)"/>
</g>
<g clip-path="url(#clipd)">
<path clip-path="url(#lclipd)" d="M965.7 609.37L965.7 609.37" fill="none" stroke="#9400d3" stroke-width="1.2" stroke-linejoin="round"/>
<path d="M965.7 609.37L965.7 609.37" fill="none" stroke="none" marker-start="url(#mk_di_9400d3)" marker-mid="url(#mk_di_9400d3)" marker-end="url(#mk_di_9400d3)"/>
<path clip-path="url(#lclipd)" d="M965.7 609.37L967.14 616.45L968.57 622.18L970.01 627.04L971.44 631.39L972.88 635.41L974.32 639.21L975.75 642.9L977.19 646.48L978.63 649.99L980.06 653.44L981.5 656.84L982.93 660.2L984.37 663.53L985.81 666.81L987.24 670.07L988.68 673.29L990.11 676.49L991.55 679.66L992.99 682.78L994.42 685.89L995.86 688.96L997.29 691.99L998.73 695.01L1000.17 697.96L1001.6 700.9L1003.04 703.8L1004.48 706.72L1005.91 709.58L1007.35 712.46L1008.78 715.26L1010.22 718.1L1011.66 720.88L1013.09 723.59L1014.53 726.45L1015.96 729.12L1017.4 731.87L1018.84 734.63L1020.27 737.33L1021.71 740.05L1023.14 742.75L1024.58 745.51L1026.02 748.24L1027.45 750.96L1028.89 753.69L1030.33 756.37L1031.76 759.13L1033.2 761.75L1034.63 764.66L1036.07 767.36L1037.51 770.11L1038.94 772.95L1040.38 775.42L1041.81 778.52L1043.25 781.1L1044.69 783.88L1046.12 786.41L1047.56 789.52L1048.99 791.94L1050.43 794.88L1051.87 797.54L1053.3 800.34L1054.74 802.89L1056.18 805.87L1057.61 808.43L1059.05 811.08L1060.48 813.53L1061.92 817.01L1063.36 818.97L1064.79 821.77L1066.23 824.78L1067.66 827.3L1069.1 830.19L1070.54 832.33L1071.97 835.4L1073.41 838.22L1074.85 840.91L1076.28 843.59L1077.72 846.27L1079.15 849.22L1080.59 850.78L1082.03 855.13L1083.46 858.72L1084.9 859.93L1086.33 862.75L1087.77 865.31L1089.21 868.47L1090.64 871.29L1092.08 873.85L1093.51 876.26L1094.95 880.11L1096.39 882.92L1097.82 883.9L1099.26 887.84L1100.7 892.04L1102.13 891.66L1103.57 895.86L1105 900.05L1106.44 903.49L1107.88 904.38L1109.31 905.58L1110.75 908.2L1112.18 911.31L1113.62 914.39L1115.06 917.53L1116.49 920.7L1117.93 924.5L1119.36 924.03L1120.8 925.81L1122.24 926.49L1123.67 930.65L1125.11 934.45L1126.55 935.63L1127.98 938.61L1129.42 940.19L1130.85 941.42L1132.29 938.2L1133.73 937.44L1135.16 939.38L1136.6 941.42L1138.03 951.38L1139.47 952L1140.91 954.13L1142.34 953.84L1143.78 954.36L1145.22 962.93L1146.65 974.28L1148.09 976.56L1149.52 979.26L1150.96 987.22L1152.4 992.94L1153.83 996.18L1155.27 991.2L1156.7 987.92L1158.14 985.23L1159.58 979.91L1161.01 975.27L1162.45 972.92L1163.88 968.3L1165.32 962.93L1166.76 966.28L1168.19 970.29L1169.63 973.87L1171.07 977.26L1172.5 972.49L1173.94 969.01L1175.37 964.32L1176.81 966.28L1178.25 969.3L1179.68 980.25L1181.12 1002.75L1182.55 1106.01L1183.99 1020.67L1185.43 1106.01L1186.86 1106.01L1188.3 1106.01L1189.73 1106.01L1191.17 1106.01L1192.61 1028.04L1194.04 1106.01L1195.48 1106.01L1196.92 1106.01L1198.35 1106.01L1199.79 1106.01L1201.22 1106.01L1202.66 1106.01L1204.1 1106.01L1205.53 1106.01L1206.97 1106.01L1208.4 1106.01L1209.84 1106.01L1211.28 1106.01L1212.71 1106.01L1214.15 1106.01L1215.58 1106.01L1217.02 1106.01L1218.46 1106.01L1219.89 1106.01L1221.33 1106.01L1222.77 1106.01L1224.2 1106.01L1225.64 1106.01L1227.07 1106.01L1228.51 1106.01L1229.95 1106.01L1231.38 1106.01L1232.82 1106.01L1234.25 1106.01L1235.69 1106.01L1237.13 1106.01L1238.56 1106.01L1240 1106.01L1241.44 1106.01L1242.87 1106.01L1244.31 1106.01L1245.74 1106.01L1247.18 1106.01L1248.62 1106.01L1250.05 1106.01L1251.49 1106.01L1252.92 1106.01L1254.36 1106.01L1255.8 1106.01L1257.23 1106.01L1258.67 1106.01L1260.1 1106.01L1261.54 1106.01L1262.98 1106.01L1264.41 1106.01L1265.85 1106.01L1267.29 1106.01L1268.72 1106.01L1270.16 1106.01L1271.59 1106.01L1273.03 1106.01L1274.47 1106.01L1275.9 1106.01L1277.34 1106.01L1278.77 1106.01L1280.21 1106.01L1281.65 1106.01L1283.08 1106.01L1284.52 1106.01L1285.95 1106.01L1287.39 1106.01L1288.83 1106.01L1290.26 1012.67L1291.7 1001.77L1293.14 1014.23L1294.57 1025.91L1296.01 1024.33L1297.44 1025.2L1298.88 1024.12L1300.32 1022.02L1301.75 1023.9L1303.19 1025.5L1304.62 1029.67L1306.06 1031.37L1307.5 1021.24L1308.93 1106.01L1310.37 1106.01L1311.81 1106.01L1313.24 1106.01L1314.68 1106.01L1316.11 1106.01L1317.55 1106.01L1318.99 1106.01L1320.42 1106.01L1321.86 1106.01L1323.29 1106.01L1324.73 1106.01L1326.17 1106.01L1327.6 1106.01L1329.04 1106.01L1330.47 1106.01L1331.91 1106.01L1333.35 1106.01L1334.78 1106.01L1336.22 1106.01L1337.66 1106.01L1339.09 1106.01L1340.53 1106.01L1341.96 1106.01L1343.4 1106.01L1344.84 1106.01L1346.27 1106.01L1347.71 1106.01L1349.14 1106.01L1350.58 1020.15L1352.02 1014.19L1353.45 1008L1354.89 999.97L1356.32 992.42L1357.76 992.42L1359.2 1003.32L1360.63 1011.11L1362.07 1009.24L1363.51 1006.44L1364.94 1106.01L1366.38 1106.01L1367.81 1106.01L1369.25 1106.01L1370.69 1106.01L1372.12 1106.01L1373.56 1106.01L1374.99 1106.01L1376.43 1106.01L1377.87 1106.01L1379.3 1106.01L1380.74 1106.01L1382.17 1106.01L1383.61 1106.01L1385.05 1106.01L1386.48 1106.01L1387.92 1106.01L1389.36 1106.01L1390.79 1106.01L1392.23 1106.01L1393.66 1106.01L1395.1 1106.01" fill="none" stroke="#9400d3" stroke-width="1.2" stroke-linejoin="round"/>
<path d="M965.7 609.37L967.14 616.45L968.57 622.18L970.01 627.04L971.44 631.39L972.88 635.41L974.32 639.21L975.75 642.9L977.19 646.48L978.63 649.99L980.06 653.44L981.5 656.84L982.93 660.2L984.37 663.53L985.81 666.81L987.24 670.07L988.68 673.29L990.11 676.49L991.55 679.66L992.99 682.78L994.42 685.89L995.86 688.96L997.29 691.99L998.73 695.01L1000.17 697.96L1001.6 700.9L1003.04 703.8L1004.48 706.72L1005.91 709.58L1007.35 712.46L1008.78 715.26L1010.22 718.1L1011.66 720.88L1013.09 723.59L1014.53 726.45L1015.96 729.12L1017.4 731.87L1018.84 734.63L1020.27 737.33L1021.71 740.05L1023.14 742.75L1024.58 745.51L1026.02 748.24L1027.45 750.96L1028.89 753.69L1030.33 756.37L1031.76 759.13L1033.2 761.75L1034.63 764.66L1036.07 767.36L1037.51 770.11L1038.94 772.95L1040.38 775.42L1041.81 778.52L1043.25 781.1L1044.69 783.88L1046.12 786.41L1047.56 789.52L1048.99 791.94L1050.43 794.88L1051.87 797.54L1053.3 800.34L1054.74 802.89L1056.18 805.87L1057.61 808.43L1059.05 811.08L1060.48 813.53L1061.92 817.01L1063.36 818.97L1064.79 821.77L1066.23 824.78L1067.66 827.3L1069.1 830.19L1070.54 832.33L1071.97 835.4L1073.41 838.22L1074.85 840.91L1076.28 843.59L1077.72 846.27L1079.15 849.22L1080.59 850.78L1082.03 855.13L1083.46 858.72L1084.9 859.93L1086.33 862.75L1087.77 865.31L1089.21 868.47L1090.64 871.29L1092.08 873.85L1093.51 876.26L1094.95 880.11L1096.39 882.92L1097.82 883.9L1099.26 887.84L1100.7 892.04L1102.13 891.66L1103.57 895.86L1105 900.05L1106.44 903.49L1107.88 904.38L1109.31 905.58L1110.75 908.2L1112.18 911.31L1113.62 914.39L1115.06 917.53L1116.49 920.7L1117.93 924.5L1119.36 924.03L1120.8 925.81L1122.24 926.49L1123.67 930.65L1125.11 934.45L1126.55 935.63L1127.98 938.61L1129.42 940.19L1130.85 941.42L1132.29 938.2L1133.73 937.44L1135.16 939.38L1136.6 941.42L1138.03 951.38L1139.47 952L1140.91 954.13L1142.34 953.84L1143.78 954.36L1145.22 962.93L1146.65 974.28L1148.09 976.56L1149.52 979.26L1150.96 987.22L1152.4 992.94L1153.83 996.18L1155.27 991.2L1156.7 987.92L1158.14 985.23L1159.58 979.91L1161.01 975.27L1162.45 972.92L1163.88 968.3L1165.32 962.93L1166.76 966.28L1168.19 970.29L1169.63 973.87L1171.07 977.26L1172.5 972.49L1173.94 969.01L1175.37 964.32L1176.81 966.28L1178.25 969.3L1179.68 980.25L1181.12 1002.75L1182.55 1106.01L1183.99 1020.67L1185.43 1106.01L1186.86 1106.01L1188.3 1106.01L1189.73 1106.01L1191.17 1106.01L1192.61 1028.04L1194.04 1106.01L1195.48 1106.01L1196.92 1106.01L1198.35 1106.01L1199.79 1106.01L1201.22 1106.01L1202.66 1106.01L1204.1 1106.01L1205.53 1106.01L1206.97 1106.01L1208.4 1106.01L1209.84 1106.01L1211.28 1106.01L1212.71 1106.01L1214.15 1106.01L1215.58 1106.01L1217.02 1106.01L1218.46 1106.01L1219.89 1106.01L1221.33 1106.01L1222.77 1106.01L1224.2 1106.01L1225.64 1106.01L1227.07 1106.01L1228.51 1106.01L1229.95 1106.01L1231.38 1106.01L1232.82 1106.01L1234.25 1106.01L1235.69 1106.01L1237.13 1106.01L1238.56 1106.01L1240 1106.01L1241.44 1106.01L1242.87 1106.01L1244.31 1106.01L1245.74 1106.01L1247.18 1106.01L1248.62 1106.01L1250.05 1106.01L1251.49 1106.01L1252.92 1106.01L1254.36 1106.01L1255.8 1106.01L1257.23 1106.01L1258.67 1106.01L1260.1 1106.01L1261.54 1106.01L1262.98 1106.01L1264.41 1106.01L1265.85 1106.01L1267.29 1106.01L1268.72 1106.01L1270.16 1106.01L1271.59 1106.01L1273.03 1106.01L1274.47 1106.01L1275.9 1106.01L1277.34 1106.01L1278.77 1106.01L1280.21 1106.01L1281.65 1106.01L1283.08 1106.01L1284.52 1106.01L1285.95 1106.01L1287.39 1106.01L1288.83 1106.01L1290.26 1012.67L1291.7 1001.77L1293.14 1014.23L1294.57 1025.91L1296.01 1024.33L1297.44 1025.2L1298.88 1024.12L1300.32 1022.02L1301.75 1023.9L1303.19 1025.5L1304.62 1029.67L1306.06 1031.37L1307.5 1021.24L1308.93 1106.01L1310.37 1106.01L1311.81 1106.01L1313.24 1106.01L1314.68 1106.01L1316.11 1106.01L1317.55 1106.01L1318.99 1106.01L1320.42 1106.01L1321.86 1106.01L1323.29 1106.01L1324.73 1106.01L1326.17 1106.01L1327.6 1106.01L1329.04 1106.01L1330.47 1106.01L1331.91 1106.01L1333.35 1106.01L1334.78 1106.01L1336.22 1106.01L1337.66 1106.01L1339.09 1106.01L1340.53 1106.01L1341.96 1106.01L1343.4 1106.01L1344.84 1106.01L1346.27 1106.01L1347.71 1106.01L1349.14 1106.01L1350.58 1020.15L1352.02 1014.19L1353.45 1008L1354.89 999.97L1356.32 992.42L1357.76 992.42L1359.2 1003.32L1360.63 1011.11L1362.07 1009.24L1363.51 1006.44L1364.94 1106.01L1366.38 1106.01L1367.81 1106.01L1369.25 1106.01L1370.69 1106.01L1372.12 1106.01L1373.56 1106.01L1374.99 1106.01L1376.43 1106.01L1377.87 1106.01L1379.3 1106.01L1380.74 1106.01L1382.17 1106.01L1383.61 1106.01L1385.05 1106.01L1386.48 1106.01L1387.92 1106.01L1389.36 1106.01L1390.79 1106.01L1392.23 1106.01L1393.66 1106.01L1395.1 1106.01" fill="none" stroke="none" marker-start="url(#mk_di_9400d3)" marker-mid="url(#mk_di_9400d3)" marker-end="url(#mk_di_9400d3)"/>
</g>
<path d="M965.5 599.15V1033.15M1395.2 599.15V1033.15M965.5 601.4H1395.2" fill="none" stroke="#000" stroke-width="4.5"/>
<path d="M965.5 1031.2H1395.2" fill="none" stroke="#000" stroke-width="3.9"/>
<text transform="translate(949.4 611.5) scale(0.928 1)" text-anchor="end" font-family="'Liberation Sans', sans-serif" font-size="33.5">1.0000</text>
<text transform="translate(949.4 719.8) scale(0.928 1)" text-anchor="end" font-family="'Liberation Sans', sans-serif" font-size="33.5">0.1000</text>
<text transform="translate(949.4 827.1) scale(0.928 1)" text-anchor="end" font-family="'Liberation Sans', sans-serif" font-size="33.5">0.0100</text>
<text transform="translate(949.4 934.4) scale(0.928 1)" text-anchor="end" font-family="'Liberation Sans', sans-serif" font-size="33.5">0.0010</text>
<text transform="translate(949.4 1040.7) scale(0.928 1)" text-anchor="end" font-family="'Liberation Sans', sans-serif" font-size="33.5">0.0001</text>
<text transform="translate(1112.48 1070.1) scale(0.917 1)" text-anchor="middle" font-family="'Liberation Sans', sans-serif" font-size="36.0">100</text>
<text transform="translate(1256.09 1070.1) scale(0.917 1)" text-anchor="middle" font-family="'Liberation Sans', sans-serif" font-size="36.0">200</text>
<text transform="translate(1399.7 1070.1) scale(0.917 1)" text-anchor="middle" font-family="'Liberation Sans', sans-serif" font-size="36.0">300</text>
<text class="s" x="290.4" y="101.8" font-family="'Liberation Serif', serif" font-size="27">T = 1.05T<tspan font-size="21.6" dx="1.3" dy="-13">p</tspan><tspan font-size="21.6" dx="-10.8" dy="21">c</tspan><tspan dy="-8" dx="-0.09"> = 2.394</tspan></text>
<path d="M516 92.9H593.6" stroke="#ff0000" stroke-width="1.3" fill="none"/>
<path d="M551.35 89.45h6.9v6.9h-6.9z" fill="#ff0000"/>
<text class="s" x="290.4" y="135.9" font-family="'Liberation Serif', serif" font-size="27">T = 1.08T<tspan font-size="21.6" dx="1.3" dy="-13">p</tspan><tspan font-size="21.6" dx="-10.8" dy="21">c</tspan><tspan dy="-8" dx="-0.09"> = 2.462</tspan></text>
<path d="M516 126.8H593.6" stroke="#0000ff" stroke-width="1.3" fill="none"/>
<path d="M551.35 126.8a3.45 3.45 0 1 0 6.9 0a3.45 3.45 0 1 0 -6.9 0z" fill="#0000ff"/>
<text class="s" x="290.4" y="169.6" font-family="'Liberation Serif', serif" font-size="27">T = 1.10T<tspan font-size="21.6" dx="1.3" dy="-13">p</tspan><tspan font-size="21.6" dx="-10.8" dy="21">c</tspan><tspan dy="-8" dx="-0.09"> = 2.508</tspan></text>
<path d="M516 160.8H593.6" stroke="#ff00ff" stroke-width="1.3" fill="none"/>
<path d="M551.2 160.8l3.6 -3.6l3.6 3.6l-3.6 3.6z" fill="#ff00ff"/>
<text class="s" x="290.4" y="639.7" font-family="'Liberation Serif', serif" font-size="27">T = 1.05T<tspan font-size="21.6" dx="1.3" dy="-13">p</tspan><tspan font-size="21.6" dx="-10.8" dy="21">c</tspan><tspan dy="-8" dx="-0.09"> = 2.394</tspan></text>
<path d="M516 630.8H593.6" stroke="#ff0000" stroke-width="1.3" fill="none"/>
<path d="M551.35 627.35h6.9v6.9h-6.9z" fill="#ff0000"/>
<text class="s" x="290.4" y="673.8" font-family="'Liberation Serif', serif" font-size="27">T = 1.08T<tspan font-size="21.6" dx="1.3" dy="-13">p</tspan><tspan font-size="21.6" dx="-10.8" dy="21">c</tspan><tspan dy="-8" dx="-0.09"> = 2.462</tspan></text>
<path d="M516 664.7H593.6" stroke="#0000ff" stroke-width="1.3" fill="none"/>
<path d="M551.35 664.7a3.45 3.45 0 1 0 6.9 0a3.45 3.45 0 1 0 -6.9 0z" fill="#0000ff"/>
<text class="s" x="290.4" y="707.5" font-family="'Liberation Serif', serif" font-size="27">T = 1.10T<tspan font-size="21.6" dx="1.3" dy="-13">p</tspan><tspan font-size="21.6" dx="-10.8" dy="21">c</tspan><tspan dy="-8" dx="-0.09"> = 2.508</tspan></text>
<path d="M516 698.7H593.6" stroke="#ff00ff" stroke-width="1.3" fill="none"/>
<path d="M551.2 698.7l3.6 -3.6l3.6 3.6l-3.6 3.6z" fill="#ff00ff"/>
<text class="s" x="1059.9" y="99.3" font-family="'Liberation Serif', serif" font-size="27">T = 1.05T<tspan font-size="21.6" dx="0.5" dy="8">c</tspan><tspan dx="0.5" dy="-8"> = 4.736</tspan></text>
<path d="M1285.4 92.9H1362.3" stroke="#ff0000" stroke-width="1.3" fill="none"/>
<path d="M1320.4 89.45h6.9v6.9h-6.9z" fill="#ff0000"/>
<text class="s" x="1059.9" y="133.2" font-family="'Liberation Serif', serif" font-size="27">T = 1.08T<tspan font-size="21.6" dx="0.5" dy="8">c</tspan><tspan dx="0.5" dy="-8"> = 4.872</tspan></text>
<path d="M1285.4 126.8H1362.3" stroke="#0000ff" stroke-width="1.3" fill="none"/>
<path d="M1320.4 126.8a3.45 3.45 0 1 0 6.9 0a3.45 3.45 0 1 0 -6.9 0z" fill="#0000ff"/>
<text class="s" x="1059.9" y="167.1" font-family="'Liberation Serif', serif" font-size="27">T = 1.10T<tspan font-size="21.6" dx="0.5" dy="8">c</tspan><tspan dx="0.5" dy="-8"> = 4.962</tspan></text>
<path d="M1285.4 160.8H1362.3" stroke="#9400d3" stroke-width="1.3" fill="none"/>
<path d="M1319.65 160.8l4.2 -4.2l4.2 4.2l-4.2 4.2z" fill="#9400d3"/>
<text class="s" x="1059.9" y="637.2" font-family="'Liberation Serif', serif" font-size="27">T = 1.05T<tspan font-size="21.6" dx="0.5" dy="8">c</tspan><tspan dx="0.5" dy="-8"> = 4.736</tspan></text>
<path d="M1285.4 630.8H1362.3" stroke="#ff0000" stroke-width="1.3" fill="none"/>
<path d="M1320.4 627.35h6.9v6.9h-6.9z" fill="#ff0000"/>
<text class="s" x="1059.9" y="671.1" font-family="'Liberation Serif', serif" font-size="27">T = 1.08T<tspan font-size="21.6" dx="0.5" dy="8">c</tspan><tspan dx="0.5" dy="-8"> = 4.872</tspan></text>
<path d="M1285.4 664.7H1362.3" stroke="#0000ff" stroke-width="1.3" fill="none"/>
<path d="M1320.4 664.7a3.45 3.45 0 1 0 6.9 0a3.45 3.45 0 1 0 -6.9 0z" fill="#0000ff"/>
<text class="s" x="1059.9" y="705" font-family="'Liberation Serif', serif" font-size="27">T = 1.10T<tspan font-size="21.6" dx="0.5" dy="8">c</tspan><tspan dx="0.5" dy="-8"> = 4.962</tspan></text>
<path d="M1285.4 698.7H1362.3" stroke="#9400d3" stroke-width="1.3" fill="none"/>
<path d="M1319.65 698.7l4.2 -4.2l4.2 4.2l-4.2 4.2z" fill="#9400d3"/>
<text x="282.3" y="257.7" font-family="'Liberation Serif', serif" font-size="31.2" class="s">Cubic Shell; L=50</text>
<text x="282.3" y="870" font-family="'Liberation Serif', serif" font-size="31.2" class="s">Cubic Shell; L=50</text>
<text x="1108.3" y="237.4" font-family="'Liberation Serif', serif" font-size="31.2" class="s">Solid Cube; L=50</text>
<text x="1136.6" y="751.2" font-family="'Liberation Serif', serif" font-size="31.1" class="s">Solid Cube; L=50</text>
<text x="13.5" y="296.1" font-family="'Liberation Serif', serif" font-size="52" font-weight="bold">m(t)</text>
<text x="13.5" y="834" font-family="'Liberation Serif', serif" font-size="52" font-weight="bold">m(t)</text>
<text x="782" y="296.1" font-family="'Liberation Serif', serif" font-size="52" font-weight="bold">m(t)</text>
<text x="766" y="834" font-family="'Liberation Serif', serif" font-size="52" font-weight="bold">m(t)</text>
<text x="411.5" y="577.3" font-family="'Liberation Serif', serif" font-size="52" font-weight="bold" text-anchor="middle">t</text>
<text x="411.5" y="1115.2" font-family="'Liberation Serif', serif" font-size="52" font-weight="bold" text-anchor="middle">t</text>
<text x="1180.5" y="577.3" font-family="'Liberation Serif', serif" font-size="52" font-weight="bold" text-anchor="middle">t</text>
<text x="1180.5" y="1115.2" font-family="'Liberation Serif', serif" font-size="52" font-weight="bold" text-anchor="middle">t</text>
<text x="692.3" y="503.4" font-family="'Liberation Serif', serif" font-size="34" font-weight="bold">(a)</text>
<text x="691.5" y="1041.7" font-family="'Liberation Serif', serif" font-size="34" font-weight="bold">(b)</text>
<text x="1461.3" y="503.4" font-family="'Liberation Serif', serif" font-size="34" font-weight="bold">(c)</text>
<text x="1460.4" y="1041.7" font-family="'Liberation Serif', serif" font-size="34" font-weight="bold">(d)</text>
</svg></body></html>
